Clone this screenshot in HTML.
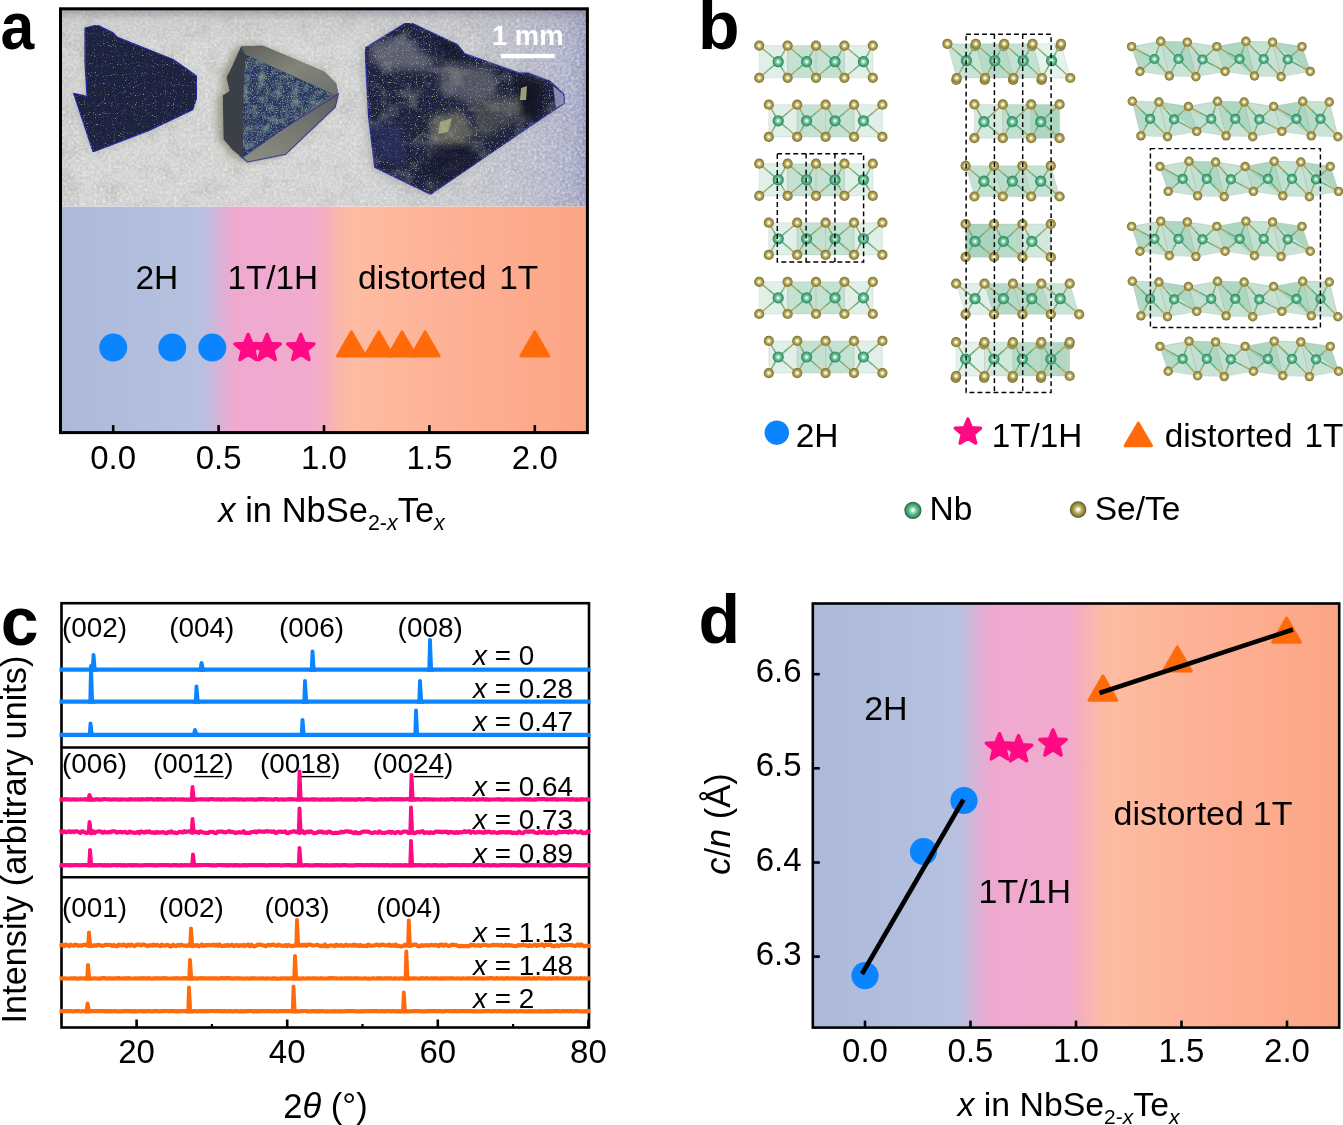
<!DOCTYPE html>
<html lang="en">
<head>
<meta charset="utf-8">
<title>NbSe2-xTex structural phases</title>
<style>
html,body{margin:0;padding:0;background:#fff;}
body{width:1343px;height:1125px;overflow:hidden;}
svg{display:block;}
text{font-family:"Liberation Sans",Arial,Helvetica,sans-serif;fill:#000;}
.b{font-weight:bold;}
.i{font-style:italic;}
</style>
</head>
<body>
<svg width="1343" height="1125" viewBox="0 0 1343 1125">

<defs>
<linearGradient id="bg" x1="0" y1="0" x2="1" y2="0">
  <stop offset="0" stop-color="#adb9d9"/>
  <stop offset="0.255" stop-color="#b6c1e0"/>
  <stop offset="0.275" stop-color="#bcbfe0"/>
  <stop offset="0.30" stop-color="#d4b4d8"/>
  <stop offset="0.325" stop-color="#ecaad0"/>
  <stop offset="0.35" stop-color="#f0a9cf"/>
  <stop offset="0.475" stop-color="#f1abce"/>
  <stop offset="0.505" stop-color="#f5b0bc"/>
  <stop offset="0.535" stop-color="#fbb8a8"/>
  <stop offset="0.56" stop-color="#fdbca2"/>
  <stop offset="0.75" stop-color="#fdb095"/>
  <stop offset="1" stop-color="#fca585"/>
</linearGradient>
<linearGradient id="bgD" x1="0" y1="0" x2="1" y2="0">
  <stop offset="0.000" stop-color="#adb9d9"/>
  <stop offset="0.263" stop-color="#b6c1e0"/>
  <stop offset="0.283" stop-color="#bcbfe0"/>
  <stop offset="0.308" stop-color="#d4b4d8"/>
  <stop offset="0.333" stop-color="#ecaad0"/>
  <stop offset="0.358" stop-color="#f0a9cf"/>
  <stop offset="0.483" stop-color="#f1abce"/>
  <stop offset="0.513" stop-color="#f5b0bc"/>
  <stop offset="0.543" stop-color="#fbb8a8"/>
  <stop offset="0.568" stop-color="#fdbca2"/>
  <stop offset="0.758" stop-color="#fdb095"/>
  <stop offset="1.000" stop-color="#fca585"/>
</linearGradient>
<radialGradient id="gSe" cx="0.5" cy="0.5" r="0.5" fx="0.5" fy="0.5">
  <stop offset="0" stop-color="#ffffff"/>
  <stop offset="0.13" stop-color="#fffff2"/>
  <stop offset="0.32" stop-color="#d8d190"/>
  <stop offset="0.55" stop-color="#b0a45c"/>
  <stop offset="0.8" stop-color="#94883f"/>
  <stop offset="1" stop-color="#756a30"/>
</radialGradient>
<radialGradient id="gNb" cx="0.5" cy="0.5" r="0.5" fx="0.5" fy="0.5">
  <stop offset="0" stop-color="#ffffff"/>
  <stop offset="0.12" stop-color="#eafff4"/>
  <stop offset="0.32" stop-color="#98dcb8"/>
  <stop offset="0.55" stop-color="#5db88c"/>
  <stop offset="0.8" stop-color="#469a70"/>
  <stop offset="1" stop-color="#327a56"/>
</radialGradient>
</defs>

<rect x="0" y="0" width="1343" height="1125" fill="#fff"/>
<g id="panel-a">
<defs>
<filter id="paper" x="0" y="0" width="1" height="1" color-interpolation-filters="sRGB">
  <feTurbulence type="fractalNoise" baseFrequency="0.35" numOctaves="3" seed="7" result="n"/>
  <feColorMatrix in="n" type="matrix" values="0 0 0 0 1  0 0 0 0 1  0 0 0 0 1  0.7 0.7 0 0 -0.55" result="wn"/>
  <feTurbulence type="fractalNoise" baseFrequency="0.05" numOctaves="2" seed="11" result="n2"/>
  <feColorMatrix in="n2" type="matrix" values="0 0 0 0 0.56  0 0 0 0 0.57  0 0 0 0 0.56  0 0.6 0 0 -0.28" result="dk"/>
  <feMerge><feMergeNode in="SourceGraphic"/><feMergeNode in="dk"/><feMergeNode in="wn"/></feMerge>
</filter>
<filter id="speck1" x="0" y="0" width="1" height="1" color-interpolation-filters="sRGB">
  <feTurbulence type="fractalNoise" baseFrequency="0.9" numOctaves="1" seed="3" result="n"/>
  <feColorMatrix in="n" type="matrix" values="0 0 0 0 0.55  0 0 0 0 0.60  0 0 0 0 0.50  3 3 0 0 -3.45" result="a"/>
  <feComposite in="a" in2="SourceGraphic" operator="in" result="s"/>
  <feMerge><feMergeNode in="SourceGraphic"/><feMergeNode in="s"/></feMerge>
</filter>
<filter id="speck2" x="0" y="0" width="1" height="1" color-interpolation-filters="sRGB">
  <feTurbulence type="fractalNoise" baseFrequency="0.12" numOctaves="3" seed="14" result="lf"/>
  <feColorMatrix in="lf" type="matrix" values="0 0 0 0 0.42  0 0 0 0 0.50  0 0 0 0 0.52  2.4 1.0 0 0 -1.5" result="la"/>
  <feComposite in="la" in2="SourceGraphic" operator="in" result="ls"/>
  <feTurbulence type="fractalNoise" baseFrequency="0.8" numOctaves="2" seed="5" result="n"/>
  <feColorMatrix in="n" type="matrix" values="0 0 0 0 0.50  0 0 0 0 0.62  0 0 0 0 0.58  2.4 2.4 0 0 -2.35" result="a"/>
  <feComposite in="a" in2="SourceGraphic" operator="in" result="s"/>
  <feMerge><feMergeNode in="SourceGraphic"/><feMergeNode in="ls"/><feMergeNode in="s"/></feMerge>
</filter>
<filter id="speck3" x="0" y="0" width="1" height="1" color-interpolation-filters="sRGB">
  <feTurbulence type="fractalNoise" baseFrequency="0.045 0.06" numOctaves="3" seed="21" result="lf"/>
  <feColorMatrix in="lf" type="matrix" values="0 0 0 0 0.40  0 0 0 0 0.41  0 0 0 0 0.46  2.2 0.8 0 0 -1.5" result="la"/>
  <feComposite in="la" in2="SourceGraphic" operator="in" result="ls"/>
  <feTurbulence type="fractalNoise" baseFrequency="0.85" numOctaves="1" seed="9" result="n"/>
  <feColorMatrix in="n" type="matrix" values="0 0 0 0 0.62  0 0 0 0 0.66  0 0 0 0 0.55  3 3 0 0 -3.3" result="a"/>
  <feComposite in="a" in2="SourceGraphic" operator="in" result="s"/>
  <feMerge><feMergeNode in="SourceGraphic"/><feMergeNode in="ls"/><feMergeNode in="s"/></feMerge>
</filter>
<filter id="soft"><feGaussianBlur stdDeviation="0.7"/></filter>
<filter id="shadow" x="-0.3" y="-0.3" width="1.6" height="1.6"><feGaussianBlur stdDeviation="4"/></filter>
<linearGradient id="photoBg" x1="0" y1="0" x2="1" y2="0">
  <stop offset="0" stop-color="#c6c7c5"/>
  <stop offset="0.04" stop-color="#cfd0ce"/>
  <stop offset="0.55" stop-color="#cdcecd"/>
  <stop offset="0.78" stop-color="#c2c3c9"/>
  <stop offset="0.9" stop-color="#b3b5c7"/>
  <stop offset="0.97" stop-color="#a5a8c4"/>
  <stop offset="1" stop-color="#8f92b8"/>
</linearGradient>
<linearGradient id="photoTop" x1="0" y1="0" x2="0" y2="1">
  <stop offset="0" stop-color="#5a5a6e" stop-opacity="0.45"/>
  <stop offset="0.06" stop-color="#8a8a96" stop-opacity="0.12"/>
  <stop offset="0.2" stop-color="#9a9aa0" stop-opacity="0"/>
  <stop offset="1" stop-color="#9a9aa0" stop-opacity="0"/>
</linearGradient>
<linearGradient id="f2a" x1="0" y1="0" x2="1" y2="1">
  <stop offset="0" stop-color="#5d605c"/>
  <stop offset="0.5" stop-color="#83857a"/>
  <stop offset="1" stop-color="#6d7070"/>
</linearGradient>
<linearGradient id="f2b" x1="1" y1="0" x2="0" y2="1">
  <stop offset="0" stop-color="#5c5f66"/>
  <stop offset="0.5" stop-color="#777972"/>
  <stop offset="1" stop-color="#8e8f82"/>
</linearGradient>
<clipPath id="clipA"><rect x="60.5" y="8.8" width="526.9" height="197.9"/></clipPath>
</defs>
<g clip-path="url(#clipA)">
<rect x="60.5" y="8.8" width="526.9" height="197.89999999999998" fill="url(#photoBg)" filter="url(#paper)"/>
<rect x="60.5" y="8.8" width="526.9" height="197.89999999999998" fill="url(#photoTop)"/>
<polygon points="85.1,28.1 97.2,25.1 113.0,33.0 117.5,37.5 172.6,59.3 186,68.5 196.7,76.4 196.3,98.5 192.7,109.5 148.5,130.6 93.2,151.7 73.7,93.4 87.1,96.5 85.1,62.3" fill="#8a8a84" opacity="0.35" filter="url(#shadow)" transform="translate(-2,2)"/>
<g filter="url(#soft)">
<polygon points="85.1,28.1 97.2,25.1 113.0,33.0 117.5,37.5 172.6,59.3 186,68.5 196.7,76.4 196.3,98.5 192.7,109.5 148.5,130.6 93.2,151.7 73.7,93.4 87.1,96.5 85.1,62.3" fill="#1c2140" stroke="#232796" stroke-width="1.4" stroke-linejoin="round" filter="url(#speck1)"/>
</g>
<polygon points="241,46.4 262.9,45.7 324.8,72.1 336.1,83.4 338.4,94 335.4,106.9 285.5,154.4 247.8,162 232.7,149.9 223.6,139.3 222.8,95.5 229.6,91 226.6,77.4 232.7,65.3" fill="#74765e" opacity="0.7" filter="url(#shadow)" transform="translate(-5,0)"/>
<g filter="url(#soft)">
<polygon points="241,46.4 262.9,45.7 324.8,72.1 336.1,83.4 338.4,94 335.4,106.9 285.5,154.4 247.8,162 232.7,149.9 223.6,139.3 222.8,95.5 229.6,91 226.6,77.4 232.7,65.3" fill="#3b4047"/>
<polygon points="241,46.4 262.9,45.7 324.8,72.1 336.1,83.4 338.4,94 332.4,94 245.5,54.7" fill="url(#f2a)"/>
<polygon points="332.4,94 338.4,94 335.4,106.9 285.5,154.4 247.8,162 243.2,157.5" fill="url(#f2b)"/>
<polygon points="245.5,54.7 332.4,94 243.2,157.5 242.6,110" fill="#28325e" filter="url(#speck2)"/>
<polygon points="338.4,94 335.4,106.9 285.5,154.4 247.8,162 240,156" fill="none" stroke="#2a2e92" stroke-width="1.2" stroke-opacity="0.7"/>
</g>
<polygon points="365.2,48.4 405.4,23.4 411.7,23.4 457.2,44.8 464.4,53.8 519.8,73.4 528.7,73.4 550.1,81.5 563.5,94 564.4,102.9 537.6,120.8 430.4,194.1 375,167.3 368.8,117.2" fill="#7c7c74" opacity="0.4" filter="url(#shadow)" transform="translate(-3,2)"/>
<g filter="url(#soft)">
<polygon points="365.2,48.4 405.4,23.4 411.7,23.4 457.2,44.8 464.4,53.8 519.8,73.4 528.7,73.4 550.1,81.5 563.5,94 564.4,102.9 537.6,120.8 430.4,194.1 375,167.3 368.8,117.2" fill="#1f233f" stroke="#24289a" stroke-width="1.6" stroke-linejoin="round" filter="url(#speck3)"/>
<clipPath id="clipC3"><polygon points="365.2,48.4 405.4,23.4 411.7,23.4 457.2,44.8 464.4,53.8 519.8,73.4 528.7,73.4 550.1,81.5 563.5,94 564.4,102.9 537.6,120.8 430.4,194.1 375,167.3 368.8,117.2"/></clipPath>
<filter id="blur4" x="-0.3" y="-0.3" width="1.6" height="1.6"><feGaussianBlur stdDeviation="3.5"/></filter>
<g clip-path="url(#clipC3)"><g filter="url(#blur4)">
<polygon points="371.4,42.2 403.6,38.4 435.8,61.8 425,70.8 385.7,69 369.7,60" fill="#8c8c98" opacity="0.55"/>
<polygon points="439.3,63.6 493,69 496.5,95.8 464.4,102.9 439.3,85" fill="#85868c" opacity="0.5"/>
<polygon points="430.4,117.2 460.8,110 475.1,135 450,145.8 428.6,135" fill="#9a9a78" opacity="0.5"/>
<polygon points="470,100 515,95 520,118 480,140" fill="#77786a" opacity="0.4"/>
<polygon points="516,76 542,82 540,118 520,118" fill="#090c1e" opacity="0.85"/>
<polygon points="430,145 470,140 480,162 442,188 424,172" fill="#0d1128" opacity="0.6"/>
<polygon points="436,36 458,46 464,58 444,60" fill="#0d1128" opacity="0.7"/>
<polygon points="372,120 400,125 405,165 378,160" fill="#2a3470" opacity="0.5"/>
</g></g>
<polygon points="440,122 452,118 448,132 438,134" fill="#d4d49a" opacity="0.55"/>
<polygon points="521,88 527,86 526,100 520,100" fill="#d6d69a" opacity="0.7"/>
<polygon points="553,86 563,94 564,103 556,108" fill="#a6acd8" opacity="0.75"/>
</g>
</g>
<rect x="501" y="53.8" width="53.6" height="4.4" fill="#fff"/>
<text x="527.80" y="44.80" font-size="27.4" text-anchor="middle" class="b" style="fill:#fff">1 mm</text>
<rect x="60.5" y="206.7" width="526.9" height="225.90000000000003" fill="url(#bg)"/>
<circle cx="113.20" cy="347.60" r="14" fill="#0a84ff"/>
<circle cx="172.22" cy="347.60" r="14" fill="#0a84ff"/>
<circle cx="212.28" cy="347.60" r="14" fill="#0a84ff"/>
<polygon points="248.11,334.40 251.71,343.35 261.33,344.00 253.93,350.19 256.28,359.55 248.11,354.42 239.94,359.55 242.30,350.19 234.89,344.00 244.52,343.35" fill="#ff0a84" stroke="#ff0a84" stroke-width="3.4" stroke-linejoin="round" />
<polygon points="267.08,334.40 270.68,343.35 280.30,344.00 272.90,350.19 275.25,359.55 267.08,354.42 258.91,359.55 261.27,350.19 253.86,344.00 263.49,343.35" fill="#ff0a84" stroke="#ff0a84" stroke-width="3.4" stroke-linejoin="round" />
<polygon points="300.81,334.40 304.41,343.35 314.03,344.00 306.63,350.19 308.98,359.55 300.81,354.42 292.64,359.55 295.00,350.19 287.59,344.00 297.22,343.35" fill="#ff0a84" stroke="#ff0a84" stroke-width="3.4" stroke-linejoin="round" />
<polygon points="351.40,331.90 365.30,356.10 337.50,356.10" fill="#ff6a0a" stroke="#ff6a0a" stroke-width="3" stroke-linejoin="round"/>
<polygon points="378.81,331.90 392.71,356.10 364.91,356.10" fill="#ff6a0a" stroke="#ff6a0a" stroke-width="3" stroke-linejoin="round"/>
<polygon points="402.00,331.90 415.90,356.10 388.10,356.10" fill="#ff6a0a" stroke="#ff6a0a" stroke-width="3" stroke-linejoin="round"/>
<polygon points="425.18,331.90 439.08,356.10 411.28,356.10" fill="#ff6a0a" stroke="#ff6a0a" stroke-width="3" stroke-linejoin="round"/>
<polygon points="534.80,331.90 548.70,356.10 520.90,356.10" fill="#ff6a0a" stroke="#ff6a0a" stroke-width="3" stroke-linejoin="round"/>
<text x="135.40" y="288.50" font-size="33.5" text-anchor="start" >2H</text>
<text x="227.40" y="288.50" font-size="33.3" text-anchor="start" >1T/1H</text>
<text x="358.00" y="288.50" font-size="33.5" text-anchor="start" >distorted</text>
<text x="538.30" y="288.50" font-size="33.5" text-anchor="end" >1T</text>
<line x1="113.20" y1="432.6" x2="113.20" y2="425.1" stroke="#000" stroke-width="2.6"/>
<text x="113.20" y="469.00" font-size="33" text-anchor="middle" >0.0</text>
<line x1="218.60" y1="432.6" x2="218.60" y2="425.1" stroke="#000" stroke-width="2.6"/>
<text x="218.60" y="469.00" font-size="33" text-anchor="middle" >0.5</text>
<line x1="324.00" y1="432.6" x2="324.00" y2="425.1" stroke="#000" stroke-width="2.6"/>
<text x="324.00" y="469.00" font-size="33" text-anchor="middle" >1.0</text>
<line x1="429.40" y1="432.6" x2="429.40" y2="425.1" stroke="#000" stroke-width="2.6"/>
<text x="429.40" y="469.00" font-size="33" text-anchor="middle" >1.5</text>
<line x1="534.80" y1="432.6" x2="534.80" y2="425.1" stroke="#000" stroke-width="2.6"/>
<text x="534.80" y="469.00" font-size="33" text-anchor="middle" >2.0</text>
<rect x="60.5" y="8.8" width="526.9" height="423.8" fill="none" stroke="#000" stroke-width="3"/>
<text x="331.60" y="522.00" font-size="34.5" text-anchor="middle"><tspan class="i">x</tspan> in NbSe<tspan font-size="21.4" dy="7.6">2-<tspan class="i">x</tspan></tspan><tspan dy="-7.6">Te</tspan><tspan font-size="21.4" dy="7.6" class="i">x</tspan></text>
<text transform="translate(0.6,49) scale(0.905,1)" font-size="67" class="b">a</text>
</g><g id="panel-b">
<polygon points="759.2,45.6 787.6,45.6 787.6,77.8 759.2,77.8" fill="#72b894" fill-opacity="0.22" stroke="#9aa8a0" stroke-opacity="0.35" stroke-width="0.6"/><polygon points="787.6,45.6 816.0,45.6 816.0,77.8 787.6,77.8" fill="#72b894" fill-opacity="0.42" stroke="#9aa8a0" stroke-opacity="0.35" stroke-width="0.6"/><polygon points="816.0,45.6 844.4,45.6 844.4,77.8 816.0,77.8" fill="#72b894" fill-opacity="0.42" stroke="#9aa8a0" stroke-opacity="0.35" stroke-width="0.6"/><polygon points="844.4,45.6 872.8,45.6 872.8,77.8 844.4,77.8" fill="#72b894" fill-opacity="0.22" stroke="#9aa8a0" stroke-opacity="0.35" stroke-width="0.6"/><line x1="778.2" y1="61.7" x2="768.7" y2="53.7" stroke="#56b488" stroke-width="1.5"/><line x1="768.7" y1="53.7" x2="759.2" y2="45.6" stroke="#b3a660" stroke-width="1.5"/><line x1="778.2" y1="61.7" x2="782.9" y2="53.7" stroke="#56b488" stroke-width="1.5"/><line x1="782.9" y1="53.7" x2="787.6" y2="45.6" stroke="#b3a660" stroke-width="1.5"/><line x1="778.2" y1="61.7" x2="768.7" y2="69.8" stroke="#56b488" stroke-width="1.5"/><line x1="768.7" y1="69.8" x2="759.2" y2="77.8" stroke="#b3a660" stroke-width="1.5"/><line x1="778.2" y1="61.7" x2="782.9" y2="69.8" stroke="#56b488" stroke-width="1.5"/><line x1="782.9" y1="69.8" x2="787.6" y2="77.8" stroke="#b3a660" stroke-width="1.5"/><line x1="806.6" y1="61.7" x2="797.1" y2="53.7" stroke="#56b488" stroke-width="1.5"/><line x1="797.1" y1="53.7" x2="787.6" y2="45.6" stroke="#b3a660" stroke-width="1.5"/><line x1="806.6" y1="61.7" x2="811.3" y2="53.7" stroke="#56b488" stroke-width="1.5"/><line x1="811.3" y1="53.7" x2="816.0" y2="45.6" stroke="#b3a660" stroke-width="1.5"/><line x1="806.6" y1="61.7" x2="797.1" y2="69.8" stroke="#56b488" stroke-width="1.5"/><line x1="797.1" y1="69.8" x2="787.6" y2="77.8" stroke="#b3a660" stroke-width="1.5"/><line x1="806.6" y1="61.7" x2="811.3" y2="69.8" stroke="#56b488" stroke-width="1.5"/><line x1="811.3" y1="69.8" x2="816.0" y2="77.8" stroke="#b3a660" stroke-width="1.5"/><line x1="835.0" y1="61.7" x2="825.5" y2="53.7" stroke="#56b488" stroke-width="1.5"/><line x1="825.5" y1="53.7" x2="816.0" y2="45.6" stroke="#b3a660" stroke-width="1.5"/><line x1="835.0" y1="61.7" x2="839.7" y2="53.7" stroke="#56b488" stroke-width="1.5"/><line x1="839.7" y1="53.7" x2="844.4" y2="45.6" stroke="#b3a660" stroke-width="1.5"/><line x1="835.0" y1="61.7" x2="825.5" y2="69.8" stroke="#56b488" stroke-width="1.5"/><line x1="825.5" y1="69.8" x2="816.0" y2="77.8" stroke="#b3a660" stroke-width="1.5"/><line x1="835.0" y1="61.7" x2="839.7" y2="69.8" stroke="#56b488" stroke-width="1.5"/><line x1="839.7" y1="69.8" x2="844.4" y2="77.8" stroke="#b3a660" stroke-width="1.5"/><line x1="863.4" y1="61.7" x2="853.9" y2="53.7" stroke="#56b488" stroke-width="1.5"/><line x1="853.9" y1="53.7" x2="844.4" y2="45.6" stroke="#b3a660" stroke-width="1.5"/><line x1="863.4" y1="61.7" x2="868.1" y2="53.7" stroke="#56b488" stroke-width="1.5"/><line x1="868.1" y1="53.7" x2="872.8" y2="45.6" stroke="#b3a660" stroke-width="1.5"/><line x1="863.4" y1="61.7" x2="853.9" y2="69.8" stroke="#56b488" stroke-width="1.5"/><line x1="853.9" y1="69.8" x2="844.4" y2="77.8" stroke="#b3a660" stroke-width="1.5"/><line x1="863.4" y1="61.7" x2="868.1" y2="69.8" stroke="#56b488" stroke-width="1.5"/><line x1="868.1" y1="69.8" x2="872.8" y2="77.8" stroke="#b3a660" stroke-width="1.5"/><circle cx="778.2" cy="61.7" r="5.6" fill="url(#gNb)"/><circle cx="806.6" cy="61.7" r="5.6" fill="url(#gNb)"/><circle cx="835.0" cy="61.7" r="5.6" fill="url(#gNb)"/><circle cx="863.4" cy="61.7" r="5.6" fill="url(#gNb)"/><circle cx="759.2" cy="45.6" r="5.1" fill="url(#gSe)"/><circle cx="787.6" cy="45.6" r="5.1" fill="url(#gSe)"/><circle cx="816.0" cy="45.6" r="5.1" fill="url(#gSe)"/><circle cx="844.4" cy="45.6" r="5.1" fill="url(#gSe)"/><circle cx="872.8" cy="45.6" r="5.1" fill="url(#gSe)"/><circle cx="759.2" cy="77.8" r="5.1" fill="url(#gSe)"/><circle cx="787.6" cy="77.8" r="5.1" fill="url(#gSe)"/><circle cx="816.0" cy="77.8" r="5.1" fill="url(#gSe)"/><circle cx="844.4" cy="77.8" r="5.1" fill="url(#gSe)"/><circle cx="872.8" cy="77.8" r="5.1" fill="url(#gSe)"/><polygon points="768.8,104.7 797.2,104.7 797.2,136.9 768.8,136.9" fill="#72b894" fill-opacity="0.22" stroke="#9aa8a0" stroke-opacity="0.35" stroke-width="0.6"/><polygon points="797.2,104.7 825.6,104.7 825.6,136.9 797.2,136.9" fill="#72b894" fill-opacity="0.42" stroke="#9aa8a0" stroke-opacity="0.35" stroke-width="0.6"/><polygon points="825.6,104.7 854.0,104.7 854.0,136.9 825.6,136.9" fill="#72b894" fill-opacity="0.42" stroke="#9aa8a0" stroke-opacity="0.35" stroke-width="0.6"/><polygon points="854.0,104.7 882.4,104.7 882.4,136.9 854.0,136.9" fill="#72b894" fill-opacity="0.22" stroke="#9aa8a0" stroke-opacity="0.35" stroke-width="0.6"/><line x1="778.2" y1="120.8" x2="773.5" y2="112.7" stroke="#56b488" stroke-width="1.5"/><line x1="773.5" y1="112.7" x2="768.8" y2="104.7" stroke="#b3a660" stroke-width="1.5"/><line x1="778.2" y1="120.8" x2="787.7" y2="112.7" stroke="#56b488" stroke-width="1.5"/><line x1="787.7" y1="112.7" x2="797.2" y2="104.7" stroke="#b3a660" stroke-width="1.5"/><line x1="778.2" y1="120.8" x2="773.5" y2="128.8" stroke="#56b488" stroke-width="1.5"/><line x1="773.5" y1="128.8" x2="768.8" y2="136.9" stroke="#b3a660" stroke-width="1.5"/><line x1="778.2" y1="120.8" x2="787.7" y2="128.8" stroke="#56b488" stroke-width="1.5"/><line x1="787.7" y1="128.8" x2="797.2" y2="136.9" stroke="#b3a660" stroke-width="1.5"/><line x1="806.6" y1="120.8" x2="801.9" y2="112.7" stroke="#56b488" stroke-width="1.5"/><line x1="801.9" y1="112.7" x2="797.2" y2="104.7" stroke="#b3a660" stroke-width="1.5"/><line x1="806.6" y1="120.8" x2="816.1" y2="112.7" stroke="#56b488" stroke-width="1.5"/><line x1="816.1" y1="112.7" x2="825.6" y2="104.7" stroke="#b3a660" stroke-width="1.5"/><line x1="806.6" y1="120.8" x2="801.9" y2="128.8" stroke="#56b488" stroke-width="1.5"/><line x1="801.9" y1="128.8" x2="797.2" y2="136.9" stroke="#b3a660" stroke-width="1.5"/><line x1="806.6" y1="120.8" x2="816.1" y2="128.8" stroke="#56b488" stroke-width="1.5"/><line x1="816.1" y1="128.8" x2="825.6" y2="136.9" stroke="#b3a660" stroke-width="1.5"/><line x1="835.0" y1="120.8" x2="830.3" y2="112.7" stroke="#56b488" stroke-width="1.5"/><line x1="830.3" y1="112.7" x2="825.6" y2="104.7" stroke="#b3a660" stroke-width="1.5"/><line x1="835.0" y1="120.8" x2="844.5" y2="112.7" stroke="#56b488" stroke-width="1.5"/><line x1="844.5" y1="112.7" x2="854.0" y2="104.7" stroke="#b3a660" stroke-width="1.5"/><line x1="835.0" y1="120.8" x2="830.3" y2="128.8" stroke="#56b488" stroke-width="1.5"/><line x1="830.3" y1="128.8" x2="825.6" y2="136.9" stroke="#b3a660" stroke-width="1.5"/><line x1="835.0" y1="120.8" x2="844.5" y2="128.8" stroke="#56b488" stroke-width="1.5"/><line x1="844.5" y1="128.8" x2="854.0" y2="136.9" stroke="#b3a660" stroke-width="1.5"/><line x1="863.4" y1="120.8" x2="858.7" y2="112.7" stroke="#56b488" stroke-width="1.5"/><line x1="858.7" y1="112.7" x2="854.0" y2="104.7" stroke="#b3a660" stroke-width="1.5"/><line x1="863.4" y1="120.8" x2="872.9" y2="112.7" stroke="#56b488" stroke-width="1.5"/><line x1="872.9" y1="112.7" x2="882.4" y2="104.7" stroke="#b3a660" stroke-width="1.5"/><line x1="863.4" y1="120.8" x2="858.7" y2="128.8" stroke="#56b488" stroke-width="1.5"/><line x1="858.7" y1="128.8" x2="854.0" y2="136.9" stroke="#b3a660" stroke-width="1.5"/><line x1="863.4" y1="120.8" x2="872.9" y2="128.8" stroke="#56b488" stroke-width="1.5"/><line x1="872.9" y1="128.8" x2="882.4" y2="136.9" stroke="#b3a660" stroke-width="1.5"/><circle cx="778.2" cy="120.8" r="5.6" fill="url(#gNb)"/><circle cx="806.6" cy="120.8" r="5.6" fill="url(#gNb)"/><circle cx="835.0" cy="120.8" r="5.6" fill="url(#gNb)"/><circle cx="863.4" cy="120.8" r="5.6" fill="url(#gNb)"/><circle cx="768.8" cy="104.7" r="5.1" fill="url(#gSe)"/><circle cx="797.2" cy="104.7" r="5.1" fill="url(#gSe)"/><circle cx="825.6" cy="104.7" r="5.1" fill="url(#gSe)"/><circle cx="854.0" cy="104.7" r="5.1" fill="url(#gSe)"/><circle cx="882.4" cy="104.7" r="5.1" fill="url(#gSe)"/><circle cx="768.8" cy="136.9" r="5.1" fill="url(#gSe)"/><circle cx="797.2" cy="136.9" r="5.1" fill="url(#gSe)"/><circle cx="825.6" cy="136.9" r="5.1" fill="url(#gSe)"/><circle cx="854.0" cy="136.9" r="5.1" fill="url(#gSe)"/><circle cx="882.4" cy="136.9" r="5.1" fill="url(#gSe)"/><polygon points="759.2,163.7 787.6,163.7 787.6,195.9 759.2,195.9" fill="#72b894" fill-opacity="0.22" stroke="#9aa8a0" stroke-opacity="0.35" stroke-width="0.6"/><polygon points="787.6,163.7 816.0,163.7 816.0,195.9 787.6,195.9" fill="#72b894" fill-opacity="0.42" stroke="#9aa8a0" stroke-opacity="0.35" stroke-width="0.6"/><polygon points="816.0,163.7 844.4,163.7 844.4,195.9 816.0,195.9" fill="#72b894" fill-opacity="0.42" stroke="#9aa8a0" stroke-opacity="0.35" stroke-width="0.6"/><polygon points="844.4,163.7 872.8,163.7 872.8,195.9 844.4,195.9" fill="#72b894" fill-opacity="0.22" stroke="#9aa8a0" stroke-opacity="0.35" stroke-width="0.6"/><line x1="778.2" y1="179.8" x2="768.7" y2="171.8" stroke="#56b488" stroke-width="1.5"/><line x1="768.7" y1="171.8" x2="759.2" y2="163.7" stroke="#b3a660" stroke-width="1.5"/><line x1="778.2" y1="179.8" x2="782.9" y2="171.8" stroke="#56b488" stroke-width="1.5"/><line x1="782.9" y1="171.8" x2="787.6" y2="163.7" stroke="#b3a660" stroke-width="1.5"/><line x1="778.2" y1="179.8" x2="768.7" y2="187.8" stroke="#56b488" stroke-width="1.5"/><line x1="768.7" y1="187.8" x2="759.2" y2="195.9" stroke="#b3a660" stroke-width="1.5"/><line x1="778.2" y1="179.8" x2="782.9" y2="187.8" stroke="#56b488" stroke-width="1.5"/><line x1="782.9" y1="187.8" x2="787.6" y2="195.9" stroke="#b3a660" stroke-width="1.5"/><line x1="806.6" y1="179.8" x2="797.1" y2="171.8" stroke="#56b488" stroke-width="1.5"/><line x1="797.1" y1="171.8" x2="787.6" y2="163.7" stroke="#b3a660" stroke-width="1.5"/><line x1="806.6" y1="179.8" x2="811.3" y2="171.8" stroke="#56b488" stroke-width="1.5"/><line x1="811.3" y1="171.8" x2="816.0" y2="163.7" stroke="#b3a660" stroke-width="1.5"/><line x1="806.6" y1="179.8" x2="797.1" y2="187.8" stroke="#56b488" stroke-width="1.5"/><line x1="797.1" y1="187.8" x2="787.6" y2="195.9" stroke="#b3a660" stroke-width="1.5"/><line x1="806.6" y1="179.8" x2="811.3" y2="187.8" stroke="#56b488" stroke-width="1.5"/><line x1="811.3" y1="187.8" x2="816.0" y2="195.9" stroke="#b3a660" stroke-width="1.5"/><line x1="835.0" y1="179.8" x2="825.5" y2="171.8" stroke="#56b488" stroke-width="1.5"/><line x1="825.5" y1="171.8" x2="816.0" y2="163.7" stroke="#b3a660" stroke-width="1.5"/><line x1="835.0" y1="179.8" x2="839.7" y2="171.8" stroke="#56b488" stroke-width="1.5"/><line x1="839.7" y1="171.8" x2="844.4" y2="163.7" stroke="#b3a660" stroke-width="1.5"/><line x1="835.0" y1="179.8" x2="825.5" y2="187.8" stroke="#56b488" stroke-width="1.5"/><line x1="825.5" y1="187.8" x2="816.0" y2="195.9" stroke="#b3a660" stroke-width="1.5"/><line x1="835.0" y1="179.8" x2="839.7" y2="187.8" stroke="#56b488" stroke-width="1.5"/><line x1="839.7" y1="187.8" x2="844.4" y2="195.9" stroke="#b3a660" stroke-width="1.5"/><line x1="863.4" y1="179.8" x2="853.9" y2="171.8" stroke="#56b488" stroke-width="1.5"/><line x1="853.9" y1="171.8" x2="844.4" y2="163.7" stroke="#b3a660" stroke-width="1.5"/><line x1="863.4" y1="179.8" x2="868.1" y2="171.8" stroke="#56b488" stroke-width="1.5"/><line x1="868.1" y1="171.8" x2="872.8" y2="163.7" stroke="#b3a660" stroke-width="1.5"/><line x1="863.4" y1="179.8" x2="853.9" y2="187.8" stroke="#56b488" stroke-width="1.5"/><line x1="853.9" y1="187.8" x2="844.4" y2="195.9" stroke="#b3a660" stroke-width="1.5"/><line x1="863.4" y1="179.8" x2="868.1" y2="187.8" stroke="#56b488" stroke-width="1.5"/><line x1="868.1" y1="187.8" x2="872.8" y2="195.9" stroke="#b3a660" stroke-width="1.5"/><circle cx="778.2" cy="179.8" r="5.6" fill="url(#gNb)"/><circle cx="806.6" cy="179.8" r="5.6" fill="url(#gNb)"/><circle cx="835.0" cy="179.8" r="5.6" fill="url(#gNb)"/><circle cx="863.4" cy="179.8" r="5.6" fill="url(#gNb)"/><circle cx="759.2" cy="163.7" r="5.1" fill="url(#gSe)"/><circle cx="787.6" cy="163.7" r="5.1" fill="url(#gSe)"/><circle cx="816.0" cy="163.7" r="5.1" fill="url(#gSe)"/><circle cx="844.4" cy="163.7" r="5.1" fill="url(#gSe)"/><circle cx="872.8" cy="163.7" r="5.1" fill="url(#gSe)"/><circle cx="759.2" cy="195.9" r="5.1" fill="url(#gSe)"/><circle cx="787.6" cy="195.9" r="5.1" fill="url(#gSe)"/><circle cx="816.0" cy="195.9" r="5.1" fill="url(#gSe)"/><circle cx="844.4" cy="195.9" r="5.1" fill="url(#gSe)"/><circle cx="872.8" cy="195.9" r="5.1" fill="url(#gSe)"/><polygon points="768.8,222.7 797.2,222.7 797.2,254.9 768.8,254.9" fill="#72b894" fill-opacity="0.22" stroke="#9aa8a0" stroke-opacity="0.35" stroke-width="0.6"/><polygon points="797.2,222.7 825.6,222.7 825.6,254.9 797.2,254.9" fill="#72b894" fill-opacity="0.42" stroke="#9aa8a0" stroke-opacity="0.35" stroke-width="0.6"/><polygon points="825.6,222.7 854.0,222.7 854.0,254.9 825.6,254.9" fill="#72b894" fill-opacity="0.42" stroke="#9aa8a0" stroke-opacity="0.35" stroke-width="0.6"/><polygon points="854.0,222.7 882.4,222.7 882.4,254.9 854.0,254.9" fill="#72b894" fill-opacity="0.22" stroke="#9aa8a0" stroke-opacity="0.35" stroke-width="0.6"/><line x1="778.2" y1="238.8" x2="773.5" y2="230.8" stroke="#56b488" stroke-width="1.5"/><line x1="773.5" y1="230.8" x2="768.8" y2="222.7" stroke="#b3a660" stroke-width="1.5"/><line x1="778.2" y1="238.8" x2="787.7" y2="230.8" stroke="#56b488" stroke-width="1.5"/><line x1="787.7" y1="230.8" x2="797.2" y2="222.7" stroke="#b3a660" stroke-width="1.5"/><line x1="778.2" y1="238.8" x2="773.5" y2="246.9" stroke="#56b488" stroke-width="1.5"/><line x1="773.5" y1="246.9" x2="768.8" y2="254.9" stroke="#b3a660" stroke-width="1.5"/><line x1="778.2" y1="238.8" x2="787.7" y2="246.9" stroke="#56b488" stroke-width="1.5"/><line x1="787.7" y1="246.9" x2="797.2" y2="254.9" stroke="#b3a660" stroke-width="1.5"/><line x1="806.6" y1="238.8" x2="801.9" y2="230.8" stroke="#56b488" stroke-width="1.5"/><line x1="801.9" y1="230.8" x2="797.2" y2="222.7" stroke="#b3a660" stroke-width="1.5"/><line x1="806.6" y1="238.8" x2="816.1" y2="230.8" stroke="#56b488" stroke-width="1.5"/><line x1="816.1" y1="230.8" x2="825.6" y2="222.7" stroke="#b3a660" stroke-width="1.5"/><line x1="806.6" y1="238.8" x2="801.9" y2="246.9" stroke="#56b488" stroke-width="1.5"/><line x1="801.9" y1="246.9" x2="797.2" y2="254.9" stroke="#b3a660" stroke-width="1.5"/><line x1="806.6" y1="238.8" x2="816.1" y2="246.9" stroke="#56b488" stroke-width="1.5"/><line x1="816.1" y1="246.9" x2="825.6" y2="254.9" stroke="#b3a660" stroke-width="1.5"/><line x1="835.0" y1="238.8" x2="830.3" y2="230.8" stroke="#56b488" stroke-width="1.5"/><line x1="830.3" y1="230.8" x2="825.6" y2="222.7" stroke="#b3a660" stroke-width="1.5"/><line x1="835.0" y1="238.8" x2="844.5" y2="230.8" stroke="#56b488" stroke-width="1.5"/><line x1="844.5" y1="230.8" x2="854.0" y2="222.7" stroke="#b3a660" stroke-width="1.5"/><line x1="835.0" y1="238.8" x2="830.3" y2="246.9" stroke="#56b488" stroke-width="1.5"/><line x1="830.3" y1="246.9" x2="825.6" y2="254.9" stroke="#b3a660" stroke-width="1.5"/><line x1="835.0" y1="238.8" x2="844.5" y2="246.9" stroke="#56b488" stroke-width="1.5"/><line x1="844.5" y1="246.9" x2="854.0" y2="254.9" stroke="#b3a660" stroke-width="1.5"/><line x1="863.4" y1="238.8" x2="858.7" y2="230.8" stroke="#56b488" stroke-width="1.5"/><line x1="858.7" y1="230.8" x2="854.0" y2="222.7" stroke="#b3a660" stroke-width="1.5"/><line x1="863.4" y1="238.8" x2="872.9" y2="230.8" stroke="#56b488" stroke-width="1.5"/><line x1="872.9" y1="230.8" x2="882.4" y2="222.7" stroke="#b3a660" stroke-width="1.5"/><line x1="863.4" y1="238.8" x2="858.7" y2="246.9" stroke="#56b488" stroke-width="1.5"/><line x1="858.7" y1="246.9" x2="854.0" y2="254.9" stroke="#b3a660" stroke-width="1.5"/><line x1="863.4" y1="238.8" x2="872.9" y2="246.9" stroke="#56b488" stroke-width="1.5"/><line x1="872.9" y1="246.9" x2="882.4" y2="254.9" stroke="#b3a660" stroke-width="1.5"/><circle cx="778.2" cy="238.8" r="5.6" fill="url(#gNb)"/><circle cx="806.6" cy="238.8" r="5.6" fill="url(#gNb)"/><circle cx="835.0" cy="238.8" r="5.6" fill="url(#gNb)"/><circle cx="863.4" cy="238.8" r="5.6" fill="url(#gNb)"/><circle cx="768.8" cy="222.7" r="5.1" fill="url(#gSe)"/><circle cx="797.2" cy="222.7" r="5.1" fill="url(#gSe)"/><circle cx="825.6" cy="222.7" r="5.1" fill="url(#gSe)"/><circle cx="854.0" cy="222.7" r="5.1" fill="url(#gSe)"/><circle cx="882.4" cy="222.7" r="5.1" fill="url(#gSe)"/><circle cx="768.8" cy="254.9" r="5.1" fill="url(#gSe)"/><circle cx="797.2" cy="254.9" r="5.1" fill="url(#gSe)"/><circle cx="825.6" cy="254.9" r="5.1" fill="url(#gSe)"/><circle cx="854.0" cy="254.9" r="5.1" fill="url(#gSe)"/><circle cx="882.4" cy="254.9" r="5.1" fill="url(#gSe)"/><polygon points="759.2,281.8 787.6,281.8 787.6,314.0 759.2,314.0" fill="#72b894" fill-opacity="0.22" stroke="#9aa8a0" stroke-opacity="0.35" stroke-width="0.6"/><polygon points="787.6,281.8 816.0,281.8 816.0,314.0 787.6,314.0" fill="#72b894" fill-opacity="0.42" stroke="#9aa8a0" stroke-opacity="0.35" stroke-width="0.6"/><polygon points="816.0,281.8 844.4,281.8 844.4,314.0 816.0,314.0" fill="#72b894" fill-opacity="0.42" stroke="#9aa8a0" stroke-opacity="0.35" stroke-width="0.6"/><polygon points="844.4,281.8 872.8,281.8 872.8,314.0 844.4,314.0" fill="#72b894" fill-opacity="0.22" stroke="#9aa8a0" stroke-opacity="0.35" stroke-width="0.6"/><line x1="778.2" y1="297.9" x2="768.7" y2="289.9" stroke="#56b488" stroke-width="1.5"/><line x1="768.7" y1="289.9" x2="759.2" y2="281.8" stroke="#b3a660" stroke-width="1.5"/><line x1="778.2" y1="297.9" x2="782.9" y2="289.9" stroke="#56b488" stroke-width="1.5"/><line x1="782.9" y1="289.9" x2="787.6" y2="281.8" stroke="#b3a660" stroke-width="1.5"/><line x1="778.2" y1="297.9" x2="768.7" y2="306.0" stroke="#56b488" stroke-width="1.5"/><line x1="768.7" y1="306.0" x2="759.2" y2="314.0" stroke="#b3a660" stroke-width="1.5"/><line x1="778.2" y1="297.9" x2="782.9" y2="306.0" stroke="#56b488" stroke-width="1.5"/><line x1="782.9" y1="306.0" x2="787.6" y2="314.0" stroke="#b3a660" stroke-width="1.5"/><line x1="806.6" y1="297.9" x2="797.1" y2="289.9" stroke="#56b488" stroke-width="1.5"/><line x1="797.1" y1="289.9" x2="787.6" y2="281.8" stroke="#b3a660" stroke-width="1.5"/><line x1="806.6" y1="297.9" x2="811.3" y2="289.9" stroke="#56b488" stroke-width="1.5"/><line x1="811.3" y1="289.9" x2="816.0" y2="281.8" stroke="#b3a660" stroke-width="1.5"/><line x1="806.6" y1="297.9" x2="797.1" y2="306.0" stroke="#56b488" stroke-width="1.5"/><line x1="797.1" y1="306.0" x2="787.6" y2="314.0" stroke="#b3a660" stroke-width="1.5"/><line x1="806.6" y1="297.9" x2="811.3" y2="306.0" stroke="#56b488" stroke-width="1.5"/><line x1="811.3" y1="306.0" x2="816.0" y2="314.0" stroke="#b3a660" stroke-width="1.5"/><line x1="835.0" y1="297.9" x2="825.5" y2="289.9" stroke="#56b488" stroke-width="1.5"/><line x1="825.5" y1="289.9" x2="816.0" y2="281.8" stroke="#b3a660" stroke-width="1.5"/><line x1="835.0" y1="297.9" x2="839.7" y2="289.9" stroke="#56b488" stroke-width="1.5"/><line x1="839.7" y1="289.9" x2="844.4" y2="281.8" stroke="#b3a660" stroke-width="1.5"/><line x1="835.0" y1="297.9" x2="825.5" y2="306.0" stroke="#56b488" stroke-width="1.5"/><line x1="825.5" y1="306.0" x2="816.0" y2="314.0" stroke="#b3a660" stroke-width="1.5"/><line x1="835.0" y1="297.9" x2="839.7" y2="306.0" stroke="#56b488" stroke-width="1.5"/><line x1="839.7" y1="306.0" x2="844.4" y2="314.0" stroke="#b3a660" stroke-width="1.5"/><line x1="863.4" y1="297.9" x2="853.9" y2="289.9" stroke="#56b488" stroke-width="1.5"/><line x1="853.9" y1="289.9" x2="844.4" y2="281.8" stroke="#b3a660" stroke-width="1.5"/><line x1="863.4" y1="297.9" x2="868.1" y2="289.9" stroke="#56b488" stroke-width="1.5"/><line x1="868.1" y1="289.9" x2="872.8" y2="281.8" stroke="#b3a660" stroke-width="1.5"/><line x1="863.4" y1="297.9" x2="853.9" y2="306.0" stroke="#56b488" stroke-width="1.5"/><line x1="853.9" y1="306.0" x2="844.4" y2="314.0" stroke="#b3a660" stroke-width="1.5"/><line x1="863.4" y1="297.9" x2="868.1" y2="306.0" stroke="#56b488" stroke-width="1.5"/><line x1="868.1" y1="306.0" x2="872.8" y2="314.0" stroke="#b3a660" stroke-width="1.5"/><circle cx="778.2" cy="297.9" r="5.6" fill="url(#gNb)"/><circle cx="806.6" cy="297.9" r="5.6" fill="url(#gNb)"/><circle cx="835.0" cy="297.9" r="5.6" fill="url(#gNb)"/><circle cx="863.4" cy="297.9" r="5.6" fill="url(#gNb)"/><circle cx="759.2" cy="281.8" r="5.1" fill="url(#gSe)"/><circle cx="787.6" cy="281.8" r="5.1" fill="url(#gSe)"/><circle cx="816.0" cy="281.8" r="5.1" fill="url(#gSe)"/><circle cx="844.4" cy="281.8" r="5.1" fill="url(#gSe)"/><circle cx="872.8" cy="281.8" r="5.1" fill="url(#gSe)"/><circle cx="759.2" cy="314.0" r="5.1" fill="url(#gSe)"/><circle cx="787.6" cy="314.0" r="5.1" fill="url(#gSe)"/><circle cx="816.0" cy="314.0" r="5.1" fill="url(#gSe)"/><circle cx="844.4" cy="314.0" r="5.1" fill="url(#gSe)"/><circle cx="872.8" cy="314.0" r="5.1" fill="url(#gSe)"/><polygon points="768.8,340.9 797.2,340.9 797.2,373.1 768.8,373.1" fill="#72b894" fill-opacity="0.22" stroke="#9aa8a0" stroke-opacity="0.35" stroke-width="0.6"/><polygon points="797.2,340.9 825.6,340.9 825.6,373.1 797.2,373.1" fill="#72b894" fill-opacity="0.42" stroke="#9aa8a0" stroke-opacity="0.35" stroke-width="0.6"/><polygon points="825.6,340.9 854.0,340.9 854.0,373.1 825.6,373.1" fill="#72b894" fill-opacity="0.42" stroke="#9aa8a0" stroke-opacity="0.35" stroke-width="0.6"/><polygon points="854.0,340.9 882.4,340.9 882.4,373.1 854.0,373.1" fill="#72b894" fill-opacity="0.22" stroke="#9aa8a0" stroke-opacity="0.35" stroke-width="0.6"/><line x1="778.2" y1="357.0" x2="773.5" y2="348.9" stroke="#56b488" stroke-width="1.5"/><line x1="773.5" y1="348.9" x2="768.8" y2="340.9" stroke="#b3a660" stroke-width="1.5"/><line x1="778.2" y1="357.0" x2="787.7" y2="348.9" stroke="#56b488" stroke-width="1.5"/><line x1="787.7" y1="348.9" x2="797.2" y2="340.9" stroke="#b3a660" stroke-width="1.5"/><line x1="778.2" y1="357.0" x2="773.5" y2="365.0" stroke="#56b488" stroke-width="1.5"/><line x1="773.5" y1="365.0" x2="768.8" y2="373.1" stroke="#b3a660" stroke-width="1.5"/><line x1="778.2" y1="357.0" x2="787.7" y2="365.0" stroke="#56b488" stroke-width="1.5"/><line x1="787.7" y1="365.0" x2="797.2" y2="373.1" stroke="#b3a660" stroke-width="1.5"/><line x1="806.6" y1="357.0" x2="801.9" y2="348.9" stroke="#56b488" stroke-width="1.5"/><line x1="801.9" y1="348.9" x2="797.2" y2="340.9" stroke="#b3a660" stroke-width="1.5"/><line x1="806.6" y1="357.0" x2="816.1" y2="348.9" stroke="#56b488" stroke-width="1.5"/><line x1="816.1" y1="348.9" x2="825.6" y2="340.9" stroke="#b3a660" stroke-width="1.5"/><line x1="806.6" y1="357.0" x2="801.9" y2="365.0" stroke="#56b488" stroke-width="1.5"/><line x1="801.9" y1="365.0" x2="797.2" y2="373.1" stroke="#b3a660" stroke-width="1.5"/><line x1="806.6" y1="357.0" x2="816.1" y2="365.0" stroke="#56b488" stroke-width="1.5"/><line x1="816.1" y1="365.0" x2="825.6" y2="373.1" stroke="#b3a660" stroke-width="1.5"/><line x1="835.0" y1="357.0" x2="830.3" y2="348.9" stroke="#56b488" stroke-width="1.5"/><line x1="830.3" y1="348.9" x2="825.6" y2="340.9" stroke="#b3a660" stroke-width="1.5"/><line x1="835.0" y1="357.0" x2="844.5" y2="348.9" stroke="#56b488" stroke-width="1.5"/><line x1="844.5" y1="348.9" x2="854.0" y2="340.9" stroke="#b3a660" stroke-width="1.5"/><line x1="835.0" y1="357.0" x2="830.3" y2="365.0" stroke="#56b488" stroke-width="1.5"/><line x1="830.3" y1="365.0" x2="825.6" y2="373.1" stroke="#b3a660" stroke-width="1.5"/><line x1="835.0" y1="357.0" x2="844.5" y2="365.0" stroke="#56b488" stroke-width="1.5"/><line x1="844.5" y1="365.0" x2="854.0" y2="373.1" stroke="#b3a660" stroke-width="1.5"/><line x1="863.4" y1="357.0" x2="858.7" y2="348.9" stroke="#56b488" stroke-width="1.5"/><line x1="858.7" y1="348.9" x2="854.0" y2="340.9" stroke="#b3a660" stroke-width="1.5"/><line x1="863.4" y1="357.0" x2="872.9" y2="348.9" stroke="#56b488" stroke-width="1.5"/><line x1="872.9" y1="348.9" x2="882.4" y2="340.9" stroke="#b3a660" stroke-width="1.5"/><line x1="863.4" y1="357.0" x2="858.7" y2="365.0" stroke="#56b488" stroke-width="1.5"/><line x1="858.7" y1="365.0" x2="854.0" y2="373.1" stroke="#b3a660" stroke-width="1.5"/><line x1="863.4" y1="357.0" x2="872.9" y2="365.0" stroke="#56b488" stroke-width="1.5"/><line x1="872.9" y1="365.0" x2="882.4" y2="373.1" stroke="#b3a660" stroke-width="1.5"/><circle cx="778.2" cy="357.0" r="5.6" fill="url(#gNb)"/><circle cx="806.6" cy="357.0" r="5.6" fill="url(#gNb)"/><circle cx="835.0" cy="357.0" r="5.6" fill="url(#gNb)"/><circle cx="863.4" cy="357.0" r="5.6" fill="url(#gNb)"/><circle cx="768.8" cy="340.9" r="5.1" fill="url(#gSe)"/><circle cx="797.2" cy="340.9" r="5.1" fill="url(#gSe)"/><circle cx="825.6" cy="340.9" r="5.1" fill="url(#gSe)"/><circle cx="854.0" cy="340.9" r="5.1" fill="url(#gSe)"/><circle cx="882.4" cy="340.9" r="5.1" fill="url(#gSe)"/><circle cx="768.8" cy="373.1" r="5.1" fill="url(#gSe)"/><circle cx="797.2" cy="373.1" r="5.1" fill="url(#gSe)"/><circle cx="825.6" cy="373.1" r="5.1" fill="url(#gSe)"/><circle cx="854.0" cy="373.1" r="5.1" fill="url(#gSe)"/><circle cx="882.4" cy="373.1" r="5.1" fill="url(#gSe)"/><rect x="777.3" y="153.7" width="86.3" height="108.3" fill="none" stroke="#000" stroke-width="1.45" stroke-dasharray="4.8,3.2"/><line x1="806.1" y1="153.7" x2="806.1" y2="262.0" stroke="#000" stroke-width="1.45" stroke-dasharray="4.8,3.2"/><line x1="834.9" y1="153.7" x2="834.9" y2="262.0" stroke="#000" stroke-width="1.45" stroke-dasharray="4.8,3.2"/>
<circle cx="975.2" cy="46.1" r="5.1" fill="url(#gSe)"/><circle cx="1003.6" cy="46.1" r="5.1" fill="url(#gSe)"/><circle cx="1032.0" cy="46.1" r="5.1" fill="url(#gSe)"/><circle cx="1060.4" cy="46.1" r="5.1" fill="url(#gSe)"/><circle cx="956.3" cy="80.0" r="5.1" fill="url(#gSe)"/><circle cx="984.7" cy="80.0" r="5.1" fill="url(#gSe)"/><circle cx="1013.1" cy="80.0" r="5.1" fill="url(#gSe)"/><circle cx="1041.5" cy="80.0" r="5.1" fill="url(#gSe)"/><polygon points="947.4,43.8 975.8,43.8 985.1,78.0 956.7,78.0" fill="#72b894" fill-opacity="0.40" stroke="#9aa8a0" stroke-opacity="0.35" stroke-width="0.6"/><polygon points="975.8,43.8 1004.2,43.8 1013.5,78.0 985.1,78.0" fill="#72b894" fill-opacity="0.50" stroke="#9aa8a0" stroke-opacity="0.35" stroke-width="0.6"/><polygon points="1004.2,43.8 1032.6,43.8 1041.9,78.0 1013.5,78.0" fill="#72b894" fill-opacity="0.42" stroke="#9aa8a0" stroke-opacity="0.35" stroke-width="0.6"/><polygon points="1032.6,43.8 1061.0,43.8 1070.3,78.0 1041.9,78.0" fill="#72b894" fill-opacity="0.18" stroke="#9aa8a0" stroke-opacity="0.35" stroke-width="0.6"/><line x1="966.4" y1="60.7" x2="956.9" y2="52.2" stroke="#56b488" stroke-width="1.5"/><line x1="956.9" y1="52.2" x2="947.4" y2="43.8" stroke="#b3a660" stroke-width="1.5"/><line x1="966.4" y1="60.7" x2="971.1" y2="52.2" stroke="#56b488" stroke-width="1.5"/><line x1="971.1" y1="52.2" x2="975.8" y2="43.8" stroke="#b3a660" stroke-width="1.5"/><line x1="966.4" y1="60.7" x2="961.5" y2="69.3" stroke="#56b488" stroke-width="1.5"/><line x1="961.5" y1="69.3" x2="956.7" y2="78.0" stroke="#b3a660" stroke-width="1.5"/><line x1="966.4" y1="60.7" x2="975.8" y2="69.3" stroke="#56b488" stroke-width="1.5"/><line x1="975.8" y1="69.3" x2="985.1" y2="78.0" stroke="#b3a660" stroke-width="1.5"/><line x1="994.8" y1="60.7" x2="985.3" y2="52.2" stroke="#56b488" stroke-width="1.5"/><line x1="985.3" y1="52.2" x2="975.8" y2="43.8" stroke="#b3a660" stroke-width="1.5"/><line x1="994.8" y1="60.7" x2="999.5" y2="52.2" stroke="#56b488" stroke-width="1.5"/><line x1="999.5" y1="52.2" x2="1004.2" y2="43.8" stroke="#b3a660" stroke-width="1.5"/><line x1="994.8" y1="60.7" x2="990.0" y2="69.3" stroke="#56b488" stroke-width="1.5"/><line x1="990.0" y1="69.3" x2="985.1" y2="78.0" stroke="#b3a660" stroke-width="1.5"/><line x1="994.8" y1="60.7" x2="1004.1" y2="69.3" stroke="#56b488" stroke-width="1.5"/><line x1="1004.1" y1="69.3" x2="1013.5" y2="78.0" stroke="#b3a660" stroke-width="1.5"/><line x1="1023.2" y1="60.7" x2="1013.7" y2="52.2" stroke="#56b488" stroke-width="1.5"/><line x1="1013.7" y1="52.2" x2="1004.2" y2="43.8" stroke="#b3a660" stroke-width="1.5"/><line x1="1023.2" y1="60.7" x2="1027.9" y2="52.2" stroke="#56b488" stroke-width="1.5"/><line x1="1027.9" y1="52.2" x2="1032.6" y2="43.8" stroke="#b3a660" stroke-width="1.5"/><line x1="1023.2" y1="60.7" x2="1018.3" y2="69.3" stroke="#56b488" stroke-width="1.5"/><line x1="1018.3" y1="69.3" x2="1013.5" y2="78.0" stroke="#b3a660" stroke-width="1.5"/><line x1="1023.2" y1="60.7" x2="1032.5" y2="69.3" stroke="#56b488" stroke-width="1.5"/><line x1="1032.5" y1="69.3" x2="1041.9" y2="78.0" stroke="#b3a660" stroke-width="1.5"/><line x1="1051.6" y1="60.7" x2="1042.1" y2="52.2" stroke="#56b488" stroke-width="1.5"/><line x1="1042.1" y1="52.2" x2="1032.6" y2="43.8" stroke="#b3a660" stroke-width="1.5"/><line x1="1051.6" y1="60.7" x2="1056.3" y2="52.2" stroke="#56b488" stroke-width="1.5"/><line x1="1056.3" y1="52.2" x2="1061.0" y2="43.8" stroke="#b3a660" stroke-width="1.5"/><line x1="1051.6" y1="60.7" x2="1046.8" y2="69.3" stroke="#56b488" stroke-width="1.5"/><line x1="1046.8" y1="69.3" x2="1041.9" y2="78.0" stroke="#b3a660" stroke-width="1.5"/><line x1="1051.6" y1="60.7" x2="1060.9" y2="69.3" stroke="#56b488" stroke-width="1.5"/><line x1="1060.9" y1="69.3" x2="1070.3" y2="78.0" stroke="#b3a660" stroke-width="1.5"/><circle cx="966.4" cy="60.7" r="5.6" fill="url(#gNb)"/><circle cx="994.8" cy="60.7" r="5.6" fill="url(#gNb)"/><circle cx="1023.2" cy="60.7" r="5.6" fill="url(#gNb)"/><circle cx="1051.6" cy="60.7" r="5.6" fill="url(#gNb)"/><circle cx="947.4" cy="43.8" r="5.1" fill="url(#gSe)"/><circle cx="975.8" cy="43.8" r="5.1" fill="url(#gSe)"/><circle cx="1004.2" cy="43.8" r="5.1" fill="url(#gSe)"/><circle cx="1032.6" cy="43.8" r="5.1" fill="url(#gSe)"/><circle cx="1061.0" cy="43.8" r="5.1" fill="url(#gSe)"/><circle cx="956.7" cy="78.0" r="5.1" fill="url(#gSe)"/><circle cx="985.1" cy="78.0" r="5.1" fill="url(#gSe)"/><circle cx="1013.5" cy="78.0" r="5.1" fill="url(#gSe)"/><circle cx="1041.9" cy="78.0" r="5.1" fill="url(#gSe)"/><circle cx="1070.3" cy="78.0" r="5.1" fill="url(#gSe)"/><polygon points="974.4,104.4 1002.8,104.4 1002.8,138.2 974.4,138.2" fill="#72b894" fill-opacity="0.30" stroke="#9aa8a0" stroke-opacity="0.35" stroke-width="0.6"/><polygon points="1002.8,104.4 1031.2,104.4 1031.2,138.2 1002.8,138.2" fill="#72b894" fill-opacity="0.45" stroke="#9aa8a0" stroke-opacity="0.35" stroke-width="0.6"/><polygon points="1031.2,104.4 1059.6,104.4 1059.6,138.2 1031.2,138.2" fill="#72b894" fill-opacity="0.58" stroke="#9aa8a0" stroke-opacity="0.35" stroke-width="0.6"/><line x1="983.9" y1="121.7" x2="979.1" y2="113.1" stroke="#56b488" stroke-width="1.5"/><line x1="979.1" y1="113.1" x2="974.4" y2="104.4" stroke="#b3a660" stroke-width="1.5"/><line x1="983.9" y1="121.7" x2="993.3" y2="113.1" stroke="#56b488" stroke-width="1.5"/><line x1="993.3" y1="113.1" x2="1002.8" y2="104.4" stroke="#b3a660" stroke-width="1.5"/><line x1="983.9" y1="121.7" x2="979.1" y2="129.9" stroke="#56b488" stroke-width="1.5"/><line x1="979.1" y1="129.9" x2="974.4" y2="138.2" stroke="#b3a660" stroke-width="1.5"/><line x1="983.9" y1="121.7" x2="993.3" y2="129.9" stroke="#56b488" stroke-width="1.5"/><line x1="993.3" y1="129.9" x2="1002.8" y2="138.2" stroke="#b3a660" stroke-width="1.5"/><line x1="1012.3" y1="121.7" x2="1007.5" y2="113.1" stroke="#56b488" stroke-width="1.5"/><line x1="1007.5" y1="113.1" x2="1002.8" y2="104.4" stroke="#b3a660" stroke-width="1.5"/><line x1="1012.3" y1="121.7" x2="1021.8" y2="113.1" stroke="#56b488" stroke-width="1.5"/><line x1="1021.8" y1="113.1" x2="1031.2" y2="104.4" stroke="#b3a660" stroke-width="1.5"/><line x1="1012.3" y1="121.7" x2="1007.5" y2="129.9" stroke="#56b488" stroke-width="1.5"/><line x1="1007.5" y1="129.9" x2="1002.8" y2="138.2" stroke="#b3a660" stroke-width="1.5"/><line x1="1012.3" y1="121.7" x2="1021.8" y2="129.9" stroke="#56b488" stroke-width="1.5"/><line x1="1021.8" y1="129.9" x2="1031.2" y2="138.2" stroke="#b3a660" stroke-width="1.5"/><line x1="1040.7" y1="121.7" x2="1036.0" y2="113.1" stroke="#56b488" stroke-width="1.5"/><line x1="1036.0" y1="113.1" x2="1031.2" y2="104.4" stroke="#b3a660" stroke-width="1.5"/><line x1="1040.7" y1="121.7" x2="1050.2" y2="113.1" stroke="#56b488" stroke-width="1.5"/><line x1="1050.2" y1="113.1" x2="1059.6" y2="104.4" stroke="#b3a660" stroke-width="1.5"/><line x1="1040.7" y1="121.7" x2="1036.0" y2="129.9" stroke="#56b488" stroke-width="1.5"/><line x1="1036.0" y1="129.9" x2="1031.2" y2="138.2" stroke="#b3a660" stroke-width="1.5"/><line x1="1040.7" y1="121.7" x2="1050.2" y2="129.9" stroke="#56b488" stroke-width="1.5"/><line x1="1050.2" y1="129.9" x2="1059.6" y2="138.2" stroke="#b3a660" stroke-width="1.5"/><circle cx="983.9" cy="121.7" r="5.6" fill="url(#gNb)"/><circle cx="1012.3" cy="121.7" r="5.6" fill="url(#gNb)"/><circle cx="1040.7" cy="121.7" r="5.6" fill="url(#gNb)"/><circle cx="974.4" cy="104.4" r="5.1" fill="url(#gSe)"/><circle cx="1002.8" cy="104.4" r="5.1" fill="url(#gSe)"/><circle cx="1031.2" cy="104.4" r="5.1" fill="url(#gSe)"/><circle cx="1059.6" cy="104.4" r="5.1" fill="url(#gSe)"/><circle cx="974.4" cy="138.2" r="5.1" fill="url(#gSe)"/><circle cx="1002.8" cy="138.2" r="5.1" fill="url(#gSe)"/><circle cx="1031.2" cy="138.2" r="5.1" fill="url(#gSe)"/><circle cx="1059.6" cy="138.2" r="5.1" fill="url(#gSe)"/><polygon points="965.6,165.8 994.0,165.8 1002.8,196.5 974.4,196.5" fill="#72b894" fill-opacity="0.42" stroke="#9aa8a0" stroke-opacity="0.35" stroke-width="0.6"/><polygon points="994.0,165.8 1022.4,165.8 1031.2,196.5 1002.8,196.5" fill="#72b894" fill-opacity="0.48" stroke="#9aa8a0" stroke-opacity="0.35" stroke-width="0.6"/><polygon points="1022.4,165.8 1050.8,165.8 1059.6,196.5 1031.2,196.5" fill="#72b894" fill-opacity="0.42" stroke="#9aa8a0" stroke-opacity="0.35" stroke-width="0.6"/><line x1="983.9" y1="181.2" x2="974.8" y2="173.5" stroke="#56b488" stroke-width="1.5"/><line x1="974.8" y1="173.5" x2="965.6" y2="165.8" stroke="#b3a660" stroke-width="1.5"/><line x1="983.9" y1="181.2" x2="989.0" y2="173.5" stroke="#56b488" stroke-width="1.5"/><line x1="989.0" y1="173.5" x2="994.0" y2="165.8" stroke="#b3a660" stroke-width="1.5"/><line x1="983.9" y1="181.2" x2="979.1" y2="188.8" stroke="#56b488" stroke-width="1.5"/><line x1="979.1" y1="188.8" x2="974.4" y2="196.5" stroke="#b3a660" stroke-width="1.5"/><line x1="983.9" y1="181.2" x2="993.3" y2="188.8" stroke="#56b488" stroke-width="1.5"/><line x1="993.3" y1="188.8" x2="1002.8" y2="196.5" stroke="#b3a660" stroke-width="1.5"/><line x1="1012.3" y1="181.2" x2="1003.1" y2="173.5" stroke="#56b488" stroke-width="1.5"/><line x1="1003.1" y1="173.5" x2="994.0" y2="165.8" stroke="#b3a660" stroke-width="1.5"/><line x1="1012.3" y1="181.2" x2="1017.3" y2="173.5" stroke="#56b488" stroke-width="1.5"/><line x1="1017.3" y1="173.5" x2="1022.4" y2="165.8" stroke="#b3a660" stroke-width="1.5"/><line x1="1012.3" y1="181.2" x2="1007.5" y2="188.8" stroke="#56b488" stroke-width="1.5"/><line x1="1007.5" y1="188.8" x2="1002.8" y2="196.5" stroke="#b3a660" stroke-width="1.5"/><line x1="1012.3" y1="181.2" x2="1021.8" y2="188.8" stroke="#56b488" stroke-width="1.5"/><line x1="1021.8" y1="188.8" x2="1031.2" y2="196.5" stroke="#b3a660" stroke-width="1.5"/><line x1="1040.7" y1="181.2" x2="1031.5" y2="173.5" stroke="#56b488" stroke-width="1.5"/><line x1="1031.5" y1="173.5" x2="1022.4" y2="165.8" stroke="#b3a660" stroke-width="1.5"/><line x1="1040.7" y1="181.2" x2="1045.8" y2="173.5" stroke="#56b488" stroke-width="1.5"/><line x1="1045.8" y1="173.5" x2="1050.8" y2="165.8" stroke="#b3a660" stroke-width="1.5"/><line x1="1040.7" y1="181.2" x2="1036.0" y2="188.8" stroke="#56b488" stroke-width="1.5"/><line x1="1036.0" y1="188.8" x2="1031.2" y2="196.5" stroke="#b3a660" stroke-width="1.5"/><line x1="1040.7" y1="181.2" x2="1050.2" y2="188.8" stroke="#56b488" stroke-width="1.5"/><line x1="1050.2" y1="188.8" x2="1059.6" y2="196.5" stroke="#b3a660" stroke-width="1.5"/><circle cx="983.9" cy="181.2" r="5.6" fill="url(#gNb)"/><circle cx="1012.3" cy="181.2" r="5.6" fill="url(#gNb)"/><circle cx="1040.7" cy="181.2" r="5.6" fill="url(#gNb)"/><circle cx="965.6" cy="165.8" r="5.1" fill="url(#gSe)"/><circle cx="994.0" cy="165.8" r="5.1" fill="url(#gSe)"/><circle cx="1022.4" cy="165.8" r="5.1" fill="url(#gSe)"/><circle cx="1050.8" cy="165.8" r="5.1" fill="url(#gSe)"/><circle cx="974.4" cy="196.5" r="5.1" fill="url(#gSe)"/><circle cx="1002.8" cy="196.5" r="5.1" fill="url(#gSe)"/><circle cx="1031.2" cy="196.5" r="5.1" fill="url(#gSe)"/><circle cx="1059.6" cy="196.5" r="5.1" fill="url(#gSe)"/><polygon points="965.6,224.0 994.0,224.0 994.0,257.2 965.6,257.2" fill="#72b894" fill-opacity="0.60" stroke="#9aa8a0" stroke-opacity="0.35" stroke-width="0.6"/><polygon points="994.0,224.0 1022.4,224.0 1022.4,257.2 994.0,257.2" fill="#72b894" fill-opacity="0.50" stroke="#9aa8a0" stroke-opacity="0.35" stroke-width="0.6"/><polygon points="1022.4,224.0 1050.8,224.0 1050.8,257.2 1022.4,257.2" fill="#72b894" fill-opacity="0.32" stroke="#9aa8a0" stroke-opacity="0.35" stroke-width="0.6"/><line x1="975.0" y1="241.4" x2="970.3" y2="232.7" stroke="#56b488" stroke-width="1.5"/><line x1="970.3" y1="232.7" x2="965.6" y2="224.0" stroke="#b3a660" stroke-width="1.5"/><line x1="975.0" y1="241.4" x2="984.5" y2="232.7" stroke="#56b488" stroke-width="1.5"/><line x1="984.5" y1="232.7" x2="994.0" y2="224.0" stroke="#b3a660" stroke-width="1.5"/><line x1="975.0" y1="241.4" x2="970.3" y2="249.3" stroke="#56b488" stroke-width="1.5"/><line x1="970.3" y1="249.3" x2="965.6" y2="257.2" stroke="#b3a660" stroke-width="1.5"/><line x1="975.0" y1="241.4" x2="984.5" y2="249.3" stroke="#56b488" stroke-width="1.5"/><line x1="984.5" y1="249.3" x2="994.0" y2="257.2" stroke="#b3a660" stroke-width="1.5"/><line x1="1003.4" y1="241.4" x2="998.7" y2="232.7" stroke="#56b488" stroke-width="1.5"/><line x1="998.7" y1="232.7" x2="994.0" y2="224.0" stroke="#b3a660" stroke-width="1.5"/><line x1="1003.4" y1="241.4" x2="1012.9" y2="232.7" stroke="#56b488" stroke-width="1.5"/><line x1="1012.9" y1="232.7" x2="1022.4" y2="224.0" stroke="#b3a660" stroke-width="1.5"/><line x1="1003.4" y1="241.4" x2="998.7" y2="249.3" stroke="#56b488" stroke-width="1.5"/><line x1="998.7" y1="249.3" x2="994.0" y2="257.2" stroke="#b3a660" stroke-width="1.5"/><line x1="1003.4" y1="241.4" x2="1012.9" y2="249.3" stroke="#56b488" stroke-width="1.5"/><line x1="1012.9" y1="249.3" x2="1022.4" y2="257.2" stroke="#b3a660" stroke-width="1.5"/><line x1="1031.8" y1="241.4" x2="1027.1" y2="232.7" stroke="#56b488" stroke-width="1.5"/><line x1="1027.1" y1="232.7" x2="1022.4" y2="224.0" stroke="#b3a660" stroke-width="1.5"/><line x1="1031.8" y1="241.4" x2="1041.3" y2="232.7" stroke="#56b488" stroke-width="1.5"/><line x1="1041.3" y1="232.7" x2="1050.8" y2="224.0" stroke="#b3a660" stroke-width="1.5"/><line x1="1031.8" y1="241.4" x2="1027.1" y2="249.3" stroke="#56b488" stroke-width="1.5"/><line x1="1027.1" y1="249.3" x2="1022.4" y2="257.2" stroke="#b3a660" stroke-width="1.5"/><line x1="1031.8" y1="241.4" x2="1041.3" y2="249.3" stroke="#56b488" stroke-width="1.5"/><line x1="1041.3" y1="249.3" x2="1050.8" y2="257.2" stroke="#b3a660" stroke-width="1.5"/><circle cx="975.0" cy="241.4" r="5.6" fill="url(#gNb)"/><circle cx="1003.4" cy="241.4" r="5.6" fill="url(#gNb)"/><circle cx="1031.8" cy="241.4" r="5.6" fill="url(#gNb)"/><circle cx="965.6" cy="224.0" r="5.1" fill="url(#gSe)"/><circle cx="994.0" cy="224.0" r="5.1" fill="url(#gSe)"/><circle cx="1022.4" cy="224.0" r="5.1" fill="url(#gSe)"/><circle cx="1050.8" cy="224.0" r="5.1" fill="url(#gSe)"/><circle cx="965.6" cy="257.2" r="5.1" fill="url(#gSe)"/><circle cx="994.0" cy="257.2" r="5.1" fill="url(#gSe)"/><circle cx="1022.4" cy="257.2" r="5.1" fill="url(#gSe)"/><circle cx="1050.8" cy="257.2" r="5.1" fill="url(#gSe)"/><polygon points="956.1,283.6 984.5,283.6 994.0,314.3 965.6,314.3" fill="#72b894" fill-opacity="0.22" stroke="#9aa8a0" stroke-opacity="0.35" stroke-width="0.6"/><polygon points="984.5,283.6 1012.9,283.6 1022.4,314.3 994.0,314.3" fill="#72b894" fill-opacity="0.52" stroke="#9aa8a0" stroke-opacity="0.35" stroke-width="0.6"/><polygon points="1012.9,283.6 1041.3,283.6 1050.8,314.3 1022.4,314.3" fill="#72b894" fill-opacity="0.52" stroke="#9aa8a0" stroke-opacity="0.35" stroke-width="0.6"/><polygon points="1041.3,283.6 1069.7,283.6 1079.2,314.3 1050.8,314.3" fill="#72b894" fill-opacity="0.38" stroke="#9aa8a0" stroke-opacity="0.35" stroke-width="0.6"/><line x1="975.0" y1="298.7" x2="965.5" y2="291.1" stroke="#56b488" stroke-width="1.5"/><line x1="965.5" y1="291.1" x2="956.1" y2="283.6" stroke="#b3a660" stroke-width="1.5"/><line x1="975.0" y1="298.7" x2="979.8" y2="291.1" stroke="#56b488" stroke-width="1.5"/><line x1="979.8" y1="291.1" x2="984.5" y2="283.6" stroke="#b3a660" stroke-width="1.5"/><line x1="975.0" y1="298.7" x2="970.3" y2="306.5" stroke="#56b488" stroke-width="1.5"/><line x1="970.3" y1="306.5" x2="965.6" y2="314.3" stroke="#b3a660" stroke-width="1.5"/><line x1="975.0" y1="298.7" x2="984.5" y2="306.5" stroke="#56b488" stroke-width="1.5"/><line x1="984.5" y1="306.5" x2="994.0" y2="314.3" stroke="#b3a660" stroke-width="1.5"/><line x1="1003.4" y1="298.7" x2="994.0" y2="291.1" stroke="#56b488" stroke-width="1.5"/><line x1="994.0" y1="291.1" x2="984.5" y2="283.6" stroke="#b3a660" stroke-width="1.5"/><line x1="1003.4" y1="298.7" x2="1008.1" y2="291.1" stroke="#56b488" stroke-width="1.5"/><line x1="1008.1" y1="291.1" x2="1012.9" y2="283.6" stroke="#b3a660" stroke-width="1.5"/><line x1="1003.4" y1="298.7" x2="998.7" y2="306.5" stroke="#56b488" stroke-width="1.5"/><line x1="998.7" y1="306.5" x2="994.0" y2="314.3" stroke="#b3a660" stroke-width="1.5"/><line x1="1003.4" y1="298.7" x2="1012.9" y2="306.5" stroke="#56b488" stroke-width="1.5"/><line x1="1012.9" y1="306.5" x2="1022.4" y2="314.3" stroke="#b3a660" stroke-width="1.5"/><line x1="1031.8" y1="298.7" x2="1022.3" y2="291.1" stroke="#56b488" stroke-width="1.5"/><line x1="1022.3" y1="291.1" x2="1012.9" y2="283.6" stroke="#b3a660" stroke-width="1.5"/><line x1="1031.8" y1="298.7" x2="1036.5" y2="291.1" stroke="#56b488" stroke-width="1.5"/><line x1="1036.5" y1="291.1" x2="1041.3" y2="283.6" stroke="#b3a660" stroke-width="1.5"/><line x1="1031.8" y1="298.7" x2="1027.1" y2="306.5" stroke="#56b488" stroke-width="1.5"/><line x1="1027.1" y1="306.5" x2="1022.4" y2="314.3" stroke="#b3a660" stroke-width="1.5"/><line x1="1031.8" y1="298.7" x2="1041.3" y2="306.5" stroke="#56b488" stroke-width="1.5"/><line x1="1041.3" y1="306.5" x2="1050.8" y2="314.3" stroke="#b3a660" stroke-width="1.5"/><line x1="1060.2" y1="298.7" x2="1050.8" y2="291.1" stroke="#56b488" stroke-width="1.5"/><line x1="1050.8" y1="291.1" x2="1041.3" y2="283.6" stroke="#b3a660" stroke-width="1.5"/><line x1="1060.2" y1="298.7" x2="1065.0" y2="291.1" stroke="#56b488" stroke-width="1.5"/><line x1="1065.0" y1="291.1" x2="1069.7" y2="283.6" stroke="#b3a660" stroke-width="1.5"/><line x1="1060.2" y1="298.7" x2="1055.5" y2="306.5" stroke="#56b488" stroke-width="1.5"/><line x1="1055.5" y1="306.5" x2="1050.8" y2="314.3" stroke="#b3a660" stroke-width="1.5"/><line x1="1060.2" y1="298.7" x2="1069.7" y2="306.5" stroke="#56b488" stroke-width="1.5"/><line x1="1069.7" y1="306.5" x2="1079.2" y2="314.3" stroke="#b3a660" stroke-width="1.5"/><circle cx="975.0" cy="298.7" r="5.6" fill="url(#gNb)"/><circle cx="1003.4" cy="298.7" r="5.6" fill="url(#gNb)"/><circle cx="1031.8" cy="298.7" r="5.6" fill="url(#gNb)"/><circle cx="1060.2" cy="298.7" r="5.6" fill="url(#gNb)"/><circle cx="956.1" cy="283.6" r="5.1" fill="url(#gSe)"/><circle cx="984.5" cy="283.6" r="5.1" fill="url(#gSe)"/><circle cx="1012.9" cy="283.6" r="5.1" fill="url(#gSe)"/><circle cx="1041.3" cy="283.6" r="5.1" fill="url(#gSe)"/><circle cx="1069.7" cy="283.6" r="5.1" fill="url(#gSe)"/><circle cx="965.6" cy="314.3" r="5.1" fill="url(#gSe)"/><circle cx="994.0" cy="314.3" r="5.1" fill="url(#gSe)"/><circle cx="1022.4" cy="314.3" r="5.1" fill="url(#gSe)"/><circle cx="1050.8" cy="314.3" r="5.1" fill="url(#gSe)"/><circle cx="1079.2" cy="314.3" r="5.1" fill="url(#gSe)"/><circle cx="983.9" cy="344.5" r="5.1" fill="url(#gSe)"/><circle cx="1012.3" cy="344.5" r="5.1" fill="url(#gSe)"/><circle cx="1040.7" cy="344.5" r="5.1" fill="url(#gSe)"/><circle cx="1069.1" cy="344.5" r="5.1" fill="url(#gSe)"/><circle cx="955.7" cy="378.0" r="5.1" fill="url(#gSe)"/><circle cx="984.1" cy="378.0" r="5.1" fill="url(#gSe)"/><circle cx="1012.5" cy="378.0" r="5.1" fill="url(#gSe)"/><circle cx="1040.9" cy="378.0" r="5.1" fill="url(#gSe)"/><polygon points="956.1,342.2 984.5,342.2 984.5,376.0 956.1,376.0" fill="#72b894" fill-opacity="0.20" stroke="#9aa8a0" stroke-opacity="0.35" stroke-width="0.6"/><polygon points="984.5,342.2 1012.9,342.2 1012.9,376.0 984.5,376.0" fill="#72b894" fill-opacity="0.32" stroke="#9aa8a0" stroke-opacity="0.35" stroke-width="0.6"/><polygon points="1012.9,342.2 1041.3,342.2 1041.3,376.0 1012.9,376.0" fill="#72b894" fill-opacity="0.50" stroke="#9aa8a0" stroke-opacity="0.35" stroke-width="0.6"/><polygon points="1041.3,342.2 1069.7,342.2 1069.7,376.0 1041.3,376.0" fill="#72b894" fill-opacity="0.55" stroke="#9aa8a0" stroke-opacity="0.35" stroke-width="0.6"/><line x1="965.6" y1="359.1" x2="960.9" y2="350.6" stroke="#56b488" stroke-width="1.5"/><line x1="960.9" y1="350.6" x2="956.1" y2="342.2" stroke="#b3a660" stroke-width="1.5"/><line x1="965.6" y1="359.1" x2="975.0" y2="350.6" stroke="#56b488" stroke-width="1.5"/><line x1="975.0" y1="350.6" x2="984.5" y2="342.2" stroke="#b3a660" stroke-width="1.5"/><line x1="965.6" y1="359.1" x2="960.9" y2="367.6" stroke="#56b488" stroke-width="1.5"/><line x1="960.9" y1="367.6" x2="956.1" y2="376.0" stroke="#b3a660" stroke-width="1.5"/><line x1="965.6" y1="359.1" x2="975.0" y2="367.6" stroke="#56b488" stroke-width="1.5"/><line x1="975.0" y1="367.6" x2="984.5" y2="376.0" stroke="#b3a660" stroke-width="1.5"/><line x1="994.0" y1="359.1" x2="989.2" y2="350.6" stroke="#56b488" stroke-width="1.5"/><line x1="989.2" y1="350.6" x2="984.5" y2="342.2" stroke="#b3a660" stroke-width="1.5"/><line x1="994.0" y1="359.1" x2="1003.5" y2="350.6" stroke="#56b488" stroke-width="1.5"/><line x1="1003.5" y1="350.6" x2="1012.9" y2="342.2" stroke="#b3a660" stroke-width="1.5"/><line x1="994.0" y1="359.1" x2="989.2" y2="367.6" stroke="#56b488" stroke-width="1.5"/><line x1="989.2" y1="367.6" x2="984.5" y2="376.0" stroke="#b3a660" stroke-width="1.5"/><line x1="994.0" y1="359.1" x2="1003.5" y2="367.6" stroke="#56b488" stroke-width="1.5"/><line x1="1003.5" y1="367.6" x2="1012.9" y2="376.0" stroke="#b3a660" stroke-width="1.5"/><line x1="1022.4" y1="359.1" x2="1017.6" y2="350.6" stroke="#56b488" stroke-width="1.5"/><line x1="1017.6" y1="350.6" x2="1012.9" y2="342.2" stroke="#b3a660" stroke-width="1.5"/><line x1="1022.4" y1="359.1" x2="1031.8" y2="350.6" stroke="#56b488" stroke-width="1.5"/><line x1="1031.8" y1="350.6" x2="1041.3" y2="342.2" stroke="#b3a660" stroke-width="1.5"/><line x1="1022.4" y1="359.1" x2="1017.6" y2="367.6" stroke="#56b488" stroke-width="1.5"/><line x1="1017.6" y1="367.6" x2="1012.9" y2="376.0" stroke="#b3a660" stroke-width="1.5"/><line x1="1022.4" y1="359.1" x2="1031.8" y2="367.6" stroke="#56b488" stroke-width="1.5"/><line x1="1031.8" y1="367.6" x2="1041.3" y2="376.0" stroke="#b3a660" stroke-width="1.5"/><line x1="1050.8" y1="359.1" x2="1046.0" y2="350.6" stroke="#56b488" stroke-width="1.5"/><line x1="1046.0" y1="350.6" x2="1041.3" y2="342.2" stroke="#b3a660" stroke-width="1.5"/><line x1="1050.8" y1="359.1" x2="1060.2" y2="350.6" stroke="#56b488" stroke-width="1.5"/><line x1="1060.2" y1="350.6" x2="1069.7" y2="342.2" stroke="#b3a660" stroke-width="1.5"/><line x1="1050.8" y1="359.1" x2="1046.0" y2="367.6" stroke="#56b488" stroke-width="1.5"/><line x1="1046.0" y1="367.6" x2="1041.3" y2="376.0" stroke="#b3a660" stroke-width="1.5"/><line x1="1050.8" y1="359.1" x2="1060.2" y2="367.6" stroke="#56b488" stroke-width="1.5"/><line x1="1060.2" y1="367.6" x2="1069.7" y2="376.0" stroke="#b3a660" stroke-width="1.5"/><circle cx="965.6" cy="359.1" r="5.6" fill="url(#gNb)"/><circle cx="994.0" cy="359.1" r="5.6" fill="url(#gNb)"/><circle cx="1022.4" cy="359.1" r="5.6" fill="url(#gNb)"/><circle cx="1050.8" cy="359.1" r="5.6" fill="url(#gNb)"/><circle cx="956.1" cy="342.2" r="5.1" fill="url(#gSe)"/><circle cx="984.5" cy="342.2" r="5.1" fill="url(#gSe)"/><circle cx="1012.9" cy="342.2" r="5.1" fill="url(#gSe)"/><circle cx="1041.3" cy="342.2" r="5.1" fill="url(#gSe)"/><circle cx="1069.7" cy="342.2" r="5.1" fill="url(#gSe)"/><circle cx="956.1" cy="376.0" r="5.1" fill="url(#gSe)"/><circle cx="984.5" cy="376.0" r="5.1" fill="url(#gSe)"/><circle cx="1012.9" cy="376.0" r="5.1" fill="url(#gSe)"/><circle cx="1041.3" cy="376.0" r="5.1" fill="url(#gSe)"/><circle cx="1069.7" cy="376.0" r="5.1" fill="url(#gSe)"/><rect x="966.1" y="34.2" width="85.0" height="358.2" fill="none" stroke="#000" stroke-width="1.45" stroke-dasharray="4.8,3.2"/><line x1="994.4" y1="34.2" x2="994.4" y2="392.4" stroke="#000" stroke-width="1.45" stroke-dasharray="4.8,3.2"/><line x1="1022.7" y1="34.2" x2="1022.7" y2="392.4" stroke="#000" stroke-width="1.45" stroke-dasharray="4.8,3.2"/>
<polygon points="1131.6,46.6 1160.7,41.3 1187.3,42.1 1216.8,46.6 1245.9,41.3 1272.5,42.1 1302.0,46.6 1310.3,71.5 1281.1,76.8 1254.5,76.0 1225.1,71.5 1195.9,76.8 1169.3,76.0 1139.9,71.5" fill="#72b894" fill-opacity="0.38" stroke="#9aa8a0" stroke-opacity="0.35" stroke-width="0.6"/><polygon points="1131.6,46.6 1160.7,41.3 1169.3,76.0" fill="#72b894" fill-opacity="0.04" stroke="#9aa8a0" stroke-opacity="0.35" stroke-width="0.6"/><polygon points="1131.6,46.6 1139.9,71.5 1154.4,59.0" fill="#72b894" fill-opacity="0.22" stroke="#9aa8a0" stroke-opacity="0.35" stroke-width="0.6"/><polygon points="1160.7,41.3 1187.3,42.1 1195.9,76.8" fill="#72b894" fill-opacity="0.30" stroke="#9aa8a0" stroke-opacity="0.35" stroke-width="0.6"/><polygon points="1160.7,41.3 1169.3,76.0 1178.5,59.0" fill="#72b894" fill-opacity="0.08" stroke="#9aa8a0" stroke-opacity="0.35" stroke-width="0.6"/><polygon points="1187.3,42.1 1216.8,46.6 1225.1,71.5" fill="#72b894" fill-opacity="0.04" stroke="#9aa8a0" stroke-opacity="0.35" stroke-width="0.6"/><polygon points="1187.3,42.1 1195.9,76.8 1202.5,59.5" fill="#72b894" fill-opacity="0.08" stroke="#9aa8a0" stroke-opacity="0.35" stroke-width="0.6"/><polygon points="1216.8,46.6 1245.9,41.3 1254.5,76.0" fill="#72b894" fill-opacity="0.30" stroke="#9aa8a0" stroke-opacity="0.35" stroke-width="0.6"/><polygon points="1216.8,46.6 1225.1,71.5 1239.6,59.0" fill="#72b894" fill-opacity="0.22" stroke="#9aa8a0" stroke-opacity="0.35" stroke-width="0.6"/><polygon points="1245.9,41.3 1272.5,42.1 1281.1,76.8" fill="#72b894" fill-opacity="0.04" stroke="#9aa8a0" stroke-opacity="0.35" stroke-width="0.6"/><polygon points="1245.9,41.3 1254.5,76.0 1263.7,59.0" fill="#72b894" fill-opacity="0.08" stroke="#9aa8a0" stroke-opacity="0.35" stroke-width="0.6"/><polygon points="1272.5,42.1 1302.0,46.6 1310.3,71.5" fill="#72b894" fill-opacity="0.30" stroke="#9aa8a0" stroke-opacity="0.35" stroke-width="0.6"/><polygon points="1272.5,42.1 1281.1,76.8 1287.7,59.5" fill="#72b894" fill-opacity="0.08" stroke="#9aa8a0" stroke-opacity="0.35" stroke-width="0.6"/><line x1="1154.4" y1="59.0" x2="1143.0" y2="52.8" stroke="#56b488" stroke-width="1.5"/><line x1="1143.0" y1="52.8" x2="1131.6" y2="46.6" stroke="#b3a660" stroke-width="1.5"/><line x1="1154.4" y1="59.0" x2="1157.5" y2="50.2" stroke="#56b488" stroke-width="1.5"/><line x1="1157.5" y1="50.2" x2="1160.7" y2="41.3" stroke="#b3a660" stroke-width="1.5"/><line x1="1154.4" y1="59.0" x2="1147.1" y2="65.2" stroke="#56b488" stroke-width="1.5"/><line x1="1147.1" y1="65.2" x2="1139.9" y2="71.5" stroke="#b3a660" stroke-width="1.5"/><line x1="1154.4" y1="59.0" x2="1161.8" y2="67.5" stroke="#56b488" stroke-width="1.5"/><line x1="1161.8" y1="67.5" x2="1169.3" y2="76.0" stroke="#b3a660" stroke-width="1.5"/><line x1="1178.5" y1="59.0" x2="1169.6" y2="50.2" stroke="#56b488" stroke-width="1.5"/><line x1="1169.6" y1="50.2" x2="1160.7" y2="41.3" stroke="#b3a660" stroke-width="1.5"/><line x1="1178.5" y1="59.0" x2="1182.9" y2="50.5" stroke="#56b488" stroke-width="1.5"/><line x1="1182.9" y1="50.5" x2="1187.3" y2="42.1" stroke="#b3a660" stroke-width="1.5"/><line x1="1178.5" y1="59.0" x2="1173.9" y2="67.5" stroke="#56b488" stroke-width="1.5"/><line x1="1173.9" y1="67.5" x2="1169.3" y2="76.0" stroke="#b3a660" stroke-width="1.5"/><line x1="1178.5" y1="59.0" x2="1187.2" y2="67.9" stroke="#56b488" stroke-width="1.5"/><line x1="1187.2" y1="67.9" x2="1195.9" y2="76.8" stroke="#b3a660" stroke-width="1.5"/><line x1="1202.5" y1="59.5" x2="1194.9" y2="50.8" stroke="#56b488" stroke-width="1.5"/><line x1="1194.9" y1="50.8" x2="1187.3" y2="42.1" stroke="#b3a660" stroke-width="1.5"/><line x1="1202.5" y1="59.5" x2="1209.7" y2="53.0" stroke="#56b488" stroke-width="1.5"/><line x1="1209.7" y1="53.0" x2="1216.8" y2="46.6" stroke="#b3a660" stroke-width="1.5"/><line x1="1202.5" y1="59.5" x2="1199.2" y2="68.2" stroke="#56b488" stroke-width="1.5"/><line x1="1199.2" y1="68.2" x2="1195.9" y2="76.8" stroke="#b3a660" stroke-width="1.5"/><line x1="1202.5" y1="59.5" x2="1213.8" y2="65.5" stroke="#56b488" stroke-width="1.5"/><line x1="1213.8" y1="65.5" x2="1225.1" y2="71.5" stroke="#b3a660" stroke-width="1.5"/><line x1="1239.6" y1="59.0" x2="1228.2" y2="52.8" stroke="#56b488" stroke-width="1.5"/><line x1="1228.2" y1="52.8" x2="1216.8" y2="46.6" stroke="#b3a660" stroke-width="1.5"/><line x1="1239.6" y1="59.0" x2="1242.8" y2="50.2" stroke="#56b488" stroke-width="1.5"/><line x1="1242.8" y1="50.2" x2="1245.9" y2="41.3" stroke="#b3a660" stroke-width="1.5"/><line x1="1239.6" y1="59.0" x2="1232.3" y2="65.2" stroke="#56b488" stroke-width="1.5"/><line x1="1232.3" y1="65.2" x2="1225.1" y2="71.5" stroke="#b3a660" stroke-width="1.5"/><line x1="1239.6" y1="59.0" x2="1247.0" y2="67.5" stroke="#56b488" stroke-width="1.5"/><line x1="1247.0" y1="67.5" x2="1254.5" y2="76.0" stroke="#b3a660" stroke-width="1.5"/><line x1="1263.7" y1="59.0" x2="1254.8" y2="50.2" stroke="#56b488" stroke-width="1.5"/><line x1="1254.8" y1="50.2" x2="1245.9" y2="41.3" stroke="#b3a660" stroke-width="1.5"/><line x1="1263.7" y1="59.0" x2="1268.1" y2="50.5" stroke="#56b488" stroke-width="1.5"/><line x1="1268.1" y1="50.5" x2="1272.5" y2="42.1" stroke="#b3a660" stroke-width="1.5"/><line x1="1263.7" y1="59.0" x2="1259.1" y2="67.5" stroke="#56b488" stroke-width="1.5"/><line x1="1259.1" y1="67.5" x2="1254.5" y2="76.0" stroke="#b3a660" stroke-width="1.5"/><line x1="1263.7" y1="59.0" x2="1272.4" y2="67.9" stroke="#56b488" stroke-width="1.5"/><line x1="1272.4" y1="67.9" x2="1281.1" y2="76.8" stroke="#b3a660" stroke-width="1.5"/><line x1="1287.7" y1="59.5" x2="1280.1" y2="50.8" stroke="#56b488" stroke-width="1.5"/><line x1="1280.1" y1="50.8" x2="1272.5" y2="42.1" stroke="#b3a660" stroke-width="1.5"/><line x1="1287.7" y1="59.5" x2="1294.8" y2="53.0" stroke="#56b488" stroke-width="1.5"/><line x1="1294.8" y1="53.0" x2="1302.0" y2="46.6" stroke="#b3a660" stroke-width="1.5"/><line x1="1287.7" y1="59.5" x2="1284.4" y2="68.2" stroke="#56b488" stroke-width="1.5"/><line x1="1284.4" y1="68.2" x2="1281.1" y2="76.8" stroke="#b3a660" stroke-width="1.5"/><line x1="1287.7" y1="59.5" x2="1299.0" y2="65.5" stroke="#56b488" stroke-width="1.5"/><line x1="1299.0" y1="65.5" x2="1310.3" y2="71.5" stroke="#b3a660" stroke-width="1.5"/><circle cx="1154.4" cy="59.0" r="5.1" fill="url(#gNb)"/><circle cx="1178.5" cy="59.0" r="5.1" fill="url(#gNb)"/><circle cx="1202.5" cy="59.5" r="5.1" fill="url(#gNb)"/><circle cx="1239.6" cy="59.0" r="5.1" fill="url(#gNb)"/><circle cx="1263.7" cy="59.0" r="5.1" fill="url(#gNb)"/><circle cx="1287.7" cy="59.5" r="5.1" fill="url(#gNb)"/><circle cx="1131.6" cy="46.6" r="4.7" fill="url(#gSe)"/><circle cx="1160.7" cy="41.3" r="4.7" fill="url(#gSe)"/><circle cx="1187.3" cy="42.1" r="4.7" fill="url(#gSe)"/><circle cx="1216.8" cy="46.6" r="4.7" fill="url(#gSe)"/><circle cx="1245.9" cy="41.3" r="4.7" fill="url(#gSe)"/><circle cx="1272.5" cy="42.1" r="4.7" fill="url(#gSe)"/><circle cx="1302.0" cy="46.6" r="4.7" fill="url(#gSe)"/><circle cx="1139.9" cy="71.5" r="4.7" fill="url(#gSe)"/><circle cx="1169.3" cy="76.0" r="4.7" fill="url(#gSe)"/><circle cx="1195.9" cy="76.8" r="4.7" fill="url(#gSe)"/><circle cx="1225.1" cy="71.5" r="4.7" fill="url(#gSe)"/><circle cx="1254.5" cy="76.0" r="4.7" fill="url(#gSe)"/><circle cx="1281.1" cy="76.8" r="4.7" fill="url(#gSe)"/><circle cx="1310.3" cy="71.5" r="4.7" fill="url(#gSe)"/><polygon points="1132.3,101.2 1158.9,102.0 1188.4,106.5 1217.5,101.2 1244.1,102.0 1273.6,106.5 1302.7,101.2 1329.3,102.0 1337.9,136.7 1311.3,135.9 1281.9,131.4 1252.7,136.7 1226.1,135.9 1196.7,131.4 1167.5,136.7 1140.9,135.9" fill="#72b894" fill-opacity="0.38" stroke="#9aa8a0" stroke-opacity="0.35" stroke-width="0.6"/><polygon points="1132.3,101.2 1158.9,102.0 1167.5,136.7" fill="#72b894" fill-opacity="0.04" stroke="#9aa8a0" stroke-opacity="0.35" stroke-width="0.6"/><polygon points="1132.3,101.2 1140.9,135.9 1150.1,118.9" fill="#72b894" fill-opacity="0.22" stroke="#9aa8a0" stroke-opacity="0.35" stroke-width="0.6"/><polygon points="1158.9,102.0 1188.4,106.5 1196.7,131.4" fill="#72b894" fill-opacity="0.30" stroke="#9aa8a0" stroke-opacity="0.35" stroke-width="0.6"/><polygon points="1158.9,102.0 1167.5,136.7 1174.1,119.4" fill="#72b894" fill-opacity="0.08" stroke="#9aa8a0" stroke-opacity="0.35" stroke-width="0.6"/><polygon points="1188.4,106.5 1217.5,101.2 1226.1,135.9" fill="#72b894" fill-opacity="0.04" stroke="#9aa8a0" stroke-opacity="0.35" stroke-width="0.6"/><polygon points="1188.4,106.5 1196.7,131.4 1211.2,118.9" fill="#72b894" fill-opacity="0.08" stroke="#9aa8a0" stroke-opacity="0.35" stroke-width="0.6"/><polygon points="1217.5,101.2 1244.1,102.0 1252.7,136.7" fill="#72b894" fill-opacity="0.30" stroke="#9aa8a0" stroke-opacity="0.35" stroke-width="0.6"/><polygon points="1217.5,101.2 1226.1,135.9 1235.3,118.9" fill="#72b894" fill-opacity="0.22" stroke="#9aa8a0" stroke-opacity="0.35" stroke-width="0.6"/><polygon points="1244.1,102.0 1273.6,106.5 1281.9,131.4" fill="#72b894" fill-opacity="0.04" stroke="#9aa8a0" stroke-opacity="0.35" stroke-width="0.6"/><polygon points="1244.1,102.0 1252.7,136.7 1259.3,119.4" fill="#72b894" fill-opacity="0.08" stroke="#9aa8a0" stroke-opacity="0.35" stroke-width="0.6"/><polygon points="1273.6,106.5 1302.7,101.2 1311.3,135.9" fill="#72b894" fill-opacity="0.30" stroke="#9aa8a0" stroke-opacity="0.35" stroke-width="0.6"/><polygon points="1273.6,106.5 1281.9,131.4 1296.4,118.9" fill="#72b894" fill-opacity="0.08" stroke="#9aa8a0" stroke-opacity="0.35" stroke-width="0.6"/><polygon points="1302.7,101.2 1329.3,102.0 1337.9,136.7" fill="#72b894" fill-opacity="0.04" stroke="#9aa8a0" stroke-opacity="0.35" stroke-width="0.6"/><polygon points="1302.7,101.2 1311.3,135.9 1320.5,118.9" fill="#72b894" fill-opacity="0.22" stroke="#9aa8a0" stroke-opacity="0.35" stroke-width="0.6"/><line x1="1150.1" y1="118.9" x2="1141.2" y2="110.1" stroke="#56b488" stroke-width="1.5"/><line x1="1141.2" y1="110.1" x2="1132.3" y2="101.2" stroke="#b3a660" stroke-width="1.5"/><line x1="1150.1" y1="118.9" x2="1154.5" y2="110.5" stroke="#56b488" stroke-width="1.5"/><line x1="1154.5" y1="110.5" x2="1158.9" y2="102.0" stroke="#b3a660" stroke-width="1.5"/><line x1="1150.1" y1="118.9" x2="1145.5" y2="127.4" stroke="#56b488" stroke-width="1.5"/><line x1="1145.5" y1="127.4" x2="1140.9" y2="135.9" stroke="#b3a660" stroke-width="1.5"/><line x1="1150.1" y1="118.9" x2="1158.8" y2="127.8" stroke="#56b488" stroke-width="1.5"/><line x1="1158.8" y1="127.8" x2="1167.5" y2="136.7" stroke="#b3a660" stroke-width="1.5"/><line x1="1174.1" y1="119.4" x2="1166.5" y2="110.7" stroke="#56b488" stroke-width="1.5"/><line x1="1166.5" y1="110.7" x2="1158.9" y2="102.0" stroke="#b3a660" stroke-width="1.5"/><line x1="1174.1" y1="119.4" x2="1181.2" y2="113.0" stroke="#56b488" stroke-width="1.5"/><line x1="1181.2" y1="113.0" x2="1188.4" y2="106.5" stroke="#b3a660" stroke-width="1.5"/><line x1="1174.1" y1="119.4" x2="1170.8" y2="128.1" stroke="#56b488" stroke-width="1.5"/><line x1="1170.8" y1="128.1" x2="1167.5" y2="136.7" stroke="#b3a660" stroke-width="1.5"/><line x1="1174.1" y1="119.4" x2="1185.4" y2="125.4" stroke="#56b488" stroke-width="1.5"/><line x1="1185.4" y1="125.4" x2="1196.7" y2="131.4" stroke="#b3a660" stroke-width="1.5"/><line x1="1211.2" y1="118.9" x2="1199.8" y2="112.7" stroke="#56b488" stroke-width="1.5"/><line x1="1199.8" y1="112.7" x2="1188.4" y2="106.5" stroke="#b3a660" stroke-width="1.5"/><line x1="1211.2" y1="118.9" x2="1214.3" y2="110.1" stroke="#56b488" stroke-width="1.5"/><line x1="1214.3" y1="110.1" x2="1217.5" y2="101.2" stroke="#b3a660" stroke-width="1.5"/><line x1="1211.2" y1="118.9" x2="1204.0" y2="125.2" stroke="#56b488" stroke-width="1.5"/><line x1="1204.0" y1="125.2" x2="1196.7" y2="131.4" stroke="#b3a660" stroke-width="1.5"/><line x1="1211.2" y1="118.9" x2="1218.7" y2="127.4" stroke="#56b488" stroke-width="1.5"/><line x1="1218.7" y1="127.4" x2="1226.1" y2="135.9" stroke="#b3a660" stroke-width="1.5"/><line x1="1235.3" y1="118.9" x2="1226.4" y2="110.1" stroke="#56b488" stroke-width="1.5"/><line x1="1226.4" y1="110.1" x2="1217.5" y2="101.2" stroke="#b3a660" stroke-width="1.5"/><line x1="1235.3" y1="118.9" x2="1239.7" y2="110.5" stroke="#56b488" stroke-width="1.5"/><line x1="1239.7" y1="110.5" x2="1244.1" y2="102.0" stroke="#b3a660" stroke-width="1.5"/><line x1="1235.3" y1="118.9" x2="1230.7" y2="127.4" stroke="#56b488" stroke-width="1.5"/><line x1="1230.7" y1="127.4" x2="1226.1" y2="135.9" stroke="#b3a660" stroke-width="1.5"/><line x1="1235.3" y1="118.9" x2="1244.0" y2="127.8" stroke="#56b488" stroke-width="1.5"/><line x1="1244.0" y1="127.8" x2="1252.7" y2="136.7" stroke="#b3a660" stroke-width="1.5"/><line x1="1259.3" y1="119.4" x2="1251.7" y2="110.7" stroke="#56b488" stroke-width="1.5"/><line x1="1251.7" y1="110.7" x2="1244.1" y2="102.0" stroke="#b3a660" stroke-width="1.5"/><line x1="1259.3" y1="119.4" x2="1266.5" y2="113.0" stroke="#56b488" stroke-width="1.5"/><line x1="1266.5" y1="113.0" x2="1273.6" y2="106.5" stroke="#b3a660" stroke-width="1.5"/><line x1="1259.3" y1="119.4" x2="1256.0" y2="128.1" stroke="#56b488" stroke-width="1.5"/><line x1="1256.0" y1="128.1" x2="1252.7" y2="136.7" stroke="#b3a660" stroke-width="1.5"/><line x1="1259.3" y1="119.4" x2="1270.6" y2="125.4" stroke="#56b488" stroke-width="1.5"/><line x1="1270.6" y1="125.4" x2="1281.9" y2="131.4" stroke="#b3a660" stroke-width="1.5"/><line x1="1296.4" y1="118.9" x2="1285.0" y2="112.7" stroke="#56b488" stroke-width="1.5"/><line x1="1285.0" y1="112.7" x2="1273.6" y2="106.5" stroke="#b3a660" stroke-width="1.5"/><line x1="1296.4" y1="118.9" x2="1299.6" y2="110.1" stroke="#56b488" stroke-width="1.5"/><line x1="1299.6" y1="110.1" x2="1302.7" y2="101.2" stroke="#b3a660" stroke-width="1.5"/><line x1="1296.4" y1="118.9" x2="1289.2" y2="125.2" stroke="#56b488" stroke-width="1.5"/><line x1="1289.2" y1="125.2" x2="1281.9" y2="131.4" stroke="#b3a660" stroke-width="1.5"/><line x1="1296.4" y1="118.9" x2="1303.9" y2="127.4" stroke="#56b488" stroke-width="1.5"/><line x1="1303.9" y1="127.4" x2="1311.3" y2="135.9" stroke="#b3a660" stroke-width="1.5"/><line x1="1320.5" y1="118.9" x2="1311.6" y2="110.1" stroke="#56b488" stroke-width="1.5"/><line x1="1311.6" y1="110.1" x2="1302.7" y2="101.2" stroke="#b3a660" stroke-width="1.5"/><line x1="1320.5" y1="118.9" x2="1324.9" y2="110.5" stroke="#56b488" stroke-width="1.5"/><line x1="1324.9" y1="110.5" x2="1329.3" y2="102.0" stroke="#b3a660" stroke-width="1.5"/><line x1="1320.5" y1="118.9" x2="1315.9" y2="127.4" stroke="#56b488" stroke-width="1.5"/><line x1="1315.9" y1="127.4" x2="1311.3" y2="135.9" stroke="#b3a660" stroke-width="1.5"/><line x1="1320.5" y1="118.9" x2="1329.2" y2="127.8" stroke="#56b488" stroke-width="1.5"/><line x1="1329.2" y1="127.8" x2="1337.9" y2="136.7" stroke="#b3a660" stroke-width="1.5"/><circle cx="1150.1" cy="118.9" r="5.1" fill="url(#gNb)"/><circle cx="1174.1" cy="119.4" r="5.1" fill="url(#gNb)"/><circle cx="1211.2" cy="118.9" r="5.1" fill="url(#gNb)"/><circle cx="1235.3" cy="118.9" r="5.1" fill="url(#gNb)"/><circle cx="1259.3" cy="119.4" r="5.1" fill="url(#gNb)"/><circle cx="1296.4" cy="118.9" r="5.1" fill="url(#gNb)"/><circle cx="1320.5" cy="118.9" r="5.1" fill="url(#gNb)"/><circle cx="1132.3" cy="101.2" r="4.7" fill="url(#gSe)"/><circle cx="1158.9" cy="102.0" r="4.7" fill="url(#gSe)"/><circle cx="1188.4" cy="106.5" r="4.7" fill="url(#gSe)"/><circle cx="1217.5" cy="101.2" r="4.7" fill="url(#gSe)"/><circle cx="1244.1" cy="102.0" r="4.7" fill="url(#gSe)"/><circle cx="1273.6" cy="106.5" r="4.7" fill="url(#gSe)"/><circle cx="1302.7" cy="101.2" r="4.7" fill="url(#gSe)"/><circle cx="1329.3" cy="102.0" r="4.7" fill="url(#gSe)"/><circle cx="1140.9" cy="135.9" r="4.7" fill="url(#gSe)"/><circle cx="1167.5" cy="136.7" r="4.7" fill="url(#gSe)"/><circle cx="1196.7" cy="131.4" r="4.7" fill="url(#gSe)"/><circle cx="1226.1" cy="135.9" r="4.7" fill="url(#gSe)"/><circle cx="1252.7" cy="136.7" r="4.7" fill="url(#gSe)"/><circle cx="1281.9" cy="131.4" r="4.7" fill="url(#gSe)"/><circle cx="1311.3" cy="135.9" r="4.7" fill="url(#gSe)"/><circle cx="1337.9" cy="136.7" r="4.7" fill="url(#gSe)"/><polygon points="1159.9,166.5 1189.0,161.2 1215.6,162.0 1245.1,166.5 1274.2,161.2 1300.8,162.0 1330.3,166.5 1338.6,191.4 1309.4,196.7 1282.8,195.9 1253.4,191.4 1224.2,196.7 1197.6,195.9 1168.2,191.4" fill="#72b894" fill-opacity="0.38" stroke="#9aa8a0" stroke-opacity="0.35" stroke-width="0.6"/><polygon points="1159.9,166.5 1189.0,161.2 1197.6,195.9" fill="#72b894" fill-opacity="0.04" stroke="#9aa8a0" stroke-opacity="0.35" stroke-width="0.6"/><polygon points="1159.9,166.5 1168.2,191.4 1182.7,178.9" fill="#72b894" fill-opacity="0.22" stroke="#9aa8a0" stroke-opacity="0.35" stroke-width="0.6"/><polygon points="1189.0,161.2 1215.6,162.0 1224.2,196.7" fill="#72b894" fill-opacity="0.30" stroke="#9aa8a0" stroke-opacity="0.35" stroke-width="0.6"/><polygon points="1189.0,161.2 1197.6,195.9 1206.8,178.9" fill="#72b894" fill-opacity="0.08" stroke="#9aa8a0" stroke-opacity="0.35" stroke-width="0.6"/><polygon points="1215.6,162.0 1245.1,166.5 1253.4,191.4" fill="#72b894" fill-opacity="0.04" stroke="#9aa8a0" stroke-opacity="0.35" stroke-width="0.6"/><polygon points="1215.6,162.0 1224.2,196.7 1230.8,179.4" fill="#72b894" fill-opacity="0.08" stroke="#9aa8a0" stroke-opacity="0.35" stroke-width="0.6"/><polygon points="1245.1,166.5 1274.2,161.2 1282.8,195.9" fill="#72b894" fill-opacity="0.30" stroke="#9aa8a0" stroke-opacity="0.35" stroke-width="0.6"/><polygon points="1245.1,166.5 1253.4,191.4 1267.9,178.9" fill="#72b894" fill-opacity="0.22" stroke="#9aa8a0" stroke-opacity="0.35" stroke-width="0.6"/><polygon points="1274.2,161.2 1300.8,162.0 1309.4,196.7" fill="#72b894" fill-opacity="0.04" stroke="#9aa8a0" stroke-opacity="0.35" stroke-width="0.6"/><polygon points="1274.2,161.2 1282.8,195.9 1292.0,178.9" fill="#72b894" fill-opacity="0.08" stroke="#9aa8a0" stroke-opacity="0.35" stroke-width="0.6"/><polygon points="1300.8,162.0 1330.3,166.5 1338.6,191.4" fill="#72b894" fill-opacity="0.30" stroke="#9aa8a0" stroke-opacity="0.35" stroke-width="0.6"/><polygon points="1300.8,162.0 1309.4,196.7 1316.0,179.4" fill="#72b894" fill-opacity="0.08" stroke="#9aa8a0" stroke-opacity="0.35" stroke-width="0.6"/><line x1="1182.7" y1="178.9" x2="1171.3" y2="172.7" stroke="#56b488" stroke-width="1.5"/><line x1="1171.3" y1="172.7" x2="1159.9" y2="166.5" stroke="#b3a660" stroke-width="1.5"/><line x1="1182.7" y1="178.9" x2="1185.8" y2="170.1" stroke="#56b488" stroke-width="1.5"/><line x1="1185.8" y1="170.1" x2="1189.0" y2="161.2" stroke="#b3a660" stroke-width="1.5"/><line x1="1182.7" y1="178.9" x2="1175.5" y2="185.2" stroke="#56b488" stroke-width="1.5"/><line x1="1175.5" y1="185.2" x2="1168.2" y2="191.4" stroke="#b3a660" stroke-width="1.5"/><line x1="1182.7" y1="178.9" x2="1190.2" y2="187.4" stroke="#56b488" stroke-width="1.5"/><line x1="1190.2" y1="187.4" x2="1197.6" y2="195.9" stroke="#b3a660" stroke-width="1.5"/><line x1="1206.8" y1="178.9" x2="1197.9" y2="170.1" stroke="#56b488" stroke-width="1.5"/><line x1="1197.9" y1="170.1" x2="1189.0" y2="161.2" stroke="#b3a660" stroke-width="1.5"/><line x1="1206.8" y1="178.9" x2="1211.2" y2="170.4" stroke="#56b488" stroke-width="1.5"/><line x1="1211.2" y1="170.4" x2="1215.6" y2="162.0" stroke="#b3a660" stroke-width="1.5"/><line x1="1206.8" y1="178.9" x2="1202.2" y2="187.4" stroke="#56b488" stroke-width="1.5"/><line x1="1202.2" y1="187.4" x2="1197.6" y2="195.9" stroke="#b3a660" stroke-width="1.5"/><line x1="1206.8" y1="178.9" x2="1215.5" y2="187.8" stroke="#56b488" stroke-width="1.5"/><line x1="1215.5" y1="187.8" x2="1224.2" y2="196.7" stroke="#b3a660" stroke-width="1.5"/><line x1="1230.8" y1="179.4" x2="1223.2" y2="170.7" stroke="#56b488" stroke-width="1.5"/><line x1="1223.2" y1="170.7" x2="1215.6" y2="162.0" stroke="#b3a660" stroke-width="1.5"/><line x1="1230.8" y1="179.4" x2="1238.0" y2="172.9" stroke="#56b488" stroke-width="1.5"/><line x1="1238.0" y1="172.9" x2="1245.1" y2="166.5" stroke="#b3a660" stroke-width="1.5"/><line x1="1230.8" y1="179.4" x2="1227.5" y2="188.1" stroke="#56b488" stroke-width="1.5"/><line x1="1227.5" y1="188.1" x2="1224.2" y2="196.7" stroke="#b3a660" stroke-width="1.5"/><line x1="1230.8" y1="179.4" x2="1242.1" y2="185.4" stroke="#56b488" stroke-width="1.5"/><line x1="1242.1" y1="185.4" x2="1253.4" y2="191.4" stroke="#b3a660" stroke-width="1.5"/><line x1="1267.9" y1="178.9" x2="1256.5" y2="172.7" stroke="#56b488" stroke-width="1.5"/><line x1="1256.5" y1="172.7" x2="1245.1" y2="166.5" stroke="#b3a660" stroke-width="1.5"/><line x1="1267.9" y1="178.9" x2="1271.1" y2="170.1" stroke="#56b488" stroke-width="1.5"/><line x1="1271.1" y1="170.1" x2="1274.2" y2="161.2" stroke="#b3a660" stroke-width="1.5"/><line x1="1267.9" y1="178.9" x2="1260.7" y2="185.2" stroke="#56b488" stroke-width="1.5"/><line x1="1260.7" y1="185.2" x2="1253.4" y2="191.4" stroke="#b3a660" stroke-width="1.5"/><line x1="1267.9" y1="178.9" x2="1275.4" y2="187.4" stroke="#56b488" stroke-width="1.5"/><line x1="1275.4" y1="187.4" x2="1282.8" y2="195.9" stroke="#b3a660" stroke-width="1.5"/><line x1="1292.0" y1="178.9" x2="1283.1" y2="170.1" stroke="#56b488" stroke-width="1.5"/><line x1="1283.1" y1="170.1" x2="1274.2" y2="161.2" stroke="#b3a660" stroke-width="1.5"/><line x1="1292.0" y1="178.9" x2="1296.4" y2="170.4" stroke="#56b488" stroke-width="1.5"/><line x1="1296.4" y1="170.4" x2="1300.8" y2="162.0" stroke="#b3a660" stroke-width="1.5"/><line x1="1292.0" y1="178.9" x2="1287.4" y2="187.4" stroke="#56b488" stroke-width="1.5"/><line x1="1287.4" y1="187.4" x2="1282.8" y2="195.9" stroke="#b3a660" stroke-width="1.5"/><line x1="1292.0" y1="178.9" x2="1300.7" y2="187.8" stroke="#56b488" stroke-width="1.5"/><line x1="1300.7" y1="187.8" x2="1309.4" y2="196.7" stroke="#b3a660" stroke-width="1.5"/><line x1="1316.0" y1="179.4" x2="1308.4" y2="170.7" stroke="#56b488" stroke-width="1.5"/><line x1="1308.4" y1="170.7" x2="1300.8" y2="162.0" stroke="#b3a660" stroke-width="1.5"/><line x1="1316.0" y1="179.4" x2="1323.2" y2="172.9" stroke="#56b488" stroke-width="1.5"/><line x1="1323.2" y1="172.9" x2="1330.3" y2="166.5" stroke="#b3a660" stroke-width="1.5"/><line x1="1316.0" y1="179.4" x2="1312.7" y2="188.1" stroke="#56b488" stroke-width="1.5"/><line x1="1312.7" y1="188.1" x2="1309.4" y2="196.7" stroke="#b3a660" stroke-width="1.5"/><line x1="1316.0" y1="179.4" x2="1327.3" y2="185.4" stroke="#56b488" stroke-width="1.5"/><line x1="1327.3" y1="185.4" x2="1338.6" y2="191.4" stroke="#b3a660" stroke-width="1.5"/><circle cx="1182.7" cy="178.9" r="5.1" fill="url(#gNb)"/><circle cx="1206.8" cy="178.9" r="5.1" fill="url(#gNb)"/><circle cx="1230.8" cy="179.4" r="5.1" fill="url(#gNb)"/><circle cx="1267.9" cy="178.9" r="5.1" fill="url(#gNb)"/><circle cx="1292.0" cy="178.9" r="5.1" fill="url(#gNb)"/><circle cx="1316.0" cy="179.4" r="5.1" fill="url(#gNb)"/><circle cx="1159.9" cy="166.5" r="4.7" fill="url(#gSe)"/><circle cx="1189.0" cy="161.2" r="4.7" fill="url(#gSe)"/><circle cx="1215.6" cy="162.0" r="4.7" fill="url(#gSe)"/><circle cx="1245.1" cy="166.5" r="4.7" fill="url(#gSe)"/><circle cx="1274.2" cy="161.2" r="4.7" fill="url(#gSe)"/><circle cx="1300.8" cy="162.0" r="4.7" fill="url(#gSe)"/><circle cx="1330.3" cy="166.5" r="4.7" fill="url(#gSe)"/><circle cx="1168.2" cy="191.4" r="4.7" fill="url(#gSe)"/><circle cx="1197.6" cy="195.9" r="4.7" fill="url(#gSe)"/><circle cx="1224.2" cy="196.7" r="4.7" fill="url(#gSe)"/><circle cx="1253.4" cy="191.4" r="4.7" fill="url(#gSe)"/><circle cx="1282.8" cy="195.9" r="4.7" fill="url(#gSe)"/><circle cx="1309.4" cy="196.7" r="4.7" fill="url(#gSe)"/><circle cx="1338.6" cy="191.4" r="4.7" fill="url(#gSe)"/><polygon points="1131.6,226.4 1160.7,221.1 1187.3,221.9 1216.8,226.4 1245.9,221.1 1272.5,221.9 1302.0,226.4 1310.3,251.3 1281.1,256.6 1254.5,255.8 1225.1,251.3 1195.9,256.6 1169.3,255.8 1139.9,251.3" fill="#72b894" fill-opacity="0.38" stroke="#9aa8a0" stroke-opacity="0.35" stroke-width="0.6"/><polygon points="1131.6,226.4 1160.7,221.1 1169.3,255.8" fill="#72b894" fill-opacity="0.04" stroke="#9aa8a0" stroke-opacity="0.35" stroke-width="0.6"/><polygon points="1131.6,226.4 1139.9,251.3 1154.4,238.8" fill="#72b894" fill-opacity="0.22" stroke="#9aa8a0" stroke-opacity="0.35" stroke-width="0.6"/><polygon points="1160.7,221.1 1187.3,221.9 1195.9,256.6" fill="#72b894" fill-opacity="0.30" stroke="#9aa8a0" stroke-opacity="0.35" stroke-width="0.6"/><polygon points="1160.7,221.1 1169.3,255.8 1178.5,238.8" fill="#72b894" fill-opacity="0.08" stroke="#9aa8a0" stroke-opacity="0.35" stroke-width="0.6"/><polygon points="1187.3,221.9 1216.8,226.4 1225.1,251.3" fill="#72b894" fill-opacity="0.04" stroke="#9aa8a0" stroke-opacity="0.35" stroke-width="0.6"/><polygon points="1187.3,221.9 1195.9,256.6 1202.5,239.3" fill="#72b894" fill-opacity="0.08" stroke="#9aa8a0" stroke-opacity="0.35" stroke-width="0.6"/><polygon points="1216.8,226.4 1245.9,221.1 1254.5,255.8" fill="#72b894" fill-opacity="0.30" stroke="#9aa8a0" stroke-opacity="0.35" stroke-width="0.6"/><polygon points="1216.8,226.4 1225.1,251.3 1239.6,238.8" fill="#72b894" fill-opacity="0.22" stroke="#9aa8a0" stroke-opacity="0.35" stroke-width="0.6"/><polygon points="1245.9,221.1 1272.5,221.9 1281.1,256.6" fill="#72b894" fill-opacity="0.04" stroke="#9aa8a0" stroke-opacity="0.35" stroke-width="0.6"/><polygon points="1245.9,221.1 1254.5,255.8 1263.7,238.8" fill="#72b894" fill-opacity="0.08" stroke="#9aa8a0" stroke-opacity="0.35" stroke-width="0.6"/><polygon points="1272.5,221.9 1302.0,226.4 1310.3,251.3" fill="#72b894" fill-opacity="0.30" stroke="#9aa8a0" stroke-opacity="0.35" stroke-width="0.6"/><polygon points="1272.5,221.9 1281.1,256.6 1287.7,239.3" fill="#72b894" fill-opacity="0.08" stroke="#9aa8a0" stroke-opacity="0.35" stroke-width="0.6"/><line x1="1154.4" y1="238.8" x2="1143.0" y2="232.6" stroke="#56b488" stroke-width="1.5"/><line x1="1143.0" y1="232.6" x2="1131.6" y2="226.4" stroke="#b3a660" stroke-width="1.5"/><line x1="1154.4" y1="238.8" x2="1157.5" y2="230.0" stroke="#56b488" stroke-width="1.5"/><line x1="1157.5" y1="230.0" x2="1160.7" y2="221.1" stroke="#b3a660" stroke-width="1.5"/><line x1="1154.4" y1="238.8" x2="1147.1" y2="245.1" stroke="#56b488" stroke-width="1.5"/><line x1="1147.1" y1="245.1" x2="1139.9" y2="251.3" stroke="#b3a660" stroke-width="1.5"/><line x1="1154.4" y1="238.8" x2="1161.8" y2="247.3" stroke="#56b488" stroke-width="1.5"/><line x1="1161.8" y1="247.3" x2="1169.3" y2="255.8" stroke="#b3a660" stroke-width="1.5"/><line x1="1178.5" y1="238.8" x2="1169.6" y2="230.0" stroke="#56b488" stroke-width="1.5"/><line x1="1169.6" y1="230.0" x2="1160.7" y2="221.1" stroke="#b3a660" stroke-width="1.5"/><line x1="1178.5" y1="238.8" x2="1182.9" y2="230.4" stroke="#56b488" stroke-width="1.5"/><line x1="1182.9" y1="230.4" x2="1187.3" y2="221.9" stroke="#b3a660" stroke-width="1.5"/><line x1="1178.5" y1="238.8" x2="1173.9" y2="247.3" stroke="#56b488" stroke-width="1.5"/><line x1="1173.9" y1="247.3" x2="1169.3" y2="255.8" stroke="#b3a660" stroke-width="1.5"/><line x1="1178.5" y1="238.8" x2="1187.2" y2="247.8" stroke="#56b488" stroke-width="1.5"/><line x1="1187.2" y1="247.8" x2="1195.9" y2="256.6" stroke="#b3a660" stroke-width="1.5"/><line x1="1202.5" y1="239.3" x2="1194.9" y2="230.6" stroke="#56b488" stroke-width="1.5"/><line x1="1194.9" y1="230.6" x2="1187.3" y2="221.9" stroke="#b3a660" stroke-width="1.5"/><line x1="1202.5" y1="239.3" x2="1209.7" y2="232.9" stroke="#56b488" stroke-width="1.5"/><line x1="1209.7" y1="232.9" x2="1216.8" y2="226.4" stroke="#b3a660" stroke-width="1.5"/><line x1="1202.5" y1="239.3" x2="1199.2" y2="248.0" stroke="#56b488" stroke-width="1.5"/><line x1="1199.2" y1="248.0" x2="1195.9" y2="256.6" stroke="#b3a660" stroke-width="1.5"/><line x1="1202.5" y1="239.3" x2="1213.8" y2="245.3" stroke="#56b488" stroke-width="1.5"/><line x1="1213.8" y1="245.3" x2="1225.1" y2="251.3" stroke="#b3a660" stroke-width="1.5"/><line x1="1239.6" y1="238.8" x2="1228.2" y2="232.6" stroke="#56b488" stroke-width="1.5"/><line x1="1228.2" y1="232.6" x2="1216.8" y2="226.4" stroke="#b3a660" stroke-width="1.5"/><line x1="1239.6" y1="238.8" x2="1242.8" y2="230.0" stroke="#56b488" stroke-width="1.5"/><line x1="1242.8" y1="230.0" x2="1245.9" y2="221.1" stroke="#b3a660" stroke-width="1.5"/><line x1="1239.6" y1="238.8" x2="1232.3" y2="245.1" stroke="#56b488" stroke-width="1.5"/><line x1="1232.3" y1="245.1" x2="1225.1" y2="251.3" stroke="#b3a660" stroke-width="1.5"/><line x1="1239.6" y1="238.8" x2="1247.0" y2="247.3" stroke="#56b488" stroke-width="1.5"/><line x1="1247.0" y1="247.3" x2="1254.5" y2="255.8" stroke="#b3a660" stroke-width="1.5"/><line x1="1263.7" y1="238.8" x2="1254.8" y2="230.0" stroke="#56b488" stroke-width="1.5"/><line x1="1254.8" y1="230.0" x2="1245.9" y2="221.1" stroke="#b3a660" stroke-width="1.5"/><line x1="1263.7" y1="238.8" x2="1268.1" y2="230.4" stroke="#56b488" stroke-width="1.5"/><line x1="1268.1" y1="230.4" x2="1272.5" y2="221.9" stroke="#b3a660" stroke-width="1.5"/><line x1="1263.7" y1="238.8" x2="1259.1" y2="247.3" stroke="#56b488" stroke-width="1.5"/><line x1="1259.1" y1="247.3" x2="1254.5" y2="255.8" stroke="#b3a660" stroke-width="1.5"/><line x1="1263.7" y1="238.8" x2="1272.4" y2="247.8" stroke="#56b488" stroke-width="1.5"/><line x1="1272.4" y1="247.8" x2="1281.1" y2="256.6" stroke="#b3a660" stroke-width="1.5"/><line x1="1287.7" y1="239.3" x2="1280.1" y2="230.6" stroke="#56b488" stroke-width="1.5"/><line x1="1280.1" y1="230.6" x2="1272.5" y2="221.9" stroke="#b3a660" stroke-width="1.5"/><line x1="1287.7" y1="239.3" x2="1294.8" y2="232.9" stroke="#56b488" stroke-width="1.5"/><line x1="1294.8" y1="232.9" x2="1302.0" y2="226.4" stroke="#b3a660" stroke-width="1.5"/><line x1="1287.7" y1="239.3" x2="1284.4" y2="248.0" stroke="#56b488" stroke-width="1.5"/><line x1="1284.4" y1="248.0" x2="1281.1" y2="256.6" stroke="#b3a660" stroke-width="1.5"/><line x1="1287.7" y1="239.3" x2="1299.0" y2="245.3" stroke="#56b488" stroke-width="1.5"/><line x1="1299.0" y1="245.3" x2="1310.3" y2="251.3" stroke="#b3a660" stroke-width="1.5"/><circle cx="1154.4" cy="238.8" r="5.1" fill="url(#gNb)"/><circle cx="1178.5" cy="238.8" r="5.1" fill="url(#gNb)"/><circle cx="1202.5" cy="239.3" r="5.1" fill="url(#gNb)"/><circle cx="1239.6" cy="238.8" r="5.1" fill="url(#gNb)"/><circle cx="1263.7" cy="238.8" r="5.1" fill="url(#gNb)"/><circle cx="1287.7" cy="239.3" r="5.1" fill="url(#gNb)"/><circle cx="1131.6" cy="226.4" r="4.7" fill="url(#gSe)"/><circle cx="1160.7" cy="221.1" r="4.7" fill="url(#gSe)"/><circle cx="1187.3" cy="221.9" r="4.7" fill="url(#gSe)"/><circle cx="1216.8" cy="226.4" r="4.7" fill="url(#gSe)"/><circle cx="1245.9" cy="221.1" r="4.7" fill="url(#gSe)"/><circle cx="1272.5" cy="221.9" r="4.7" fill="url(#gSe)"/><circle cx="1302.0" cy="226.4" r="4.7" fill="url(#gSe)"/><circle cx="1139.9" cy="251.3" r="4.7" fill="url(#gSe)"/><circle cx="1169.3" cy="255.8" r="4.7" fill="url(#gSe)"/><circle cx="1195.9" cy="256.6" r="4.7" fill="url(#gSe)"/><circle cx="1225.1" cy="251.3" r="4.7" fill="url(#gSe)"/><circle cx="1254.5" cy="255.8" r="4.7" fill="url(#gSe)"/><circle cx="1281.1" cy="256.6" r="4.7" fill="url(#gSe)"/><circle cx="1310.3" cy="251.3" r="4.7" fill="url(#gSe)"/><polygon points="1132.3,281.2 1158.9,282.0 1188.4,286.5 1217.5,281.2 1244.1,282.0 1273.6,286.5 1302.7,281.2 1329.3,282.0 1337.9,316.7 1311.3,315.9 1281.9,311.4 1252.7,316.7 1226.1,315.9 1196.7,311.4 1167.5,316.7 1140.9,315.9" fill="#72b894" fill-opacity="0.38" stroke="#9aa8a0" stroke-opacity="0.35" stroke-width="0.6"/><polygon points="1132.3,281.2 1158.9,282.0 1167.5,316.7" fill="#72b894" fill-opacity="0.04" stroke="#9aa8a0" stroke-opacity="0.35" stroke-width="0.6"/><polygon points="1132.3,281.2 1140.9,315.9 1150.1,298.9" fill="#72b894" fill-opacity="0.22" stroke="#9aa8a0" stroke-opacity="0.35" stroke-width="0.6"/><polygon points="1158.9,282.0 1188.4,286.5 1196.7,311.4" fill="#72b894" fill-opacity="0.30" stroke="#9aa8a0" stroke-opacity="0.35" stroke-width="0.6"/><polygon points="1158.9,282.0 1167.5,316.7 1174.1,299.4" fill="#72b894" fill-opacity="0.08" stroke="#9aa8a0" stroke-opacity="0.35" stroke-width="0.6"/><polygon points="1188.4,286.5 1217.5,281.2 1226.1,315.9" fill="#72b894" fill-opacity="0.04" stroke="#9aa8a0" stroke-opacity="0.35" stroke-width="0.6"/><polygon points="1188.4,286.5 1196.7,311.4 1211.2,298.9" fill="#72b894" fill-opacity="0.08" stroke="#9aa8a0" stroke-opacity="0.35" stroke-width="0.6"/><polygon points="1217.5,281.2 1244.1,282.0 1252.7,316.7" fill="#72b894" fill-opacity="0.30" stroke="#9aa8a0" stroke-opacity="0.35" stroke-width="0.6"/><polygon points="1217.5,281.2 1226.1,315.9 1235.3,298.9" fill="#72b894" fill-opacity="0.22" stroke="#9aa8a0" stroke-opacity="0.35" stroke-width="0.6"/><polygon points="1244.1,282.0 1273.6,286.5 1281.9,311.4" fill="#72b894" fill-opacity="0.04" stroke="#9aa8a0" stroke-opacity="0.35" stroke-width="0.6"/><polygon points="1244.1,282.0 1252.7,316.7 1259.3,299.4" fill="#72b894" fill-opacity="0.08" stroke="#9aa8a0" stroke-opacity="0.35" stroke-width="0.6"/><polygon points="1273.6,286.5 1302.7,281.2 1311.3,315.9" fill="#72b894" fill-opacity="0.30" stroke="#9aa8a0" stroke-opacity="0.35" stroke-width="0.6"/><polygon points="1273.6,286.5 1281.9,311.4 1296.4,298.9" fill="#72b894" fill-opacity="0.08" stroke="#9aa8a0" stroke-opacity="0.35" stroke-width="0.6"/><polygon points="1302.7,281.2 1329.3,282.0 1337.9,316.7" fill="#72b894" fill-opacity="0.04" stroke="#9aa8a0" stroke-opacity="0.35" stroke-width="0.6"/><polygon points="1302.7,281.2 1311.3,315.9 1320.5,298.9" fill="#72b894" fill-opacity="0.22" stroke="#9aa8a0" stroke-opacity="0.35" stroke-width="0.6"/><line x1="1150.1" y1="298.9" x2="1141.2" y2="290.0" stroke="#56b488" stroke-width="1.5"/><line x1="1141.2" y1="290.0" x2="1132.3" y2="281.2" stroke="#b3a660" stroke-width="1.5"/><line x1="1150.1" y1="298.9" x2="1154.5" y2="290.4" stroke="#56b488" stroke-width="1.5"/><line x1="1154.5" y1="290.4" x2="1158.9" y2="282.0" stroke="#b3a660" stroke-width="1.5"/><line x1="1150.1" y1="298.9" x2="1145.5" y2="307.4" stroke="#56b488" stroke-width="1.5"/><line x1="1145.5" y1="307.4" x2="1140.9" y2="315.9" stroke="#b3a660" stroke-width="1.5"/><line x1="1150.1" y1="298.9" x2="1158.8" y2="307.8" stroke="#56b488" stroke-width="1.5"/><line x1="1158.8" y1="307.8" x2="1167.5" y2="316.7" stroke="#b3a660" stroke-width="1.5"/><line x1="1174.1" y1="299.4" x2="1166.5" y2="290.7" stroke="#56b488" stroke-width="1.5"/><line x1="1166.5" y1="290.7" x2="1158.9" y2="282.0" stroke="#b3a660" stroke-width="1.5"/><line x1="1174.1" y1="299.4" x2="1181.2" y2="292.9" stroke="#56b488" stroke-width="1.5"/><line x1="1181.2" y1="292.9" x2="1188.4" y2="286.5" stroke="#b3a660" stroke-width="1.5"/><line x1="1174.1" y1="299.4" x2="1170.8" y2="308.0" stroke="#56b488" stroke-width="1.5"/><line x1="1170.8" y1="308.0" x2="1167.5" y2="316.7" stroke="#b3a660" stroke-width="1.5"/><line x1="1174.1" y1="299.4" x2="1185.4" y2="305.4" stroke="#56b488" stroke-width="1.5"/><line x1="1185.4" y1="305.4" x2="1196.7" y2="311.4" stroke="#b3a660" stroke-width="1.5"/><line x1="1211.2" y1="298.9" x2="1199.8" y2="292.7" stroke="#56b488" stroke-width="1.5"/><line x1="1199.8" y1="292.7" x2="1188.4" y2="286.5" stroke="#b3a660" stroke-width="1.5"/><line x1="1211.2" y1="298.9" x2="1214.3" y2="290.0" stroke="#56b488" stroke-width="1.5"/><line x1="1214.3" y1="290.0" x2="1217.5" y2="281.2" stroke="#b3a660" stroke-width="1.5"/><line x1="1211.2" y1="298.9" x2="1204.0" y2="305.1" stroke="#56b488" stroke-width="1.5"/><line x1="1204.0" y1="305.1" x2="1196.7" y2="311.4" stroke="#b3a660" stroke-width="1.5"/><line x1="1211.2" y1="298.9" x2="1218.7" y2="307.4" stroke="#56b488" stroke-width="1.5"/><line x1="1218.7" y1="307.4" x2="1226.1" y2="315.9" stroke="#b3a660" stroke-width="1.5"/><line x1="1235.3" y1="298.9" x2="1226.4" y2="290.0" stroke="#56b488" stroke-width="1.5"/><line x1="1226.4" y1="290.0" x2="1217.5" y2="281.2" stroke="#b3a660" stroke-width="1.5"/><line x1="1235.3" y1="298.9" x2="1239.7" y2="290.4" stroke="#56b488" stroke-width="1.5"/><line x1="1239.7" y1="290.4" x2="1244.1" y2="282.0" stroke="#b3a660" stroke-width="1.5"/><line x1="1235.3" y1="298.9" x2="1230.7" y2="307.4" stroke="#56b488" stroke-width="1.5"/><line x1="1230.7" y1="307.4" x2="1226.1" y2="315.9" stroke="#b3a660" stroke-width="1.5"/><line x1="1235.3" y1="298.9" x2="1244.0" y2="307.8" stroke="#56b488" stroke-width="1.5"/><line x1="1244.0" y1="307.8" x2="1252.7" y2="316.7" stroke="#b3a660" stroke-width="1.5"/><line x1="1259.3" y1="299.4" x2="1251.7" y2="290.7" stroke="#56b488" stroke-width="1.5"/><line x1="1251.7" y1="290.7" x2="1244.1" y2="282.0" stroke="#b3a660" stroke-width="1.5"/><line x1="1259.3" y1="299.4" x2="1266.5" y2="292.9" stroke="#56b488" stroke-width="1.5"/><line x1="1266.5" y1="292.9" x2="1273.6" y2="286.5" stroke="#b3a660" stroke-width="1.5"/><line x1="1259.3" y1="299.4" x2="1256.0" y2="308.0" stroke="#56b488" stroke-width="1.5"/><line x1="1256.0" y1="308.0" x2="1252.7" y2="316.7" stroke="#b3a660" stroke-width="1.5"/><line x1="1259.3" y1="299.4" x2="1270.6" y2="305.4" stroke="#56b488" stroke-width="1.5"/><line x1="1270.6" y1="305.4" x2="1281.9" y2="311.4" stroke="#b3a660" stroke-width="1.5"/><line x1="1296.4" y1="298.9" x2="1285.0" y2="292.7" stroke="#56b488" stroke-width="1.5"/><line x1="1285.0" y1="292.7" x2="1273.6" y2="286.5" stroke="#b3a660" stroke-width="1.5"/><line x1="1296.4" y1="298.9" x2="1299.6" y2="290.0" stroke="#56b488" stroke-width="1.5"/><line x1="1299.6" y1="290.0" x2="1302.7" y2="281.2" stroke="#b3a660" stroke-width="1.5"/><line x1="1296.4" y1="298.9" x2="1289.2" y2="305.1" stroke="#56b488" stroke-width="1.5"/><line x1="1289.2" y1="305.1" x2="1281.9" y2="311.4" stroke="#b3a660" stroke-width="1.5"/><line x1="1296.4" y1="298.9" x2="1303.9" y2="307.4" stroke="#56b488" stroke-width="1.5"/><line x1="1303.9" y1="307.4" x2="1311.3" y2="315.9" stroke="#b3a660" stroke-width="1.5"/><line x1="1320.5" y1="298.9" x2="1311.6" y2="290.0" stroke="#56b488" stroke-width="1.5"/><line x1="1311.6" y1="290.0" x2="1302.7" y2="281.2" stroke="#b3a660" stroke-width="1.5"/><line x1="1320.5" y1="298.9" x2="1324.9" y2="290.4" stroke="#56b488" stroke-width="1.5"/><line x1="1324.9" y1="290.4" x2="1329.3" y2="282.0" stroke="#b3a660" stroke-width="1.5"/><line x1="1320.5" y1="298.9" x2="1315.9" y2="307.4" stroke="#56b488" stroke-width="1.5"/><line x1="1315.9" y1="307.4" x2="1311.3" y2="315.9" stroke="#b3a660" stroke-width="1.5"/><line x1="1320.5" y1="298.9" x2="1329.2" y2="307.8" stroke="#56b488" stroke-width="1.5"/><line x1="1329.2" y1="307.8" x2="1337.9" y2="316.7" stroke="#b3a660" stroke-width="1.5"/><circle cx="1150.1" cy="298.9" r="5.1" fill="url(#gNb)"/><circle cx="1174.1" cy="299.4" r="5.1" fill="url(#gNb)"/><circle cx="1211.2" cy="298.9" r="5.1" fill="url(#gNb)"/><circle cx="1235.3" cy="298.9" r="5.1" fill="url(#gNb)"/><circle cx="1259.3" cy="299.4" r="5.1" fill="url(#gNb)"/><circle cx="1296.4" cy="298.9" r="5.1" fill="url(#gNb)"/><circle cx="1320.5" cy="298.9" r="5.1" fill="url(#gNb)"/><circle cx="1132.3" cy="281.2" r="4.7" fill="url(#gSe)"/><circle cx="1158.9" cy="282.0" r="4.7" fill="url(#gSe)"/><circle cx="1188.4" cy="286.5" r="4.7" fill="url(#gSe)"/><circle cx="1217.5" cy="281.2" r="4.7" fill="url(#gSe)"/><circle cx="1244.1" cy="282.0" r="4.7" fill="url(#gSe)"/><circle cx="1273.6" cy="286.5" r="4.7" fill="url(#gSe)"/><circle cx="1302.7" cy="281.2" r="4.7" fill="url(#gSe)"/><circle cx="1329.3" cy="282.0" r="4.7" fill="url(#gSe)"/><circle cx="1140.9" cy="315.9" r="4.7" fill="url(#gSe)"/><circle cx="1167.5" cy="316.7" r="4.7" fill="url(#gSe)"/><circle cx="1196.7" cy="311.4" r="4.7" fill="url(#gSe)"/><circle cx="1226.1" cy="315.9" r="4.7" fill="url(#gSe)"/><circle cx="1252.7" cy="316.7" r="4.7" fill="url(#gSe)"/><circle cx="1281.9" cy="311.4" r="4.7" fill="url(#gSe)"/><circle cx="1311.3" cy="315.9" r="4.7" fill="url(#gSe)"/><circle cx="1337.9" cy="316.7" r="4.7" fill="url(#gSe)"/><polygon points="1159.9,346.4 1189.0,341.1 1215.6,341.9 1245.1,346.4 1274.2,341.1 1300.8,341.9 1330.3,346.4 1338.6,371.3 1309.4,376.6 1282.8,375.8 1253.4,371.3 1224.2,376.6 1197.6,375.8 1168.2,371.3" fill="#72b894" fill-opacity="0.38" stroke="#9aa8a0" stroke-opacity="0.35" stroke-width="0.6"/><polygon points="1159.9,346.4 1189.0,341.1 1197.6,375.8" fill="#72b894" fill-opacity="0.04" stroke="#9aa8a0" stroke-opacity="0.35" stroke-width="0.6"/><polygon points="1159.9,346.4 1168.2,371.3 1182.7,358.8" fill="#72b894" fill-opacity="0.22" stroke="#9aa8a0" stroke-opacity="0.35" stroke-width="0.6"/><polygon points="1189.0,341.1 1215.6,341.9 1224.2,376.6" fill="#72b894" fill-opacity="0.30" stroke="#9aa8a0" stroke-opacity="0.35" stroke-width="0.6"/><polygon points="1189.0,341.1 1197.6,375.8 1206.8,358.8" fill="#72b894" fill-opacity="0.08" stroke="#9aa8a0" stroke-opacity="0.35" stroke-width="0.6"/><polygon points="1215.6,341.9 1245.1,346.4 1253.4,371.3" fill="#72b894" fill-opacity="0.04" stroke="#9aa8a0" stroke-opacity="0.35" stroke-width="0.6"/><polygon points="1215.6,341.9 1224.2,376.6 1230.8,359.3" fill="#72b894" fill-opacity="0.08" stroke="#9aa8a0" stroke-opacity="0.35" stroke-width="0.6"/><polygon points="1245.1,346.4 1274.2,341.1 1282.8,375.8" fill="#72b894" fill-opacity="0.30" stroke="#9aa8a0" stroke-opacity="0.35" stroke-width="0.6"/><polygon points="1245.1,346.4 1253.4,371.3 1267.9,358.8" fill="#72b894" fill-opacity="0.22" stroke="#9aa8a0" stroke-opacity="0.35" stroke-width="0.6"/><polygon points="1274.2,341.1 1300.8,341.9 1309.4,376.6" fill="#72b894" fill-opacity="0.04" stroke="#9aa8a0" stroke-opacity="0.35" stroke-width="0.6"/><polygon points="1274.2,341.1 1282.8,375.8 1292.0,358.8" fill="#72b894" fill-opacity="0.08" stroke="#9aa8a0" stroke-opacity="0.35" stroke-width="0.6"/><polygon points="1300.8,341.9 1330.3,346.4 1338.6,371.3" fill="#72b894" fill-opacity="0.30" stroke="#9aa8a0" stroke-opacity="0.35" stroke-width="0.6"/><polygon points="1300.8,341.9 1309.4,376.6 1316.0,359.3" fill="#72b894" fill-opacity="0.08" stroke="#9aa8a0" stroke-opacity="0.35" stroke-width="0.6"/><line x1="1182.7" y1="358.8" x2="1171.3" y2="352.6" stroke="#56b488" stroke-width="1.5"/><line x1="1171.3" y1="352.6" x2="1159.9" y2="346.4" stroke="#b3a660" stroke-width="1.5"/><line x1="1182.7" y1="358.8" x2="1185.8" y2="349.9" stroke="#56b488" stroke-width="1.5"/><line x1="1185.8" y1="349.9" x2="1189.0" y2="341.1" stroke="#b3a660" stroke-width="1.5"/><line x1="1182.7" y1="358.8" x2="1175.5" y2="365.0" stroke="#56b488" stroke-width="1.5"/><line x1="1175.5" y1="365.0" x2="1168.2" y2="371.3" stroke="#b3a660" stroke-width="1.5"/><line x1="1182.7" y1="358.8" x2="1190.2" y2="367.3" stroke="#56b488" stroke-width="1.5"/><line x1="1190.2" y1="367.3" x2="1197.6" y2="375.8" stroke="#b3a660" stroke-width="1.5"/><line x1="1206.8" y1="358.8" x2="1197.9" y2="349.9" stroke="#56b488" stroke-width="1.5"/><line x1="1197.9" y1="349.9" x2="1189.0" y2="341.1" stroke="#b3a660" stroke-width="1.5"/><line x1="1206.8" y1="358.8" x2="1211.2" y2="350.3" stroke="#56b488" stroke-width="1.5"/><line x1="1211.2" y1="350.3" x2="1215.6" y2="341.9" stroke="#b3a660" stroke-width="1.5"/><line x1="1206.8" y1="358.8" x2="1202.2" y2="367.3" stroke="#56b488" stroke-width="1.5"/><line x1="1202.2" y1="367.3" x2="1197.6" y2="375.8" stroke="#b3a660" stroke-width="1.5"/><line x1="1206.8" y1="358.8" x2="1215.5" y2="367.7" stroke="#56b488" stroke-width="1.5"/><line x1="1215.5" y1="367.7" x2="1224.2" y2="376.6" stroke="#b3a660" stroke-width="1.5"/><line x1="1230.8" y1="359.3" x2="1223.2" y2="350.6" stroke="#56b488" stroke-width="1.5"/><line x1="1223.2" y1="350.6" x2="1215.6" y2="341.9" stroke="#b3a660" stroke-width="1.5"/><line x1="1230.8" y1="359.3" x2="1238.0" y2="352.8" stroke="#56b488" stroke-width="1.5"/><line x1="1238.0" y1="352.8" x2="1245.1" y2="346.4" stroke="#b3a660" stroke-width="1.5"/><line x1="1230.8" y1="359.3" x2="1227.5" y2="367.9" stroke="#56b488" stroke-width="1.5"/><line x1="1227.5" y1="367.9" x2="1224.2" y2="376.6" stroke="#b3a660" stroke-width="1.5"/><line x1="1230.8" y1="359.3" x2="1242.1" y2="365.3" stroke="#56b488" stroke-width="1.5"/><line x1="1242.1" y1="365.3" x2="1253.4" y2="371.3" stroke="#b3a660" stroke-width="1.5"/><line x1="1267.9" y1="358.8" x2="1256.5" y2="352.6" stroke="#56b488" stroke-width="1.5"/><line x1="1256.5" y1="352.6" x2="1245.1" y2="346.4" stroke="#b3a660" stroke-width="1.5"/><line x1="1267.9" y1="358.8" x2="1271.1" y2="349.9" stroke="#56b488" stroke-width="1.5"/><line x1="1271.1" y1="349.9" x2="1274.2" y2="341.1" stroke="#b3a660" stroke-width="1.5"/><line x1="1267.9" y1="358.8" x2="1260.7" y2="365.0" stroke="#56b488" stroke-width="1.5"/><line x1="1260.7" y1="365.0" x2="1253.4" y2="371.3" stroke="#b3a660" stroke-width="1.5"/><line x1="1267.9" y1="358.8" x2="1275.4" y2="367.3" stroke="#56b488" stroke-width="1.5"/><line x1="1275.4" y1="367.3" x2="1282.8" y2="375.8" stroke="#b3a660" stroke-width="1.5"/><line x1="1292.0" y1="358.8" x2="1283.1" y2="349.9" stroke="#56b488" stroke-width="1.5"/><line x1="1283.1" y1="349.9" x2="1274.2" y2="341.1" stroke="#b3a660" stroke-width="1.5"/><line x1="1292.0" y1="358.8" x2="1296.4" y2="350.3" stroke="#56b488" stroke-width="1.5"/><line x1="1296.4" y1="350.3" x2="1300.8" y2="341.9" stroke="#b3a660" stroke-width="1.5"/><line x1="1292.0" y1="358.8" x2="1287.4" y2="367.3" stroke="#56b488" stroke-width="1.5"/><line x1="1287.4" y1="367.3" x2="1282.8" y2="375.8" stroke="#b3a660" stroke-width="1.5"/><line x1="1292.0" y1="358.8" x2="1300.7" y2="367.7" stroke="#56b488" stroke-width="1.5"/><line x1="1300.7" y1="367.7" x2="1309.4" y2="376.6" stroke="#b3a660" stroke-width="1.5"/><line x1="1316.0" y1="359.3" x2="1308.4" y2="350.6" stroke="#56b488" stroke-width="1.5"/><line x1="1308.4" y1="350.6" x2="1300.8" y2="341.9" stroke="#b3a660" stroke-width="1.5"/><line x1="1316.0" y1="359.3" x2="1323.2" y2="352.8" stroke="#56b488" stroke-width="1.5"/><line x1="1323.2" y1="352.8" x2="1330.3" y2="346.4" stroke="#b3a660" stroke-width="1.5"/><line x1="1316.0" y1="359.3" x2="1312.7" y2="367.9" stroke="#56b488" stroke-width="1.5"/><line x1="1312.7" y1="367.9" x2="1309.4" y2="376.6" stroke="#b3a660" stroke-width="1.5"/><line x1="1316.0" y1="359.3" x2="1327.3" y2="365.3" stroke="#56b488" stroke-width="1.5"/><line x1="1327.3" y1="365.3" x2="1338.6" y2="371.3" stroke="#b3a660" stroke-width="1.5"/><circle cx="1182.7" cy="358.8" r="5.1" fill="url(#gNb)"/><circle cx="1206.8" cy="358.8" r="5.1" fill="url(#gNb)"/><circle cx="1230.8" cy="359.3" r="5.1" fill="url(#gNb)"/><circle cx="1267.9" cy="358.8" r="5.1" fill="url(#gNb)"/><circle cx="1292.0" cy="358.8" r="5.1" fill="url(#gNb)"/><circle cx="1316.0" cy="359.3" r="5.1" fill="url(#gNb)"/><circle cx="1159.9" cy="346.4" r="4.7" fill="url(#gSe)"/><circle cx="1189.0" cy="341.1" r="4.7" fill="url(#gSe)"/><circle cx="1215.6" cy="341.9" r="4.7" fill="url(#gSe)"/><circle cx="1245.1" cy="346.4" r="4.7" fill="url(#gSe)"/><circle cx="1274.2" cy="341.1" r="4.7" fill="url(#gSe)"/><circle cx="1300.8" cy="341.9" r="4.7" fill="url(#gSe)"/><circle cx="1330.3" cy="346.4" r="4.7" fill="url(#gSe)"/><circle cx="1168.2" cy="371.3" r="4.7" fill="url(#gSe)"/><circle cx="1197.6" cy="375.8" r="4.7" fill="url(#gSe)"/><circle cx="1224.2" cy="376.6" r="4.7" fill="url(#gSe)"/><circle cx="1253.4" cy="371.3" r="4.7" fill="url(#gSe)"/><circle cx="1282.8" cy="375.8" r="4.7" fill="url(#gSe)"/><circle cx="1309.4" cy="376.6" r="4.7" fill="url(#gSe)"/><circle cx="1338.6" cy="371.3" r="4.7" fill="url(#gSe)"/><rect x="1150.4" y="148.6" width="170.0" height="178.9" fill="none" stroke="#000" stroke-width="1.45" stroke-dasharray="4.8,3.2"/>
<circle cx="776.80" cy="432.70" r="12.2" fill="#0a84ff"/>
<text x="795.70" y="447.00" font-size="33.5" text-anchor="start" >2H</text>
<polygon points="967.90,419.10 971.34,427.67 980.55,428.29 973.47,434.21 975.72,443.16 967.90,438.25 960.08,443.16 962.33,434.21 955.25,428.29 964.46,427.67" fill="#ff0a84" stroke="#ff0a84" stroke-width="3.4" stroke-linejoin="round" />
<text x="991.70" y="447.00" font-size="33.3" text-anchor="start" >1T/1H</text>
<polygon points="1138.30,423.15 1151.50,445.65 1125.10,445.65" fill="#ff6a0a" stroke="#ff6a0a" stroke-width="3" stroke-linejoin="round"/>
<text x="1164.70" y="447.00" font-size="33.3" text-anchor="start" >distorted</text>
<text x="1304.60" y="447.00" font-size="33.3" text-anchor="start" >1T</text>
<circle cx="912.9" cy="510.3" r="8.0" fill="url(#gNb)" stroke="#2f6f50" stroke-width="1.2"/>
<text x="929.50" y="520.20" font-size="33.5" text-anchor="start" >Nb</text>
<circle cx="1078.1" cy="509.6" r="7.7" fill="url(#gSe)" stroke="#6a6030" stroke-width="1.2"/>
<text x="1094.70" y="520.20" font-size="33.5" text-anchor="start" >Se/Te</text>
<text x="698.00" y="49.00" font-size="68" text-anchor="start" class="b" >b</text>
</g><g id="panel-c">
<rect x="61.5" y="603.2" width="527.5" height="424.29999999999995" fill="none" stroke="#000" stroke-width="2.6"/>
<line x1="61.5" y1="747.5" x2="589.0" y2="747.5" stroke="#000" stroke-width="2.6"/>
<line x1="61.5" y1="877.3" x2="589.0" y2="877.3" stroke="#000" stroke-width="2.6"/>
<line x1="136.6" y1="1027.5" x2="136.6" y2="1019.5" stroke="#000" stroke-width="2.6"/>
<text x="136.60" y="1062.50" font-size="33" text-anchor="middle" >20</text>
<line x1="287.2" y1="1027.5" x2="287.2" y2="1019.5" stroke="#000" stroke-width="2.6"/>
<text x="287.20" y="1062.50" font-size="33" text-anchor="middle" >40</text>
<line x1="437.8" y1="1027.5" x2="437.8" y2="1019.5" stroke="#000" stroke-width="2.6"/>
<text x="437.80" y="1062.50" font-size="33" text-anchor="middle" >60</text>
<line x1="588.4" y1="1027.5" x2="588.4" y2="1019.5" stroke="#000" stroke-width="2.6"/>
<text x="588.40" y="1062.50" font-size="33" text-anchor="middle" >80</text>
<line x1="211.9" y1="1027.5" x2="211.9" y2="1024.0" stroke="#000" stroke-width="2.2"/>
<line x1="362.5" y1="1027.5" x2="362.5" y2="1024.0" stroke="#000" stroke-width="2.2"/>
<line x1="513.1" y1="1027.5" x2="513.1" y2="1024.0" stroke="#000" stroke-width="2.2"/>
<text x="62.00" y="636.80" font-size="27.9" text-anchor="start" >(002)</text>
<text x="169.30" y="636.80" font-size="27.9" text-anchor="start" >(004)</text>
<text x="278.90" y="636.80" font-size="27.9" text-anchor="start" >(006)</text>
<text x="397.60" y="636.80" font-size="27.9" text-anchor="start" >(008)</text>
<text x="62.00" y="772.50" font-size="27.9" text-anchor="start" >(006)</text>
<text x="152.9" y="772.5" font-size="27.9">(0012)</text><line x1="193.8" y1="776.6" x2="223.6" y2="776.6" stroke="#000" stroke-width="1.4"/>
<text x="260.0" y="772.5" font-size="27.9">(0018)</text><line x1="300.9" y1="776.6" x2="330.7" y2="776.6" stroke="#000" stroke-width="1.4"/>
<text x="372.7" y="772.5" font-size="27.9">(0024)</text><line x1="413.6" y1="776.6" x2="443.4" y2="776.6" stroke="#000" stroke-width="1.4"/>
<text x="62.00" y="916.60" font-size="27.9" text-anchor="start" >(001)</text>
<text x="158.70" y="916.60" font-size="27.9" text-anchor="start" >(002)</text>
<text x="264.50" y="916.60" font-size="27.9" text-anchor="start" >(003)</text>
<text x="376.20" y="916.60" font-size="27.9" text-anchor="start" >(004)</text>
<line x1="59.5" y1="669.7" x2="590.3" y2="669.7" stroke="#0a84ff" stroke-width="4.2"/><path d="M90.3,671.8 L90.9,667.6 L91.6,654.5 Q91.6,653.0 93.5,653.0 Q95.4,653.0 95.4,654.5 L96.5,667.6 L97.7,671.8 Z" fill="#0a84ff"/><path d="M198.3,671.8 L198.9,667.6 L199.6,662.5 Q199.6,661.0 201.5,661.0 Q203.4,661.0 203.4,662.5 L204.5,667.6 L205.7,671.8 Z" fill="#0a84ff"/><path d="M309.3,671.8 L309.9,667.6 L310.6,651.0 Q310.6,649.5 312.5,649.5 Q314.4,649.5 314.4,651.0 L315.5,667.6 L316.7,671.8 Z" fill="#0a84ff"/><path d="M426.8,671.8 L427.4,667.6 L428.1,639.5 Q428.1,638.0 430.0,638.0 Q431.9,638.0 431.9,639.5 L433.0,667.6 L434.2,671.8 Z" fill="#0a84ff"/>
<line x1="59.5" y1="701.6" x2="590.3" y2="701.6" stroke="#0a84ff" stroke-width="4.2"/><path d="M87.8,703.7 L88.4,699.5 L89.1,665.5 Q89.1,664.0 91.0,664.0 Q92.9,664.0 92.9,665.5 L94.0,699.5 L95.2,703.7 Z" fill="#0a84ff"/><path d="M193.3,703.7 L193.9,699.5 L194.6,686.0 Q194.6,684.5 196.5,684.5 Q198.4,684.5 198.4,686.0 L199.5,699.5 L200.7,703.7 Z" fill="#0a84ff"/><path d="M301.8,703.7 L302.4,699.5 L303.1,680.5 Q303.1,679.0 305.0,679.0 Q306.9,679.0 306.9,680.5 L308.0,699.5 L309.2,703.7 Z" fill="#0a84ff"/><path d="M416.8,703.7 L417.4,699.5 L418.1,680.5 Q418.1,679.0 420.0,679.0 Q421.9,679.0 421.9,680.5 L423.0,699.5 L424.2,703.7 Z" fill="#0a84ff"/>
<line x1="59.5" y1="734.8" x2="590.3" y2="734.8" stroke="#0a84ff" stroke-width="4.2"/><path d="M87.3,736.9 L87.9,732.7 L88.6,723.0 Q88.6,721.5 90.5,721.5 Q92.4,721.5 92.4,723.0 L93.5,732.7 L94.7,736.9 Z" fill="#0a84ff"/><path d="M191.8,736.9 L192.4,732.7 L193.1,729.5 Q193.1,728.0 195.0,728.0 Q196.9,728.0 196.9,729.5 L198.0,732.7 L199.2,736.9 Z" fill="#0a84ff"/><path d="M299.3,736.9 L299.9,732.7 L300.6,719.5 Q300.6,718.0 302.5,718.0 Q304.4,718.0 304.4,719.5 L305.5,732.7 L306.7,736.9 Z" fill="#0a84ff"/><path d="M412.8,736.9 L413.4,732.7 L414.1,710.0 Q414.1,708.5 416.0,708.5 Q417.9,708.5 417.9,710.0 L419.0,732.7 L420.2,736.9 Z" fill="#0a84ff"/>
<path d="M59.5,799.6 L61.1,799.6 L62.7,799.4 L64.3,799.3 L65.9,799.1 L67.5,799.5 L69.1,799.4 L70.7,799.6 L72.3,799.3 L73.9,799.6 L75.5,799.3 L77.1,799.6 L78.7,799.5 L80.3,799.3 L81.9,799.4 L83.5,799.5 L85.1,799.2 L86.7,799.4 L88.3,799.6 L89.9,799.3 L91.5,799.6 L93.1,799.5 L94.7,799.6 L96.3,799.3 L97.9,799.2 L99.5,799.6 L101.1,799.6 L102.7,799.4 L104.3,799.2 L105.9,799.2 L107.5,799.5 L109.1,799.3 L110.7,799.7 L112.3,799.5 L113.9,799.2 L115.5,799.5 L117.1,799.3 L118.7,799.7 L120.3,799.6 L121.9,799.4 L123.5,799.5 L125.1,799.5 L126.7,799.6 L128.3,799.7 L129.9,799.1 L131.5,799.3 L133.1,799.5 L134.7,799.3 L136.3,799.5 L137.9,799.2 L139.5,799.6 L141.1,799.4 L142.7,799.2 L144.3,799.5 L145.9,799.3 L147.5,799.2 L149.1,799.4 L150.7,799.2 L152.3,799.2 L153.9,799.6 L155.5,799.5 L157.1,799.1 L158.7,799.6 L160.3,799.1 L161.9,799.3 L163.5,799.6 L165.1,799.5 L166.7,799.3 L168.3,799.3 L169.9,799.3 L171.5,799.2 L173.1,799.7 L174.7,799.1 L176.3,799.4 L177.9,799.5 L179.5,799.3 L181.1,799.7 L182.7,799.2 L184.3,799.7 L185.9,799.6 L187.5,799.5 L189.1,799.6 L190.7,799.4 L192.3,799.6 L193.9,799.6 L195.5,799.4 L197.1,799.4 L198.7,799.5 L200.3,799.3 L201.9,799.2 L203.5,799.5 L205.1,799.3 L206.7,799.4 L208.3,799.6 L209.9,799.2 L211.5,799.1 L213.1,799.2 L214.7,799.5 L216.3,799.3 L217.9,799.3 L219.5,799.4 L221.1,799.7 L222.7,799.3 L224.3,799.3 L225.9,799.6 L227.5,799.5 L229.1,799.3 L230.7,799.4 L232.3,799.4 L233.9,799.2 L235.5,799.3 L237.1,799.3 L238.7,799.6 L240.3,799.3 L241.9,799.5 L243.5,799.7 L245.1,799.7 L246.7,799.3 L248.3,799.5 L249.9,799.3 L251.5,799.3 L253.1,799.4 L254.7,799.6 L256.3,799.7 L257.9,799.3 L259.5,799.1 L261.1,799.4 L262.7,799.1 L264.3,799.1 L265.9,799.6 L267.5,799.2 L269.1,799.5 L270.7,799.3 L272.3,799.7 L273.9,799.6 L275.5,799.1 L277.1,799.2 L278.7,799.7 L280.3,799.5 L281.9,799.4 L283.5,799.6 L285.1,799.6 L286.7,799.4 L288.3,799.4 L289.9,799.2 L291.5,799.3 L293.1,799.2 L294.7,799.5 L296.3,799.5 L297.9,799.2 L299.5,799.5 L301.1,799.2 L302.7,799.2 L304.3,799.5 L305.9,799.4 L307.5,799.6 L309.1,799.5 L310.7,799.5 L312.3,799.2 L313.9,799.6 L315.5,799.2 L317.1,799.5 L318.7,799.6 L320.3,799.6 L321.9,799.6 L323.5,799.4 L325.1,799.5 L326.7,799.6 L328.3,799.2 L329.9,799.7 L331.5,799.6 L333.1,799.4 L334.7,799.6 L336.3,799.4 L337.9,799.3 L339.5,799.5 L341.1,799.1 L342.7,799.6 L344.3,799.7 L345.9,799.3 L347.5,799.7 L349.1,799.2 L350.7,799.6 L352.3,799.3 L353.9,799.7 L355.5,799.4 L357.1,799.7 L358.7,799.1 L360.3,799.2 L361.9,799.6 L363.5,799.5 L365.1,799.4 L366.7,799.1 L368.3,799.2 L369.9,799.3 L371.5,799.1 L373.1,799.7 L374.7,799.6 L376.3,799.7 L377.9,799.5 L379.5,799.3 L381.1,799.1 L382.7,799.5 L384.3,799.2 L385.9,799.4 L387.5,799.4 L389.1,799.4 L390.7,799.1 L392.3,799.1 L393.9,799.4 L395.5,799.1 L397.1,799.4 L398.7,799.2 L400.3,799.3 L401.9,799.2 L403.5,799.4 L405.1,799.3 L406.7,799.2 L408.3,799.2 L409.9,799.4 L411.5,799.6 L413.1,799.4 L414.7,799.2 L416.3,799.3 L417.9,799.2 L419.5,799.4 L421.1,799.6 L422.7,799.4 L424.3,799.2 L425.9,799.3 L427.5,799.3 L429.1,799.4 L430.7,799.3 L432.3,799.7 L433.9,799.4 L435.5,799.5 L437.1,799.5 L438.7,799.5 L440.3,799.6 L441.9,799.3 L443.5,799.5 L445.1,799.7 L446.7,799.2 L448.3,799.5 L449.9,799.3 L451.5,799.1 L453.1,799.1 L454.7,799.6 L456.3,799.2 L457.9,799.5 L459.5,799.2 L461.1,799.3 L462.7,799.1 L464.3,799.4 L465.9,799.6 L467.5,799.2 L469.1,799.4 L470.7,799.7 L472.3,799.3 L473.9,799.4 L475.5,799.5 L477.1,799.6 L478.7,799.2 L480.3,799.5 L481.9,799.2 L483.5,799.2 L485.1,799.7 L486.7,799.1 L488.3,799.7 L489.9,799.6 L491.5,799.5 L493.1,799.5 L494.7,799.5 L496.3,799.3 L497.9,799.4 L499.5,799.2 L501.1,799.6 L502.7,799.6 L504.3,799.6 L505.9,799.2 L507.5,799.5 L509.1,799.3 L510.7,799.6 L512.3,799.5 L513.9,799.7 L515.5,799.5 L517.1,799.5 L518.7,799.6 L520.3,799.2 L521.9,799.5 L523.5,799.1 L525.1,799.3 L526.7,799.2 L528.3,799.7 L529.9,799.1 L531.5,799.7 L533.1,799.7 L534.7,799.4 L536.3,799.6 L537.9,799.1 L539.5,799.2 L541.1,799.1 L542.7,799.1 L544.3,799.1 L545.9,799.6 L547.5,799.2 L549.1,799.5 L550.7,799.3 L552.3,799.2 L553.9,799.4 L555.5,799.2 L557.1,799.7 L558.7,799.3 L560.3,799.5 L561.9,799.4 L563.5,799.5 L565.1,799.4 L566.7,799.3 L568.3,799.2 L569.9,799.6 L571.5,799.2 L573.1,799.4 L574.7,799.6 L576.3,799.4 L577.9,799.7 L579.5,799.6 L581.1,799.4 L582.7,799.2 L584.3,799.5 L585.9,799.4 L587.5,799.6 L589.1,799.4 L590.3,799.4" fill="none" stroke="#ff0a84" stroke-width="4.2" stroke-linejoin="round"/><path d="M86.3,801.5 L86.9,797.3 L87.6,794.5 Q87.6,793.0 89.5,793.0 Q91.4,793.0 91.4,794.5 L92.5,797.3 L93.7,801.5 Z" fill="#ff0a84"/><path d="M189.3,801.5 L189.9,797.3 L190.6,786.5 Q190.6,785.0 192.5,785.0 Q194.4,785.0 194.4,786.5 L195.5,797.3 L196.7,801.5 Z" fill="#ff0a84"/><path d="M296.3,801.5 L296.9,797.3 L297.6,771.0 Q297.6,769.5 299.5,769.5 Q301.4,769.5 301.4,771.0 L302.5,797.3 L303.7,801.5 Z" fill="#ff0a84"/><path d="M408.3,801.5 L408.9,797.3 L409.6,774.5 Q409.6,773.0 411.5,773.0 Q413.4,773.0 413.4,774.5 L414.5,797.3 L415.7,801.5 Z" fill="#ff0a84"/>
<path d="M59.5,831.8 L61.1,831.5 L62.7,832.5 L64.3,831.3 L65.9,832.3 L67.5,831.9 L69.1,831.3 L70.7,832.2 L72.3,831.3 L73.9,832.1 L75.5,831.3 L77.1,831.4 L78.7,832.0 L80.3,832.9 L81.9,831.4 L83.5,831.6 L85.1,832.5 L86.7,833.1 L88.3,832.4 L89.9,832.0 L91.5,833.2 L93.1,831.3 L94.7,832.9 L96.3,831.8 L97.9,831.5 L99.5,831.4 L101.1,831.8 L102.7,832.8 L104.3,831.6 L105.9,832.4 L107.5,832.5 L109.1,831.9 L110.7,832.3 L112.3,831.3 L113.9,831.3 L115.5,831.6 L117.1,832.6 L118.7,832.1 L120.3,831.8 L121.9,832.4 L123.5,832.1 L125.1,831.8 L126.7,832.8 L128.3,832.6 L129.9,831.7 L131.5,832.3 L133.1,832.3 L134.7,833.0 L136.3,832.7 L137.9,831.8 L139.5,833.2 L141.1,831.4 L142.7,832.0 L144.3,832.7 L145.9,831.5 L147.5,832.2 L149.1,831.3 L150.7,832.5 L152.3,832.7 L153.9,832.3 L155.5,833.0 L157.1,831.8 L158.7,832.6 L160.3,832.4 L161.9,832.4 L163.5,832.1 L165.1,832.9 L166.7,833.1 L168.3,832.1 L169.9,832.5 L171.5,831.3 L173.1,832.6 L174.7,832.5 L176.3,833.2 L177.9,832.8 L179.5,831.8 L181.1,832.0 L182.7,832.5 L184.3,831.2 L185.9,832.1 L187.5,831.5 L189.1,831.4 L190.7,831.3 L192.3,832.7 L193.9,831.5 L195.5,831.7 L197.1,832.0 L198.7,832.9 L200.3,831.4 L201.9,832.1 L203.5,832.3 L205.1,833.0 L206.7,832.8 L208.3,832.9 L209.9,831.8 L211.5,832.0 L213.1,831.9 L214.7,833.0 L216.3,833.1 L217.9,831.5 L219.5,831.6 L221.1,831.7 L222.7,831.7 L224.3,832.2 L225.9,832.4 L227.5,831.7 L229.1,831.2 L230.7,832.0 L232.3,831.9 L233.9,832.3 L235.5,833.1 L237.1,832.6 L238.7,832.2 L240.3,832.4 L241.9,832.6 L243.5,831.3 L245.1,833.0 L246.7,832.8 L248.3,832.9 L249.9,832.8 L251.5,832.0 L253.1,832.0 L254.7,831.4 L256.3,832.5 L257.9,831.3 L259.5,831.3 L261.1,831.6 L262.7,831.5 L264.3,831.9 L265.9,831.3 L267.5,831.2 L269.1,831.5 L270.7,831.4 L272.3,831.9 L273.9,831.3 L275.5,832.9 L277.1,832.4 L278.7,831.5 L280.3,831.7 L281.9,831.9 L283.5,831.9 L285.1,831.4 L286.7,832.9 L288.3,833.2 L289.9,832.1 L291.5,832.2 L293.1,831.4 L294.7,831.4 L296.3,831.9 L297.9,831.7 L299.5,832.9 L301.1,831.5 L302.7,831.2 L304.3,833.1 L305.9,832.3 L307.5,831.5 L309.1,832.3 L310.7,831.3 L312.3,832.3 L313.9,833.2 L315.5,832.9 L317.1,832.6 L318.7,831.7 L320.3,831.9 L321.9,831.5 L323.5,832.7 L325.1,832.3 L326.7,832.8 L328.3,831.9 L329.9,831.6 L331.5,832.8 L333.1,833.2 L334.7,832.9 L336.3,832.8 L337.9,832.8 L339.5,832.7 L341.1,831.7 L342.7,832.2 L344.3,831.9 L345.9,831.3 L347.5,831.3 L349.1,831.8 L350.7,831.7 L352.3,832.6 L353.9,833.1 L355.5,832.1 L357.1,833.1 L358.7,833.2 L360.3,833.1 L361.9,831.9 L363.5,831.6 L365.1,831.7 L366.7,831.6 L368.3,831.6 L369.9,832.4 L371.5,833.0 L373.1,832.9 L374.7,832.2 L376.3,832.5 L377.9,832.8 L379.5,831.4 L381.1,832.5 L382.7,833.0 L384.3,832.8 L385.9,832.7 L387.5,832.2 L389.1,831.6 L390.7,832.8 L392.3,831.9 L393.9,832.8 L395.5,833.1 L397.1,832.0 L398.7,832.0 L400.3,833.1 L401.9,832.6 L403.5,831.5 L405.1,831.5 L406.7,831.5 L408.3,833.0 L409.9,832.8 L411.5,831.5 L413.1,832.9 L414.7,833.2 L416.3,832.5 L417.9,831.9 L419.5,832.3 L421.1,831.5 L422.7,831.2 L424.3,833.1 L425.9,832.5 L427.5,832.3 L429.1,833.1 L430.7,832.1 L432.3,832.9 L433.9,832.9 L435.5,831.6 L437.1,831.7 L438.7,831.8 L440.3,831.7 L441.9,832.4 L443.5,831.7 L445.1,832.0 L446.7,831.5 L448.3,833.0 L449.9,831.9 L451.5,832.1 L453.1,832.4 L454.7,833.0 L456.3,832.0 L457.9,833.0 L459.5,832.2 L461.1,832.3 L462.7,832.2 L464.3,831.2 L465.9,832.1 L467.5,831.6 L469.1,831.2 L470.7,832.8 L472.3,831.5 L473.9,832.1 L475.5,832.7 L477.1,832.3 L478.7,831.9 L480.3,832.2 L481.9,832.3 L483.5,832.8 L485.1,831.4 L486.7,832.3 L488.3,831.7 L489.9,831.8 L491.5,832.7 L493.1,832.2 L494.7,832.3 L496.3,832.7 L497.9,833.0 L499.5,832.1 L501.1,832.4 L502.7,832.2 L504.3,832.2 L505.9,832.6 L507.5,832.1 L509.1,832.3 L510.7,832.2 L512.3,833.1 L513.9,832.6 L515.5,833.0 L517.1,833.1 L518.7,831.7 L520.3,832.3 L521.9,833.1 L523.5,832.9 L525.1,831.5 L526.7,831.4 L528.3,832.1 L529.9,831.3 L531.5,831.7 L533.1,831.3 L534.7,832.5 L536.3,832.8 L537.9,833.0 L539.5,831.5 L541.1,832.6 L542.7,832.5 L544.3,831.5 L545.9,833.0 L547.5,833.1 L549.1,831.6 L550.7,833.1 L552.3,832.0 L553.9,832.2 L555.5,833.2 L557.1,832.9 L558.7,831.5 L560.3,832.1 L561.9,832.2 L563.5,831.9 L565.1,831.6 L566.7,831.8 L568.3,832.6 L569.9,831.2 L571.5,832.3 L573.1,832.1 L574.7,831.2 L576.3,831.9 L577.9,832.4 L579.5,832.2 L581.1,831.3 L582.7,833.2 L584.3,832.8 L585.9,833.1 L587.5,831.4 L589.1,831.7 L590.3,832.2" fill="none" stroke="#ff0a84" stroke-width="4.2" stroke-linejoin="round"/><path d="M86.3,834.3 L86.9,830.1 L87.6,821.5 Q87.6,820.0 89.5,820.0 Q91.4,820.0 91.4,821.5 L92.5,830.1 L93.7,834.3 Z" fill="#ff0a84"/><path d="M189.3,834.3 L189.9,830.1 L190.6,818.5 Q190.6,817.0 192.5,817.0 Q194.4,817.0 194.4,818.5 L195.5,830.1 L196.7,834.3 Z" fill="#ff0a84"/><path d="M296.3,834.3 L296.9,830.1 L297.6,808.0 Q297.6,806.5 299.5,806.5 Q301.4,806.5 301.4,808.0 L302.5,830.1 L303.7,834.3 Z" fill="#ff0a84"/><path d="M407.8,834.3 L408.4,830.1 L409.1,807.0 Q409.1,805.5 411.0,805.5 Q412.9,805.5 412.9,807.0 L414.0,830.1 L415.2,834.3 Z" fill="#ff0a84"/>
<path d="M59.5,865.1 L61.1,865.4 L62.7,865.1 L64.3,865.3 L65.9,865.0 L67.5,865.1 L69.1,865.4 L70.7,865.1 L72.3,865.3 L73.9,865.2 L75.5,865.2 L77.1,865.2 L78.7,865.1 L80.3,865.3 L81.9,865.0 L83.5,865.1 L85.1,865.0 L86.7,865.1 L88.3,865.2 L89.9,865.4 L91.5,865.2 L93.1,865.0 L94.7,865.1 L96.3,865.4 L97.9,865.0 L99.5,865.2 L101.1,865.2 L102.7,865.3 L104.3,865.1 L105.9,865.3 L107.5,865.2 L109.1,865.3 L110.7,865.4 L112.3,865.2 L113.9,865.1 L115.5,865.0 L117.1,865.4 L118.7,865.2 L120.3,865.1 L121.9,865.4 L123.5,865.2 L125.1,865.3 L126.7,865.4 L128.3,865.1 L129.9,865.1 L131.5,865.4 L133.1,865.1 L134.7,865.3 L136.3,865.0 L137.9,865.3 L139.5,865.3 L141.1,865.4 L142.7,865.3 L144.3,865.2 L145.9,865.1 L147.5,865.1 L149.1,865.2 L150.7,865.2 L152.3,865.0 L153.9,865.4 L155.5,865.2 L157.1,865.3 L158.7,865.1 L160.3,865.1 L161.9,865.0 L163.5,865.1 L165.1,865.1 L166.7,865.2 L168.3,865.2 L169.9,865.3 L171.5,865.4 L173.1,865.1 L174.7,865.2 L176.3,865.1 L177.9,865.3 L179.5,865.4 L181.1,865.1 L182.7,865.3 L184.3,865.1 L185.9,865.0 L187.5,865.3 L189.1,865.1 L190.7,865.1 L192.3,865.2 L193.9,865.1 L195.5,865.2 L197.1,865.2 L198.7,865.2 L200.3,865.2 L201.9,865.1 L203.5,865.0 L205.1,865.0 L206.7,865.0 L208.3,865.2 L209.9,865.1 L211.5,865.3 L213.1,865.2 L214.7,865.3 L216.3,865.4 L217.9,865.0 L219.5,865.0 L221.1,865.1 L222.7,865.2 L224.3,865.2 L225.9,865.3 L227.5,865.1 L229.1,865.4 L230.7,865.0 L232.3,865.3 L233.9,865.1 L235.5,865.4 L237.1,865.0 L238.7,865.4 L240.3,865.3 L241.9,865.4 L243.5,865.2 L245.1,865.1 L246.7,865.4 L248.3,865.2 L249.9,865.0 L251.5,865.2 L253.1,865.2 L254.7,865.2 L256.3,865.1 L257.9,865.0 L259.5,865.2 L261.1,865.2 L262.7,865.1 L264.3,865.2 L265.9,865.3 L267.5,865.3 L269.1,865.2 L270.7,865.2 L272.3,865.1 L273.9,865.1 L275.5,865.1 L277.1,865.2 L278.7,865.0 L280.3,865.3 L281.9,865.3 L283.5,865.2 L285.1,865.0 L286.7,865.1 L288.3,865.2 L289.9,865.0 L291.5,865.4 L293.1,865.3 L294.7,865.2 L296.3,865.3 L297.9,865.1 L299.5,865.1 L301.1,865.2 L302.7,865.3 L304.3,865.3 L305.9,865.0 L307.5,865.2 L309.1,865.4 L310.7,865.3 L312.3,865.4 L313.9,865.4 L315.5,865.1 L317.1,865.1 L318.7,865.2 L320.3,865.4 L321.9,865.1 L323.5,865.4 L325.1,865.3 L326.7,865.2 L328.3,865.3 L329.9,865.4 L331.5,865.3 L333.1,865.1 L334.7,865.3 L336.3,865.1 L337.9,865.1 L339.5,865.4 L341.1,865.3 L342.7,865.1 L344.3,865.1 L345.9,865.2 L347.5,865.3 L349.1,865.3 L350.7,865.4 L352.3,865.3 L353.9,865.3 L355.5,865.2 L357.1,865.1 L358.7,865.2 L360.3,865.2 L361.9,865.2 L363.5,865.3 L365.1,865.1 L366.7,865.0 L368.3,865.3 L369.9,865.1 L371.5,865.2 L373.1,865.0 L374.7,865.3 L376.3,865.1 L377.9,865.1 L379.5,865.3 L381.1,865.2 L382.7,865.1 L384.3,865.4 L385.9,865.2 L387.5,865.1 L389.1,865.4 L390.7,865.3 L392.3,865.3 L393.9,865.1 L395.5,865.3 L397.1,865.2 L398.7,865.3 L400.3,865.1 L401.9,865.3 L403.5,865.3 L405.1,865.2 L406.7,865.3 L408.3,865.3 L409.9,865.4 L411.5,865.4 L413.1,865.3 L414.7,865.1 L416.3,865.2 L417.9,865.3 L419.5,865.0 L421.1,865.2 L422.7,865.3 L424.3,865.4 L425.9,865.4 L427.5,865.0 L429.1,865.2 L430.7,865.3 L432.3,865.3 L433.9,865.1 L435.5,865.0 L437.1,865.4 L438.7,865.3 L440.3,865.3 L441.9,865.1 L443.5,865.3 L445.1,865.3 L446.7,865.3 L448.3,865.2 L449.9,865.1 L451.5,865.1 L453.1,865.1 L454.7,865.1 L456.3,865.2 L457.9,865.0 L459.5,865.3 L461.1,865.1 L462.7,865.1 L464.3,865.1 L465.9,865.2 L467.5,865.2 L469.1,865.3 L470.7,865.0 L472.3,865.1 L473.9,865.1 L475.5,865.1 L477.1,865.3 L478.7,865.0 L480.3,865.0 L481.9,865.2 L483.5,865.3 L485.1,865.3 L486.7,865.2 L488.3,865.1 L489.9,865.4 L491.5,865.3 L493.1,865.2 L494.7,865.2 L496.3,865.4 L497.9,865.4 L499.5,865.4 L501.1,865.1 L502.7,865.1 L504.3,865.2 L505.9,865.1 L507.5,865.3 L509.1,865.0 L510.7,865.4 L512.3,865.2 L513.9,865.2 L515.5,865.2 L517.1,865.4 L518.7,865.2 L520.3,865.4 L521.9,865.4 L523.5,865.3 L525.1,865.4 L526.7,865.2 L528.3,865.1 L529.9,865.3 L531.5,865.2 L533.1,865.1 L534.7,865.3 L536.3,865.2 L537.9,865.1 L539.5,865.3 L541.1,865.2 L542.7,865.4 L544.3,865.2 L545.9,865.4 L547.5,865.1 L549.1,865.1 L550.7,865.2 L552.3,865.3 L553.9,865.3 L555.5,865.3 L557.1,865.0 L558.7,865.2 L560.3,865.0 L561.9,865.1 L563.5,865.4 L565.1,865.1 L566.7,865.3 L568.3,865.2 L569.9,865.1 L571.5,865.3 L573.1,865.0 L574.7,865.1 L576.3,865.2 L577.9,865.1 L579.5,865.4 L581.1,865.2 L582.7,865.3 L584.3,865.4 L585.9,865.0 L587.5,865.4 L589.1,865.0 L590.3,865.2" fill="none" stroke="#ff0a84" stroke-width="4.2" stroke-linejoin="round"/><path d="M86.8,867.3 L87.4,863.1 L88.1,849.5 Q88.1,848.0 90.0,848.0 Q91.9,848.0 91.9,849.5 L93.0,863.1 L94.2,867.3 Z" fill="#ff0a84"/><path d="M189.8,867.3 L190.4,863.1 L191.1,854.0 Q191.1,852.5 193.0,852.5 Q194.9,852.5 194.9,854.0 L196.0,863.1 L197.2,867.3 Z" fill="#ff0a84"/><path d="M296.3,867.3 L296.9,863.1 L297.6,847.5 Q297.6,846.0 299.5,846.0 Q301.4,846.0 301.4,847.5 L302.5,863.1 L303.7,867.3 Z" fill="#ff0a84"/><path d="M407.8,867.3 L408.4,863.1 L409.1,840.5 Q409.1,839.0 411.0,839.0 Q412.9,839.0 412.9,840.5 L414.0,863.1 L415.2,867.3 Z" fill="#ff0a84"/>
<path d="M59.5,945.3 L61.1,945.2 L62.7,944.7 L64.3,946.1 L65.9,944.5 L67.5,945.4 L69.1,946.1 L70.7,944.6 L72.3,945.5 L73.9,945.6 L75.5,944.6 L77.1,945.2 L78.7,945.8 L80.3,945.3 L81.9,945.8 L83.5,944.8 L85.1,944.9 L86.7,944.7 L88.3,945.4 L89.9,946.2 L91.5,945.6 L93.1,945.9 L94.7,945.2 L96.3,945.8 L97.9,944.7 L99.5,945.0 L101.1,945.7 L102.7,945.8 L104.3,945.3 L105.9,944.7 L107.5,945.0 L109.1,944.9 L110.7,945.0 L112.3,946.0 L113.9,944.9 L115.5,946.1 L117.1,946.1 L118.7,944.6 L120.3,945.2 L121.9,945.4 L123.5,944.5 L125.1,945.3 L126.7,946.1 L128.3,944.7 L129.9,945.6 L131.5,944.7 L133.1,945.5 L134.7,946.1 L136.3,944.9 L137.9,944.5 L139.5,944.7 L141.1,945.5 L142.7,944.5 L144.3,944.7 L145.9,945.4 L147.5,946.2 L149.1,945.3 L150.7,945.2 L152.3,945.6 L153.9,944.7 L155.5,945.5 L157.1,944.8 L158.7,945.6 L160.3,946.2 L161.9,944.6 L163.5,945.5 L165.1,945.6 L166.7,944.8 L168.3,945.0 L169.9,946.3 L171.5,946.3 L173.1,944.7 L174.7,945.8 L176.3,946.2 L177.9,944.9 L179.5,945.6 L181.1,944.6 L182.7,945.2 L184.3,945.7 L185.9,945.6 L187.5,945.9 L189.1,944.7 L190.7,945.1 L192.3,946.1 L193.9,945.6 L195.5,945.3 L197.1,945.2 L198.7,946.3 L200.3,945.5 L201.9,944.5 L203.5,945.9 L205.1,945.1 L206.7,945.3 L208.3,944.9 L209.9,945.3 L211.5,945.1 L213.1,944.7 L214.7,945.6 L216.3,944.7 L217.9,945.9 L219.5,944.5 L221.1,945.9 L222.7,946.0 L224.3,945.4 L225.9,945.8 L227.5,944.9 L229.1,945.8 L230.7,945.3 L232.3,944.9 L233.9,946.2 L235.5,945.2 L237.1,945.2 L238.7,946.0 L240.3,945.2 L241.9,945.7 L243.5,944.8 L245.1,946.0 L246.7,945.0 L248.3,944.6 L249.9,946.3 L251.5,944.8 L253.1,946.2 L254.7,946.3 L256.3,945.6 L257.9,944.5 L259.5,944.6 L261.1,944.9 L262.7,945.2 L264.3,945.6 L265.9,946.2 L267.5,945.1 L269.1,944.8 L270.7,945.5 L272.3,944.7 L273.9,944.7 L275.5,945.5 L277.1,945.8 L278.7,944.6 L280.3,945.3 L281.9,945.8 L283.5,945.9 L285.1,945.2 L286.7,946.1 L288.3,944.8 L289.9,945.8 L291.5,945.9 L293.1,946.1 L294.7,945.4 L296.3,944.7 L297.9,944.6 L299.5,945.5 L301.1,944.8 L302.7,945.6 L304.3,944.7 L305.9,945.9 L307.5,944.9 L309.1,944.5 L310.7,944.8 L312.3,945.3 L313.9,945.5 L315.5,945.2 L317.1,944.8 L318.7,945.4 L320.3,946.2 L321.9,945.5 L323.5,946.2 L325.1,944.6 L326.7,946.3 L328.3,946.1 L329.9,945.5 L331.5,945.4 L333.1,945.5 L334.7,946.1 L336.3,944.6 L337.9,945.7 L339.5,945.5 L341.1,945.0 L342.7,945.8 L344.3,945.8 L345.9,944.7 L347.5,945.8 L349.1,945.3 L350.7,945.4 L352.3,945.6 L353.9,944.6 L355.5,945.6 L357.1,945.2 L358.7,946.1 L360.3,944.9 L361.9,946.0 L363.5,945.8 L365.1,945.6 L366.7,946.1 L368.3,944.6 L369.9,945.6 L371.5,945.6 L373.1,945.7 L374.7,945.2 L376.3,944.6 L377.9,944.8 L379.5,945.6 L381.1,944.8 L382.7,944.6 L384.3,945.1 L385.9,945.3 L387.5,945.5 L389.1,944.5 L390.7,945.9 L392.3,945.1 L393.9,945.9 L395.5,944.5 L397.1,946.2 L398.7,945.6 L400.3,946.3 L401.9,946.3 L403.5,946.0 L405.1,944.7 L406.7,945.1 L408.3,944.9 L409.9,945.9 L411.5,944.8 L413.1,944.9 L414.7,944.7 L416.3,944.7 L417.9,946.2 L419.5,946.3 L421.1,945.2 L422.7,945.8 L424.3,945.3 L425.9,945.4 L427.5,945.2 L429.1,945.6 L430.7,944.9 L432.3,945.0 L433.9,945.4 L435.5,944.9 L437.1,945.3 L438.7,946.2 L440.3,944.5 L441.9,944.7 L443.5,945.9 L445.1,944.6 L446.7,945.0 L448.3,946.0 L449.9,945.6 L451.5,944.9 L453.1,944.6 L454.7,945.0 L456.3,945.0 L457.9,945.9 L459.5,946.3 L461.1,945.9 L462.7,946.1 L464.3,946.2 L465.9,946.1 L467.5,946.2 L469.1,946.2 L470.7,944.7 L472.3,945.1 L473.9,944.9 L475.5,945.6 L477.1,945.4 L478.7,945.1 L480.3,946.0 L481.9,945.2 L483.5,944.9 L485.1,945.0 L486.7,945.3 L488.3,945.6 L489.9,945.5 L491.5,945.3 L493.1,944.8 L494.7,945.2 L496.3,945.1 L497.9,944.8 L499.5,945.5 L501.1,944.8 L502.7,945.8 L504.3,945.7 L505.9,944.7 L507.5,945.6 L509.1,945.1 L510.7,945.3 L512.3,945.6 L513.9,945.9 L515.5,946.1 L517.1,945.8 L518.7,944.9 L520.3,945.5 L521.9,945.1 L523.5,944.5 L525.1,945.5 L526.7,945.3 L528.3,946.1 L529.9,945.1 L531.5,946.0 L533.1,945.4 L534.7,944.7 L536.3,945.8 L537.9,945.0 L539.5,945.5 L541.1,944.6 L542.7,944.5 L544.3,946.2 L545.9,944.6 L547.5,944.8 L549.1,944.8 L550.7,944.7 L552.3,946.0 L553.9,946.3 L555.5,945.7 L557.1,945.2 L558.7,946.1 L560.3,945.4 L561.9,944.7 L563.5,945.7 L565.1,945.1 L566.7,945.0 L568.3,945.1 L569.9,945.2 L571.5,944.8 L573.1,945.6 L574.7,946.1 L576.3,945.5 L577.9,944.5 L579.5,945.7 L581.1,944.5 L582.7,945.4 L584.3,946.1 L585.9,945.7 L587.5,946.1 L589.1,945.9 L590.3,945.4" fill="none" stroke="#ff6a0a" stroke-width="4.2" stroke-linejoin="round"/><path d="M85.8,947.5 L86.4,943.3 L87.1,932.0 Q87.1,930.5 89.0,930.5 Q90.9,930.5 90.9,932.0 L92.0,943.3 L93.2,947.5 Z" fill="#ff6a0a"/><path d="M187.8,947.5 L188.4,943.3 L189.1,928.0 Q189.1,926.5 191.0,926.5 Q192.9,926.5 192.9,928.0 L194.0,943.3 L195.2,947.5 Z" fill="#ff6a0a"/><path d="M293.8,947.5 L294.4,943.3 L295.1,919.5 Q295.1,918.0 297.0,918.0 Q298.9,918.0 298.9,919.5 L300.0,943.3 L301.2,947.5 Z" fill="#ff6a0a"/><path d="M405.6,947.5 L406.2,943.3 L406.9,920.0 Q406.9,918.5 408.8,918.5 Q410.7,918.5 410.7,920.0 L411.8,943.3 L413.0,947.5 Z" fill="#ff6a0a"/>
<path d="M59.5,978.4 L61.1,978.4 L62.7,978.4 L64.3,978.3 L65.9,978.5 L67.5,978.5 L69.1,978.5 L70.7,978.3 L72.3,978.4 L73.9,978.3 L75.5,978.3 L77.1,978.6 L78.7,978.6 L80.3,978.2 L81.9,978.5 L83.5,978.4 L85.1,978.4 L86.7,978.3 L88.3,978.5 L89.9,978.4 L91.5,978.5 L93.1,978.5 L94.7,978.3 L96.3,978.5 L97.9,978.6 L99.5,978.6 L101.1,978.4 L102.7,978.2 L104.3,978.2 L105.9,978.3 L107.5,978.6 L109.1,978.3 L110.7,978.3 L112.3,978.6 L113.9,978.3 L115.5,978.4 L117.1,978.4 L118.7,978.2 L120.3,978.4 L121.9,978.5 L123.5,978.3 L125.1,978.3 L126.7,978.4 L128.3,978.2 L129.9,978.4 L131.5,978.5 L133.1,978.5 L134.7,978.4 L136.3,978.5 L137.9,978.3 L139.5,978.4 L141.1,978.3 L142.7,978.4 L144.3,978.2 L145.9,978.5 L147.5,978.2 L149.1,978.3 L150.7,978.5 L152.3,978.6 L153.9,978.4 L155.5,978.4 L157.1,978.3 L158.7,978.3 L160.3,978.4 L161.9,978.3 L163.5,978.2 L165.1,978.4 L166.7,978.3 L168.3,978.5 L169.9,978.5 L171.5,978.5 L173.1,978.4 L174.7,978.3 L176.3,978.4 L177.9,978.2 L179.5,978.5 L181.1,978.3 L182.7,978.3 L184.3,978.2 L185.9,978.4 L187.5,978.4 L189.1,978.4 L190.7,978.5 L192.3,978.5 L193.9,978.3 L195.5,978.4 L197.1,978.6 L198.7,978.4 L200.3,978.4 L201.9,978.2 L203.5,978.4 L205.1,978.4 L206.7,978.4 L208.3,978.4 L209.9,978.4 L211.5,978.4 L213.1,978.4 L214.7,978.3 L216.3,978.4 L217.9,978.6 L219.5,978.4 L221.1,978.2 L222.7,978.2 L224.3,978.4 L225.9,978.2 L227.5,978.2 L229.1,978.2 L230.7,978.4 L232.3,978.6 L233.9,978.4 L235.5,978.4 L237.1,978.4 L238.7,978.4 L240.3,978.4 L241.9,978.5 L243.5,978.6 L245.1,978.5 L246.7,978.4 L248.3,978.5 L249.9,978.6 L251.5,978.3 L253.1,978.3 L254.7,978.4 L256.3,978.5 L257.9,978.5 L259.5,978.4 L261.1,978.5 L262.7,978.4 L264.3,978.5 L265.9,978.6 L267.5,978.4 L269.1,978.5 L270.7,978.5 L272.3,978.6 L273.9,978.2 L275.5,978.6 L277.1,978.5 L278.7,978.6 L280.3,978.6 L281.9,978.3 L283.5,978.5 L285.1,978.3 L286.7,978.4 L288.3,978.6 L289.9,978.3 L291.5,978.3 L293.1,978.2 L294.7,978.3 L296.3,978.3 L297.9,978.2 L299.5,978.6 L301.1,978.6 L302.7,978.4 L304.3,978.5 L305.9,978.5 L307.5,978.4 L309.1,978.4 L310.7,978.5 L312.3,978.4 L313.9,978.3 L315.5,978.3 L317.1,978.5 L318.7,978.5 L320.3,978.3 L321.9,978.4 L323.5,978.5 L325.1,978.5 L326.7,978.5 L328.3,978.2 L329.9,978.4 L331.5,978.2 L333.1,978.2 L334.7,978.3 L336.3,978.4 L337.9,978.5 L339.5,978.5 L341.1,978.3 L342.7,978.5 L344.3,978.4 L345.9,978.4 L347.5,978.3 L349.1,978.4 L350.7,978.3 L352.3,978.5 L353.9,978.4 L355.5,978.4 L357.1,978.4 L358.7,978.4 L360.3,978.5 L361.9,978.5 L363.5,978.5 L365.1,978.4 L366.7,978.5 L368.3,978.6 L369.9,978.6 L371.5,978.5 L373.1,978.2 L374.7,978.5 L376.3,978.5 L377.9,978.2 L379.5,978.3 L381.1,978.3 L382.7,978.5 L384.3,978.4 L385.9,978.3 L387.5,978.3 L389.1,978.3 L390.7,978.2 L392.3,978.5 L393.9,978.6 L395.5,978.3 L397.1,978.5 L398.7,978.6 L400.3,978.3 L401.9,978.4 L403.5,978.4 L405.1,978.6 L406.7,978.5 L408.3,978.2 L409.9,978.3 L411.5,978.5 L413.1,978.4 L414.7,978.4 L416.3,978.5 L417.9,978.5 L419.5,978.6 L421.1,978.3 L422.7,978.2 L424.3,978.5 L425.9,978.2 L427.5,978.4 L429.1,978.5 L430.7,978.4 L432.3,978.4 L433.9,978.3 L435.5,978.3 L437.1,978.4 L438.7,978.5 L440.3,978.6 L441.9,978.2 L443.5,978.6 L445.1,978.4 L446.7,978.3 L448.3,978.4 L449.9,978.4 L451.5,978.3 L453.1,978.3 L454.7,978.5 L456.3,978.5 L457.9,978.4 L459.5,978.5 L461.1,978.6 L462.7,978.3 L464.3,978.5 L465.9,978.5 L467.5,978.3 L469.1,978.4 L470.7,978.4 L472.3,978.3 L473.9,978.4 L475.5,978.3 L477.1,978.6 L478.7,978.3 L480.3,978.5 L481.9,978.4 L483.5,978.6 L485.1,978.5 L486.7,978.3 L488.3,978.4 L489.9,978.2 L491.5,978.2 L493.1,978.3 L494.7,978.6 L496.3,978.2 L497.9,978.3 L499.5,978.5 L501.1,978.3 L502.7,978.3 L504.3,978.6 L505.9,978.2 L507.5,978.4 L509.1,978.4 L510.7,978.3 L512.3,978.3 L513.9,978.3 L515.5,978.4 L517.1,978.5 L518.7,978.4 L520.3,978.5 L521.9,978.6 L523.5,978.3 L525.1,978.6 L526.7,978.4 L528.3,978.4 L529.9,978.4 L531.5,978.6 L533.1,978.4 L534.7,978.2 L536.3,978.6 L537.9,978.2 L539.5,978.2 L541.1,978.5 L542.7,978.3 L544.3,978.3 L545.9,978.5 L547.5,978.6 L549.1,978.3 L550.7,978.6 L552.3,978.4 L553.9,978.4 L555.5,978.4 L557.1,978.2 L558.7,978.3 L560.3,978.5 L561.9,978.5 L563.5,978.2 L565.1,978.5 L566.7,978.4 L568.3,978.4 L569.9,978.4 L571.5,978.3 L573.1,978.3 L574.7,978.6 L576.3,978.3 L577.9,978.5 L579.5,978.4 L581.1,978.2 L582.7,978.5 L584.3,978.2 L585.9,978.5 L587.5,978.3 L589.1,978.6 L590.3,978.4" fill="none" stroke="#ff6a0a" stroke-width="4.2" stroke-linejoin="round"/><path d="M84.8,980.5 L85.4,976.3 L86.1,964.5 Q86.1,963.0 88.0,963.0 Q89.9,963.0 89.9,964.5 L91.0,976.3 L92.2,980.5 Z" fill="#ff6a0a"/><path d="M186.8,980.5 L187.4,976.3 L188.1,959.5 Q188.1,958.0 190.0,958.0 Q191.9,958.0 191.9,959.5 L193.0,976.3 L194.2,980.5 Z" fill="#ff6a0a"/><path d="M291.8,980.5 L292.4,976.3 L293.1,955.5 Q293.1,954.0 295.0,954.0 Q296.9,954.0 296.9,955.5 L298.0,976.3 L299.2,980.5 Z" fill="#ff6a0a"/><path d="M403.1,980.5 L403.7,976.3 L404.4,951.0 Q404.4,949.5 406.3,949.5 Q408.2,949.5 408.2,951.0 L409.3,976.3 L410.5,980.5 Z" fill="#ff6a0a"/>
<path d="M59.5,1011.2 L61.1,1011.2 L62.7,1011.4 L64.3,1011.2 L65.9,1011.2 L67.5,1011.2 L69.1,1011.1 L70.7,1011.2 L72.3,1011.3 L73.9,1011.3 L75.5,1011.0 L77.1,1011.1 L78.7,1011.0 L80.3,1011.3 L81.9,1011.3 L83.5,1011.0 L85.1,1011.4 L86.7,1011.4 L88.3,1011.3 L89.9,1011.2 L91.5,1011.1 L93.1,1011.0 L94.7,1011.2 L96.3,1011.0 L97.9,1011.1 L99.5,1011.1 L101.1,1011.0 L102.7,1011.2 L104.3,1011.2 L105.9,1011.3 L107.5,1011.2 L109.1,1011.3 L110.7,1011.2 L112.3,1011.3 L113.9,1011.2 L115.5,1011.1 L117.1,1011.4 L118.7,1011.4 L120.3,1011.3 L121.9,1011.3 L123.5,1011.1 L125.1,1011.1 L126.7,1011.1 L128.3,1011.0 L129.9,1011.3 L131.5,1011.2 L133.1,1011.3 L134.7,1011.2 L136.3,1011.4 L137.9,1011.3 L139.5,1011.0 L141.1,1011.1 L142.7,1011.4 L144.3,1011.2 L145.9,1011.4 L147.5,1011.2 L149.1,1011.0 L150.7,1011.3 L152.3,1011.3 L153.9,1011.1 L155.5,1011.0 L157.1,1011.1 L158.7,1011.4 L160.3,1011.3 L161.9,1011.0 L163.5,1011.1 L165.1,1011.0 L166.7,1011.0 L168.3,1011.3 L169.9,1011.1 L171.5,1011.2 L173.1,1011.2 L174.7,1011.1 L176.3,1011.3 L177.9,1011.1 L179.5,1011.3 L181.1,1011.0 L182.7,1011.2 L184.3,1011.1 L185.9,1011.1 L187.5,1011.4 L189.1,1011.3 L190.7,1011.1 L192.3,1011.4 L193.9,1011.1 L195.5,1011.2 L197.1,1011.3 L198.7,1011.3 L200.3,1011.0 L201.9,1011.4 L203.5,1011.1 L205.1,1011.1 L206.7,1011.3 L208.3,1011.1 L209.9,1011.1 L211.5,1011.0 L213.1,1011.0 L214.7,1011.2 L216.3,1011.1 L217.9,1011.2 L219.5,1011.1 L221.1,1011.2 L222.7,1011.4 L224.3,1011.2 L225.9,1011.2 L227.5,1011.3 L229.1,1011.1 L230.7,1011.1 L232.3,1011.4 L233.9,1011.3 L235.5,1011.1 L237.1,1011.1 L238.7,1011.3 L240.3,1011.4 L241.9,1011.1 L243.5,1011.4 L245.1,1011.4 L246.7,1011.2 L248.3,1011.2 L249.9,1011.0 L251.5,1011.0 L253.1,1011.4 L254.7,1011.1 L256.3,1011.3 L257.9,1011.1 L259.5,1011.3 L261.1,1011.2 L262.7,1011.1 L264.3,1011.1 L265.9,1011.3 L267.5,1011.0 L269.1,1011.1 L270.7,1011.2 L272.3,1011.3 L273.9,1011.2 L275.5,1011.1 L277.1,1011.4 L278.7,1011.1 L280.3,1011.0 L281.9,1011.1 L283.5,1011.2 L285.1,1011.0 L286.7,1011.1 L288.3,1011.1 L289.9,1011.2 L291.5,1011.1 L293.1,1011.1 L294.7,1011.4 L296.3,1011.4 L297.9,1011.3 L299.5,1011.3 L301.1,1011.2 L302.7,1011.1 L304.3,1011.0 L305.9,1011.0 L307.5,1011.4 L309.1,1011.3 L310.7,1011.4 L312.3,1011.0 L313.9,1011.3 L315.5,1011.2 L317.1,1011.3 L318.7,1011.1 L320.3,1011.4 L321.9,1011.0 L323.5,1011.2 L325.1,1011.3 L326.7,1011.4 L328.3,1011.3 L329.9,1011.3 L331.5,1011.3 L333.1,1011.4 L334.7,1011.1 L336.3,1011.3 L337.9,1011.4 L339.5,1011.3 L341.1,1011.2 L342.7,1011.3 L344.3,1011.3 L345.9,1011.2 L347.5,1011.2 L349.1,1011.2 L350.7,1011.2 L352.3,1011.2 L353.9,1011.0 L355.5,1011.3 L357.1,1011.4 L358.7,1011.4 L360.3,1011.3 L361.9,1011.2 L363.5,1011.3 L365.1,1011.2 L366.7,1011.2 L368.3,1011.3 L369.9,1011.0 L371.5,1011.3 L373.1,1011.0 L374.7,1011.2 L376.3,1011.2 L377.9,1011.1 L379.5,1011.3 L381.1,1011.2 L382.7,1011.2 L384.3,1011.4 L385.9,1011.1 L387.5,1011.0 L389.1,1011.1 L390.7,1011.3 L392.3,1011.1 L393.9,1011.1 L395.5,1011.4 L397.1,1011.3 L398.7,1011.2 L400.3,1011.4 L401.9,1011.1 L403.5,1011.3 L405.1,1011.1 L406.7,1011.2 L408.3,1011.3 L409.9,1011.4 L411.5,1011.4 L413.1,1011.2 L414.7,1011.2 L416.3,1011.1 L417.9,1011.1 L419.5,1011.2 L421.1,1011.3 L422.7,1011.3 L424.3,1011.3 L425.9,1011.4 L427.5,1011.1 L429.1,1011.1 L430.7,1011.2 L432.3,1011.1 L433.9,1011.1 L435.5,1011.2 L437.1,1011.3 L438.7,1011.2 L440.3,1011.1 L441.9,1011.3 L443.5,1011.4 L445.1,1011.2 L446.7,1011.0 L448.3,1011.0 L449.9,1011.3 L451.5,1011.0 L453.1,1011.3 L454.7,1011.2 L456.3,1011.1 L457.9,1011.3 L459.5,1011.0 L461.1,1011.1 L462.7,1011.2 L464.3,1011.0 L465.9,1011.3 L467.5,1011.1 L469.1,1011.1 L470.7,1011.0 L472.3,1011.3 L473.9,1011.2 L475.5,1011.3 L477.1,1011.3 L478.7,1011.3 L480.3,1011.4 L481.9,1011.3 L483.5,1011.1 L485.1,1011.2 L486.7,1011.1 L488.3,1011.0 L489.9,1011.2 L491.5,1011.3 L493.1,1011.1 L494.7,1011.1 L496.3,1011.1 L497.9,1011.3 L499.5,1011.2 L501.1,1011.2 L502.7,1011.3 L504.3,1011.2 L505.9,1011.3 L507.5,1011.4 L509.1,1011.0 L510.7,1011.4 L512.3,1011.3 L513.9,1011.1 L515.5,1011.2 L517.1,1011.3 L518.7,1011.4 L520.3,1011.2 L521.9,1011.2 L523.5,1011.4 L525.1,1011.3 L526.7,1011.4 L528.3,1011.2 L529.9,1011.3 L531.5,1011.1 L533.1,1011.3 L534.7,1011.3 L536.3,1011.3 L537.9,1011.3 L539.5,1011.1 L541.1,1011.4 L542.7,1011.4 L544.3,1011.4 L545.9,1011.2 L547.5,1011.3 L549.1,1011.1 L550.7,1011.4 L552.3,1011.3 L553.9,1011.1 L555.5,1011.0 L557.1,1011.2 L558.7,1011.2 L560.3,1011.3 L561.9,1011.2 L563.5,1011.0 L565.1,1011.3 L566.7,1011.0 L568.3,1011.3 L569.9,1011.1 L571.5,1011.1 L573.1,1011.3 L574.7,1011.1 L576.3,1011.1 L577.9,1011.2 L579.5,1011.3 L581.1,1011.3 L582.7,1011.3 L584.3,1011.4 L585.9,1011.2 L587.5,1011.4 L589.1,1011.0 L590.3,1011.2" fill="none" stroke="#ff6a0a" stroke-width="4.2" stroke-linejoin="round"/><path d="M84.3,1013.3 L84.9,1009.1 L85.6,1003.0 Q85.6,1001.5 87.5,1001.5 Q89.4,1001.5 89.4,1003.0 L90.5,1009.1 L91.7,1013.3 Z" fill="#ff6a0a"/><path d="M185.8,1013.3 L186.4,1009.1 L187.1,987.0 Q187.1,985.5 189.0,985.5 Q190.9,985.5 190.9,987.0 L192.0,1009.1 L193.2,1013.3 Z" fill="#ff6a0a"/><path d="M290.3,1013.3 L290.9,1009.1 L291.6,986.0 Q291.6,984.5 293.5,984.5 Q295.4,984.5 295.4,986.0 L296.5,1009.1 L297.7,1013.3 Z" fill="#ff6a0a"/><path d="M400.6,1013.3 L401.2,1009.1 L401.9,992.0 Q401.9,990.5 403.8,990.5 Q405.7,990.5 405.7,992.0 L406.8,1009.1 L408.0,1013.3 Z" fill="#ff6a0a"/>
<text x="473" y="665.4" font-size="27.9"><tspan class="i">x</tspan> = 0</text>
<text x="473" y="698.4" font-size="27.9"><tspan class="i">x</tspan> = 0.28</text>
<text x="473" y="730.5" font-size="27.9"><tspan class="i">x</tspan> = 0.47</text>
<text x="473" y="796.3" font-size="27.9"><tspan class="i">x</tspan> = 0.64</text>
<text x="473" y="829.0" font-size="27.9"><tspan class="i">x</tspan> = 0.73</text>
<text x="473" y="862.5" font-size="27.9"><tspan class="i">x</tspan> = 0.89</text>
<text x="473" y="941.5" font-size="27.9"><tspan class="i">x</tspan> = 1.13</text>
<text x="473" y="975.0" font-size="27.9"><tspan class="i">x</tspan> = 1.48</text>
<text x="473" y="1007.5" font-size="27.9"><tspan class="i">x</tspan> = 2</text>
<text x="325.5" y="1118" font-size="34.5" text-anchor="middle">2<tspan class="i">θ</tspan> (°)</text>
<text transform="translate(25.5,839.5) rotate(-90)" font-size="34.3" text-anchor="middle">Intensity (arbitrary units)</text>
<text x="0.70" y="645.20" font-size="68" text-anchor="start" class="b" >c</text>
</g><g id="panel-d">
<rect x="812.8" y="603.5" width="526.4000000000001" height="424.0999999999999" fill="url(#bgD)"/>
<circle cx="865.00" cy="975.60" r="13.6" fill="#0a84ff"/>
<circle cx="923.50" cy="851.50" r="13.6" fill="#0a84ff"/>
<circle cx="964.00" cy="800.50" r="13.6" fill="#0a84ff"/>
<polygon points="999.50,733.70 1003.09,742.65 1012.72,743.30 1005.32,749.49 1007.67,758.85 999.50,753.72 991.33,758.85 993.68,749.49 986.28,743.30 995.91,742.65" fill="#ff0a84" stroke="#ff0a84" stroke-width="3.4" stroke-linejoin="round" />
<polygon points="1018.50,735.70 1022.09,744.65 1031.72,745.30 1024.32,751.49 1026.67,760.85 1018.50,755.72 1010.33,760.85 1012.68,751.49 1005.28,745.30 1014.91,744.65" fill="#ff0a84" stroke="#ff0a84" stroke-width="3.4" stroke-linejoin="round" />
<polygon points="1053.00,729.90 1056.59,738.85 1066.22,739.50 1058.82,745.69 1061.17,755.05 1053.00,749.92 1044.83,755.05 1047.18,745.69 1039.78,739.50 1049.41,738.85" fill="#ff0a84" stroke="#ff0a84" stroke-width="3.4" stroke-linejoin="round" />
<polygon points="1102.90,676.10 1116.80,700.30 1089.00,700.30" fill="#ff6a0a" stroke="#ff6a0a" stroke-width="3" stroke-linejoin="round"/>
<polygon points="1177.30,646.90 1191.20,671.10 1163.40,671.10" fill="#ff6a0a" stroke="#ff6a0a" stroke-width="3" stroke-linejoin="round"/>
<polygon points="1286.60,618.00 1300.50,642.20 1272.70,642.20" fill="#ff6a0a" stroke="#ff6a0a" stroke-width="3" stroke-linejoin="round"/>
<line x1="862" y1="974" x2="963.5" y2="799.5" stroke="#000" stroke-width="4.6" stroke-linecap="butt"/>
<line x1="1099.5" y1="693" x2="1293" y2="629.5" stroke="#000" stroke-width="4.6" stroke-linecap="butt"/>
<text x="864.20" y="719.50" font-size="34" text-anchor="start" >2H</text>
<text x="978.50" y="903.00" font-size="34" text-anchor="start" >1T/1H</text>
<text x="1113.50" y="824.50" font-size="34" text-anchor="start" >distorted</text>
<text x="1292.50" y="824.50" font-size="34" text-anchor="end" >1T</text>
<line x1="865.0" y1="1027.6" x2="865.0" y2="1020.5999999999999" stroke="#000" stroke-width="2.6"/>
<text x="865.00" y="1062.30" font-size="33" text-anchor="middle" >0.0</text>
<line x1="970.5" y1="1027.6" x2="970.5" y2="1020.5999999999999" stroke="#000" stroke-width="2.6"/>
<text x="970.50" y="1062.30" font-size="33" text-anchor="middle" >0.5</text>
<line x1="1076.0" y1="1027.6" x2="1076.0" y2="1020.5999999999999" stroke="#000" stroke-width="2.6"/>
<text x="1076.00" y="1062.30" font-size="33" text-anchor="middle" >1.0</text>
<line x1="1181.5" y1="1027.6" x2="1181.5" y2="1020.5999999999999" stroke="#000" stroke-width="2.6"/>
<text x="1181.50" y="1062.30" font-size="33" text-anchor="middle" >1.5</text>
<line x1="1287.0" y1="1027.6" x2="1287.0" y2="1020.5999999999999" stroke="#000" stroke-width="2.6"/>
<text x="1287.00" y="1062.30" font-size="33" text-anchor="middle" >2.0</text>
<line x1="812.8" y1="956.6" x2="819.8" y2="956.6" stroke="#000" stroke-width="2.6"/>
<text x="801.50" y="964.65" font-size="33" text-anchor="end" >6.3</text>
<line x1="812.8" y1="862.5" x2="819.8" y2="862.5" stroke="#000" stroke-width="2.6"/>
<text x="801.50" y="870.50" font-size="33" text-anchor="end" >6.4</text>
<line x1="812.8" y1="768.3" x2="819.8" y2="768.3" stroke="#000" stroke-width="2.6"/>
<text x="801.50" y="776.35" font-size="33" text-anchor="end" >6.5</text>
<line x1="812.8" y1="674.2" x2="819.8" y2="674.2" stroke="#000" stroke-width="2.6"/>
<text x="801.50" y="682.20" font-size="33" text-anchor="end" >6.6</text>
<rect x="812.8" y="603.5" width="526.4000000000001" height="424.0999999999999" fill="none" stroke="#000" stroke-width="2.6"/>
<text x="1068.50" y="1116.30" font-size="33.8" text-anchor="middle"><tspan class="i">x</tspan> in NbSe<tspan font-size="21.0" dy="7.4">2-<tspan class="i">x</tspan></tspan><tspan dy="-7.4">Te</tspan><tspan font-size="21.0" dy="7.4" class="i">x</tspan></text>
<text transform="translate(729.5,824) rotate(-90)" font-size="34.5" text-anchor="middle"><tspan class="i">c</tspan>/<tspan class="i">n</tspan> (Å)</text>
<text x="698.40" y="642.50" font-size="68" text-anchor="start" class="b" >d</text>
</g>
</svg>
</body>
</html>
